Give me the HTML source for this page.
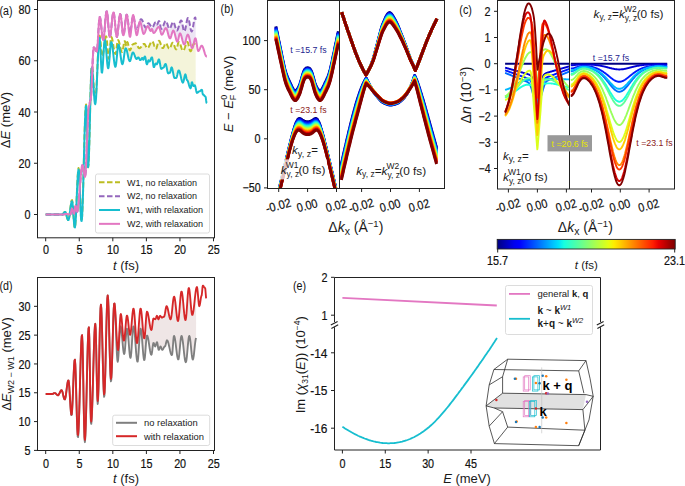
<!DOCTYPE html>
<html><head><meta charset="utf-8"><style>
html,body{margin:0;padding:0;background:#fff;}
svg{display:block;font-family:"Liberation Sans", sans-serif;}
</style></head><body>
<svg width="685" height="486" viewBox="0 0 685 486">
<defs><clipPath id="clipa"><rect x="37.5" y="0.5" width="177" height="237"/></clipPath></defs>
<rect x="0" y="0" width="685" height="486" fill="#fff"/>
<g id="pa">
<path d="M124.1,42.5 L124.5,41.3 L124.9,41.2 L125.3,42.3 L125.7,44.0 L126.1,45.4 L126.5,46.0 L126.9,44.1 L127.3,42.1 L127.7,42.6 L128.1,44.0 L128.5,45.9 L128.9,47.9 L129.3,49.5 L129.7,50.3 L130.1,50.2 L130.5,49.6 L130.9,48.7 L131.3,47.5 L131.7,46.4 L132.1,45.3 L132.5,44.6 L132.9,44.2 L133.3,44.2 L133.7,44.0 L134.1,43.9 L134.5,43.6 L134.9,43.5 L135.3,43.3 L135.7,43.3 L136.1,43.5 L136.5,44.0 L136.9,44.6 L137.3,45.4 L137.7,46.3 L138.1,47.0 L138.5,47.7 L138.9,48.1 L139.3,48.2 L139.7,48.1 L140.1,47.9 L140.5,47.6 L140.9,47.2 L141.3,46.7 L141.7,46.1 L142.1,45.6 L142.5,45.1 L142.9,44.6 L143.3,44.2 L143.7,44.0 L144.1,43.9 L144.5,44.0 L144.9,44.4 L145.3,45.1 L145.7,45.9 L146.1,46.8 L146.5,47.5 L146.9,48.0 L147.3,48.2 L147.7,48.1 L148.1,47.8 L148.5,47.2 L148.9,46.6 L149.3,45.8 L149.7,44.9 L150.1,44.0 L150.5,43.2 L150.9,42.5 L151.3,42.0 L151.7,41.6 L152.1,41.4 L152.5,41.5 L152.9,42.0 L153.3,42.9 L153.7,44.0 L154.1,45.3 L154.5,46.5 L154.9,47.5 L155.3,48.3 L155.7,48.7 L156.1,48.7 L156.5,48.1 L156.9,46.9 L157.3,45.4 L157.7,43.8 L158.1,42.4 L158.5,41.3 L158.9,40.8 L159.3,40.9 L159.7,41.4 L160.1,42.3 L160.5,43.4 L160.9,44.7 L161.3,45.9 L161.7,46.9 L162.1,47.7 L162.5,48.1 L162.9,48.1 L163.3,47.8 L163.7,47.0 L164.1,46.1 L164.5,45.1 L164.9,44.3 L165.3,43.6 L165.7,43.3 L166.1,43.4 L166.5,43.8 L166.9,44.4 L167.3,45.2 L167.7,46.2 L168.1,47.1 L168.5,47.9 L168.9,48.5 L169.3,48.8 L169.7,48.7 L170.1,48.3 L170.5,47.4 L170.9,46.2 L171.3,45.0 L171.7,43.9 L172.1,43.1 L172.5,42.7 L172.9,42.8 L173.3,43.3 L173.7,44.1 L174.1,45.1 L174.5,46.2 L174.9,47.3 L175.3,48.3 L175.7,49.0 L176.1,49.4 L176.5,49.3 L176.9,48.4 L177.3,46.8 L177.7,45.0 L178.1,43.3 L178.5,42.3 L178.9,42.0 L179.3,42.3 L179.7,42.9 L180.1,43.8 L180.5,44.9 L180.9,46.2 L181.3,47.5 L181.7,48.6 L182.1,49.6 L182.5,50.3 L182.9,50.7 L183.3,50.7 L183.7,50.3 L184.1,49.6 L184.5,48.6 L184.9,47.5 L185.3,46.2 L185.7,44.9 L186.1,43.8 L186.5,42.9 L186.9,42.3 L187.3,42.0 L187.7,42.2 L188.1,43.1 L188.5,44.6 L188.9,46.4 L189.3,48.3 L189.7,49.9 L190.1,50.9 L190.5,51.3 L190.9,51.1 L191.3,50.4 L191.7,49.4 L192.1,48.1 L192.5,46.8 L192.9,45.5 L193.3,44.4 L193.7,43.7 L194.1,43.3 L194.5,43.5 L194.9,44.4 L195.3,45.4 L195.7,46.0 L195.7,88.3 L195.3,86.4 L194.9,85.3 L194.5,85.3 L194.1,85.7 L193.7,86.1 L193.3,86.0 L192.9,84.9 L192.5,83.4 L192.1,82.3 L191.7,82.5 L191.3,84.8 L190.9,87.5 L190.5,88.3 L190.1,87.9 L189.7,87.1 L189.3,85.9 L188.9,84.6 L188.5,83.1 L188.1,81.8 L187.7,80.8 L187.3,80.2 L186.9,80.0 L186.5,78.8 L186.1,76.7 L185.7,74.9 L185.3,74.4 L184.9,75.2 L184.5,76.8 L184.1,78.8 L183.7,80.7 L183.3,82.1 L182.9,82.6 L182.5,82.3 L182.1,81.5 L181.7,80.3 L181.3,78.7 L180.9,76.9 L180.5,75.1 L180.1,73.4 L179.7,71.9 L179.3,70.9 L178.9,70.4 L178.5,70.4 L178.1,71.3 L177.7,73.0 L177.3,74.9 L176.9,76.6 L176.5,77.7 L176.1,78.0 L175.7,78.0 L175.3,78.0 L174.9,78.0 L174.5,78.0 L174.1,77.3 L173.7,75.8 L173.3,73.8 L172.9,71.6 L172.5,69.6 L172.1,68.1 L171.7,67.4 L171.3,67.8 L170.9,69.5 L170.5,71.4 L170.1,72.6 L169.7,72.7 L169.3,72.9 L168.9,73.2 L168.5,73.4 L168.1,73.3 L167.7,72.4 L167.3,70.7 L166.9,68.6 L166.5,66.6 L166.1,64.9 L165.7,64.0 L165.3,64.0 L164.9,64.6 L164.5,65.6 L164.1,66.7 L163.7,67.4 L163.3,67.6 L162.9,67.8 L162.5,68.1 L162.1,68.5 L161.7,68.8 L161.3,68.9 L160.9,68.3 L160.5,66.5 L160.1,64.1 L159.7,61.8 L159.3,60.0 L158.9,59.4 L158.5,59.8 L158.1,61.0 L157.7,62.4 L157.3,63.6 L156.9,64.3 L156.5,64.2 L156.1,63.8 L155.7,63.5 L155.3,63.8 L154.9,64.8 L154.5,66.2 L154.1,67.1 L153.7,67.0 L153.3,65.2 L152.9,62.2 L152.5,59.3 L152.1,57.5 L151.7,57.4 L151.3,57.9 L150.9,58.8 L150.5,59.8 L150.1,60.7 L149.7,61.4 L149.3,61.5 L148.9,60.6 L148.5,60.2 L148.1,61.0 L147.7,62.4 L147.3,63.8 L146.9,64.3 L146.5,63.6 L146.1,61.6 L145.7,59.2 L145.3,57.2 L144.9,56.5 L144.5,56.9 L144.1,58.0 L143.7,59.1 L143.3,59.8 L142.9,59.2 L142.5,57.9 L142.1,57.9 L141.7,58.4 L141.3,59.1 L140.9,59.7 L140.5,60.1 L140.1,60.1 L139.7,59.6 L139.3,58.7 L138.9,57.9 L138.5,57.4 L138.1,57.4 L137.7,57.8 L137.3,58.4 L136.9,58.9 L136.5,59.0 L136.1,58.7 L135.7,58.1 L135.3,57.2 L134.9,56.1 L134.5,55.0 L134.1,54.0 L133.7,53.1 L133.3,52.6 L132.9,52.4 L132.5,52.8 L132.1,53.8 L131.7,55.3 L131.3,57.0 L130.9,58.7 L130.5,60.1 L130.1,61.0 L129.7,61.2 L129.3,60.7 L128.9,59.7 L128.5,58.3 L128.1,56.5 L127.7,54.5 L127.3,52.6 L126.9,50.8 L126.5,49.5 L126.1,48.6 L125.7,48.3 L125.3,48.9 L124.9,50.5 L124.5,52.9 L124.1,55.9 Z" fill="#bcbd22" fill-opacity="0.170" stroke="none"/>
<path d="M124.1,33.2 L124.5,30.2 L124.9,26.4 L125.3,22.5 L125.7,18.9 L126.1,16.2 L126.5,14.7 L126.9,14.7 L127.3,16.0 L127.7,18.4 L128.1,21.6 L128.5,25.1 L128.9,28.4 L129.3,31.0 L129.7,32.6 L130.1,33.0 L130.5,31.9 L130.9,29.7 L131.3,26.6 L131.7,23.2 L132.1,20.0 L132.5,17.5 L132.9,16.2 L133.3,16.1 L133.7,17.0 L134.1,18.8 L134.5,21.1 L134.9,23.6 L135.3,26.1 L135.7,28.2 L136.1,29.5 L136.5,30.0 L136.9,29.8 L137.3,29.2 L137.7,28.3 L138.1,27.1 L138.5,25.7 L138.9,24.2 L139.3,22.8 L139.7,21.5 L140.1,20.4 L140.5,19.6 L140.9,19.3 L141.3,19.2 L141.7,19.5 L142.1,20.1 L142.5,20.8 L142.9,21.8 L143.3,22.8 L143.7,23.9 L144.1,25.0 L144.5,26.0 L144.9,26.8 L145.3,27.4 L145.7,27.7 L146.1,27.8 L146.5,27.2 L146.9,26.1 L147.3,24.9 L147.7,23.8 L148.1,23.2 L148.5,23.3 L148.9,23.5 L149.3,23.9 L149.7,24.4 L150.1,25.0 L150.5,25.6 L150.9,26.2 L151.3,26.7 L151.7,27.1 L152.1,27.3 L152.5,27.3 L152.9,26.9 L153.3,26.3 L153.7,25.4 L154.1,24.4 L154.5,23.6 L154.9,22.8 L155.3,22.4 L155.7,22.3 L156.1,22.9 L156.5,23.9 L156.9,24.5 L157.3,24.3 L157.7,23.5 L158.1,22.5 L158.5,21.5 L158.9,21.0 L159.3,21.3 L159.7,22.5 L160.1,24.4 L160.5,26.5 L160.9,28.1 L161.3,28.9 L161.7,28.8 L162.1,28.4 L162.5,27.7 L162.9,26.8 L163.3,25.8 L163.7,24.7 L164.1,23.6 L164.5,22.6 L164.9,21.8 L165.3,21.2 L165.7,21.0 L166.1,21.1 L166.5,21.7 L166.9,22.6 L167.3,23.7 L167.7,25.0 L168.1,26.3 L168.5,27.4 L168.9,28.2 L169.3,28.6 L169.7,28.7 L170.1,28.3 L170.5,27.6 L170.9,26.6 L171.3,25.5 L171.7,24.4 L172.1,23.4 L172.5,22.6 L172.9,22.1 L173.3,22.0 L173.7,22.4 L174.1,23.2 L174.5,24.3 L174.9,25.7 L175.3,27.1 L175.7,28.5 L176.1,29.6 L176.5,30.3 L176.9,30.5 L177.3,30.3 L177.7,29.7 L178.1,28.7 L178.5,27.4 L178.9,26.0 L179.3,24.5 L179.7,23.1 L180.1,21.9 L180.5,21.0 L180.9,20.5 L181.3,20.4 L181.7,21.1 L182.1,22.6 L182.5,24.6 L182.9,26.8 L183.3,28.9 L183.7,30.5 L184.1,31.4 L184.5,31.4 L184.9,30.6 L185.3,29.2 L185.7,27.3 L186.1,25.0 L186.5,22.8 L186.9,20.7 L187.3,19.2 L187.7,18.2 L188.1,18.0 L188.5,18.6 L188.9,19.9 L189.3,21.7 L189.7,23.9 L190.1,26.2 L190.5,28.3 L190.9,30.0 L191.3,31.1 L191.7,31.5 L192.1,31.0 L192.5,29.7 L192.9,27.8 L193.3,25.4 L193.7,22.8 L194.1,20.5 L194.5,18.7 L194.9,17.6 L195.3,17.5 L195.7,19.8 L195.7,38.6 L195.3,38.3 L194.9,38.9 L194.5,40.2 L194.1,42.0 L193.7,44.0 L193.3,45.9 L192.9,47.3 L192.5,48.1 L192.1,48.1 L191.7,47.6 L191.3,46.6 L190.9,45.2 L190.5,43.5 L190.1,41.6 L189.7,39.8 L189.3,38.0 L188.9,36.5 L188.5,35.4 L188.1,34.7 L187.7,34.6 L187.3,35.1 L186.9,36.1 L186.5,37.6 L186.1,39.3 L185.7,41.1 L185.3,42.6 L184.9,43.8 L184.5,44.4 L184.1,44.4 L183.7,44.0 L183.3,43.1 L182.9,41.8 L182.5,40.4 L182.1,38.7 L181.7,37.2 L181.3,35.7 L180.9,34.6 L180.5,33.8 L180.1,33.4 L179.7,33.7 L179.3,34.8 L178.9,36.6 L178.5,38.5 L178.1,40.3 L177.7,41.4 L177.3,41.7 L176.9,41.3 L176.5,40.4 L176.1,39.2 L175.7,37.6 L175.3,35.9 L174.9,34.3 L174.5,32.8 L174.1,31.6 L173.7,30.9 L173.3,30.6 L172.9,30.9 L172.5,31.7 L172.1,32.9 L171.7,34.3 L171.3,35.8 L170.9,37.1 L170.5,38.0 L170.1,38.4 L169.7,38.3 L169.3,37.7 L168.9,36.7 L168.5,35.4 L168.1,33.8 L167.7,32.3 L167.3,30.8 L166.9,29.5 L166.5,28.6 L166.1,28.2 L165.7,28.1 L165.3,28.4 L164.9,29.0 L164.5,29.8 L164.1,30.8 L163.7,31.8 L163.3,32.7 L162.9,33.6 L162.5,34.2 L162.1,34.6 L161.7,34.7 L161.3,34.1 L160.9,33.0 L160.5,31.4 L160.1,29.8 L159.7,28.3 L159.3,27.3 L158.9,26.9 L158.5,27.0 L158.1,27.2 L157.7,27.6 L157.3,28.2 L156.9,28.8 L156.5,29.5 L156.1,30.2 L155.7,30.9 L155.3,31.6 L154.9,32.1 L154.5,32.6 L154.1,32.9 L153.7,33.0 L153.3,32.7 L152.9,31.5 L152.5,30.0 L152.1,29.0 L151.7,29.0 L151.3,30.0 L150.9,30.9 L150.5,30.9 L150.1,30.5 L149.7,29.7 L149.3,28.6 L148.9,27.6 L148.5,26.7 L148.1,26.1 L147.7,26.0 L147.3,26.3 L146.9,26.9 L146.5,27.8 L146.1,28.9 L145.7,30.1 L145.3,31.3 L144.9,32.3 L144.5,33.2 L144.1,33.7 L143.7,33.9 L143.3,33.6 L142.9,32.6 L142.5,31.1 L142.1,29.2 L141.7,27.2 L141.3,25.2 L140.9,23.5 L140.5,22.2 L140.1,21.6 L139.7,21.6 L139.3,22.7 L138.9,24.7 L138.5,27.3 L138.1,30.1 L137.7,32.5 L137.3,34.3 L136.9,35.2 L136.5,34.9 L136.1,33.5 L135.7,31.1 L135.3,28.0 L134.9,24.6 L134.5,21.3 L134.1,18.3 L133.7,16.2 L133.3,15.0 L132.9,15.1 L132.5,16.9 L132.1,20.1 L131.7,24.3 L131.3,28.7 L130.9,32.7 L130.5,35.6 L130.1,36.9 L129.7,36.5 L129.3,34.6 L128.9,31.4 L128.5,27.4 L128.1,23.1 L127.7,19.2 L127.3,16.3 L126.9,14.7 L126.5,14.7 L126.1,16.2 L125.7,18.9 L125.3,22.5 L124.9,26.4 L124.5,30.2 L124.1,33.2 Z" fill="#9467bd" fill-opacity="0.170" stroke="none"/>
<g clip-path="url(#clipa)">
<path d="M45.7,214.5 L46.1,214.5 L46.5,214.5 L46.9,214.5 L47.3,214.5 L47.7,214.5 L48.1,214.5 L48.5,214.5 L48.9,214.5 L49.3,214.5 L49.7,214.5 L50.1,214.5 L50.5,214.5 L50.9,214.5 L51.3,214.5 L51.7,214.5 L52.1,214.5 L52.5,214.5 L52.9,214.5 L53.3,214.5 L53.7,214.5 L54.1,214.5 L54.5,214.5 L54.9,214.5 L55.3,214.5 L55.7,214.5 L56.1,214.5 L56.5,214.5 L56.9,214.5 L57.3,214.5 L57.7,214.5 L58.1,214.5 L58.5,214.5 L58.9,214.5 L59.3,214.5 L59.7,214.5 L60.1,214.5 L60.5,214.5 L60.9,214.5 L61.3,214.5 L61.7,214.5 L62.1,214.5 L62.5,214.3 L62.9,214.0 L63.3,213.5 L63.7,213.0 L64.1,212.5 L64.5,212.1 L64.9,211.9 L65.3,212.0 L65.7,212.6 L66.1,213.7 L66.5,215.2 L66.9,216.9 L67.3,218.4 L67.7,219.5 L68.1,220.1 L68.5,220.1 L68.9,218.9 L69.3,216.8 L69.7,213.9 L70.1,210.5 L70.5,207.1 L70.9,204.1 L71.3,201.7 L71.7,200.3 L72.1,200.1 L72.5,202.1 L72.9,206.5 L73.3,212.3 L73.7,218.4 L74.1,223.6 L74.5,226.8 L74.9,227.5 L75.3,225.1 L75.7,219.7 L76.1,212.0 L76.5,202.7 L76.9,192.9 L77.3,183.6 L77.7,175.9 L78.1,170.5 L78.5,168.1 L78.9,169.4 L79.3,175.3 L79.7,184.8 L80.1,196.2 L80.5,207.3 L80.9,216.0 L81.3,220.9 L81.7,221.0 L82.1,216.7 L82.5,208.4 L82.9,196.7 L83.3,182.6 L83.7,167.0 L84.1,151.1 L84.5,136.1 L84.9,123.1 L85.3,113.0 L85.7,106.7 L86.1,104.5 L86.5,110.5 L86.9,126.2 L87.3,145.6 L87.7,161.3 L88.1,167.3 L88.5,164.4 L88.9,156.1 L89.3,143.2 L89.7,127.3 L90.1,110.2 L90.5,93.8 L90.9,80.1 L91.3,70.5 L91.7,66.2 L92.1,66.6 L92.5,69.4 L92.9,74.1 L93.3,79.9 L93.7,86.1 L94.1,91.9 L94.5,96.6 L94.9,99.4 L95.3,99.9 L95.7,98.0 L96.1,93.6 L96.5,87.1 L96.9,79.0 L97.3,70.1 L97.7,60.9 L98.1,52.3 L98.5,44.9 L98.9,39.4 L99.3,36.2 L99.7,35.6 L100.1,37.4 L100.5,41.1 L100.9,46.0 L101.3,50.9 L101.7,54.6 L102.1,56.4 L102.5,56.2 L102.9,55.0 L103.3,53.0 L103.7,50.3 L104.1,47.2 L104.5,44.0 L104.9,41.1 L105.3,38.7 L105.7,37.1 L106.1,36.3 L106.5,37.1 L106.9,40.4 L107.3,45.5 L107.7,51.2 L108.1,55.9 L108.5,58.6 L108.9,58.7 L109.3,56.2 L109.7,51.9 L110.1,46.7 L110.5,41.8 L110.9,38.3 L111.3,37.0 L111.7,37.4 L112.1,38.5 L112.5,40.3 L112.9,42.6 L113.3,45.2 L113.7,47.8 L114.1,50.1 L114.5,52.1 L114.9,53.4 L115.3,54.0 L115.7,53.5 L116.1,51.7 L116.5,48.7 L116.9,45.4 L117.3,42.4 L117.7,40.6 L118.1,40.1 L118.5,40.5 L118.9,41.4 L119.3,42.8 L119.7,44.4 L120.1,46.2 L120.5,48.0 L120.9,49.6 L121.3,50.8 L121.7,51.6 L122.1,51.9 L122.5,51.3 L122.9,49.6 L123.3,47.2 L123.7,44.6 L124.1,42.5 L124.5,41.3 L124.9,41.2 L125.3,42.3 L125.7,44.0 L126.1,45.4 L126.5,46.0 L126.9,44.1 L127.3,42.1 L127.7,42.6 L128.1,44.0 L128.5,45.9 L128.9,47.9 L129.3,49.5 L129.7,50.3 L130.1,50.2 L130.5,49.6 L130.9,48.7 L131.3,47.5 L131.7,46.4 L132.1,45.3 L132.5,44.6 L132.9,44.2 L133.3,44.2 L133.7,44.0 L134.1,43.9 L134.5,43.6 L134.9,43.5 L135.3,43.3 L135.7,43.3 L136.1,43.5 L136.5,44.0 L136.9,44.6 L137.3,45.4 L137.7,46.3 L138.1,47.0 L138.5,47.7 L138.9,48.1 L139.3,48.2 L139.7,48.1 L140.1,47.9 L140.5,47.6 L140.9,47.2 L141.3,46.7 L141.7,46.1 L142.1,45.6 L142.5,45.1 L142.9,44.6 L143.3,44.2 L143.7,44.0 L144.1,43.9 L144.5,44.0 L144.9,44.4 L145.3,45.1 L145.7,45.9 L146.1,46.8 L146.5,47.5 L146.9,48.0 L147.3,48.2 L147.7,48.1 L148.1,47.8 L148.5,47.2 L148.9,46.6 L149.3,45.8 L149.7,44.9 L150.1,44.0 L150.5,43.2 L150.9,42.5 L151.3,42.0 L151.7,41.6 L152.1,41.4 L152.5,41.5 L152.9,42.0 L153.3,42.9 L153.7,44.0 L154.1,45.3 L154.5,46.5 L154.9,47.5 L155.3,48.3 L155.7,48.7 L156.1,48.7 L156.5,48.1 L156.9,46.9 L157.3,45.4 L157.7,43.8 L158.1,42.4 L158.5,41.3 L158.9,40.8 L159.3,40.9 L159.7,41.4 L160.1,42.3 L160.5,43.4 L160.9,44.7 L161.3,45.9 L161.7,46.9 L162.1,47.7 L162.5,48.1 L162.9,48.1 L163.3,47.8 L163.7,47.0 L164.1,46.1 L164.5,45.1 L164.9,44.3 L165.3,43.6 L165.7,43.3 L166.1,43.4 L166.5,43.8 L166.9,44.4 L167.3,45.2 L167.7,46.2 L168.1,47.1 L168.5,47.9 L168.9,48.5 L169.3,48.8 L169.7,48.7 L170.1,48.3 L170.5,47.4 L170.9,46.2 L171.3,45.0 L171.7,43.9 L172.1,43.1 L172.5,42.7 L172.9,42.8 L173.3,43.3 L173.7,44.1 L174.1,45.1 L174.5,46.2 L174.9,47.3 L175.3,48.3 L175.7,49.0 L176.1,49.4 L176.5,49.3 L176.9,48.4 L177.3,46.8 L177.7,45.0 L178.1,43.3 L178.5,42.3 L178.9,42.0 L179.3,42.3 L179.7,42.9 L180.1,43.8 L180.5,44.9 L180.9,46.2 L181.3,47.5 L181.7,48.6 L182.1,49.6 L182.5,50.3 L182.9,50.7 L183.3,50.7 L183.7,50.3 L184.1,49.6 L184.5,48.6 L184.9,47.5 L185.3,46.2 L185.7,44.9 L186.1,43.8 L186.5,42.9 L186.9,42.3 L187.3,42.0 L187.7,42.2 L188.1,43.1 L188.5,44.6 L188.9,46.4 L189.3,48.3 L189.7,49.9 L190.1,50.9 L190.5,51.3 L190.9,51.1 L191.3,50.4 L191.7,49.4 L192.1,48.1 L192.5,46.8 L192.9,45.5 L193.3,44.4 L193.7,43.7 L194.1,43.3 L194.5,43.5 L194.9,44.4 L195.3,45.4 L195.7,46.0" fill="none" stroke="#bcbd22" stroke-width="2.00" stroke-linejoin="round" stroke-linecap="butt" stroke-dasharray="5.5,2.5" />
<path d="M45.7,214.5 L46.1,214.5 L46.5,214.5 L46.9,214.5 L47.3,214.5 L47.7,214.5 L48.1,214.5 L48.5,214.5 L48.9,214.5 L49.3,214.5 L49.7,214.5 L50.1,214.5 L50.5,214.5 L50.9,214.5 L51.3,214.5 L51.7,214.5 L52.1,214.5 L52.5,214.5 L52.9,214.5 L53.3,214.5 L53.7,214.5 L54.1,214.5 L54.5,214.5 L54.9,214.5 L55.3,214.5 L55.7,214.5 L56.1,214.5 L56.5,214.5 L56.9,214.5 L57.3,214.5 L57.7,214.5 L58.1,214.5 L58.5,214.5 L58.9,214.5 L59.3,214.5 L59.7,214.5 L60.1,214.5 L60.5,214.5 L60.9,214.5 L61.3,214.5 L61.7,214.5 L62.1,214.5 L62.5,214.5 L62.9,214.5 L63.3,214.4 L63.7,214.4 L64.1,214.3 L64.5,214.2 L64.9,214.2 L65.3,214.1 L65.7,214.1 L66.1,214.0 L66.5,214.0 L66.9,214.0 L67.3,214.0 L67.7,214.1 L68.1,214.2 L68.5,214.3 L68.9,214.4 L69.3,214.5 L69.7,214.6 L70.1,214.6 L70.5,214.2 L70.9,212.6 L71.3,210.6 L71.7,209.0 L72.1,208.6 L72.5,209.4 L72.9,210.9 L73.3,212.5 L73.7,213.6 L74.1,213.5 L74.5,211.7 L74.9,209.1 L75.3,206.7 L75.7,205.8 L76.1,206.9 L76.5,209.5 L76.9,211.6 L77.3,211.7 L77.7,210.5 L78.1,208.0 L78.5,204.5 L78.9,200.2 L79.3,195.2 L79.7,189.8 L80.1,184.4 L80.5,179.2 L80.9,174.4 L81.3,170.5 L81.7,167.5 L82.1,165.6 L82.5,165.0 L82.9,165.7 L83.3,167.8 L83.7,170.6 L84.1,173.6 L84.5,175.9 L84.9,177.0 L85.3,176.0 L85.7,171.8 L86.1,164.6 L86.5,155.1 L86.9,144.3 L87.3,133.2 L87.7,123.0 L88.1,114.5 L88.5,108.7 L88.9,106.1 L89.3,105.4 L89.7,103.3 L90.1,101.0 L90.5,100.0 L90.9,98.1 L91.3,92.7 L91.7,84.6 L92.1,75.0 L92.5,65.1 L92.9,56.5 L93.3,50.3 L93.7,47.5 L94.1,47.5 L94.5,47.9 L94.9,48.6 L95.3,49.4 L95.7,50.3 L96.1,51.0 L96.5,51.4 L96.9,51.4 L97.3,49.0 L97.7,43.9 L98.1,37.0 L98.5,29.6 L98.9,23.0 L99.3,18.5 L99.7,16.9 L100.1,17.6 L100.5,19.8 L100.9,23.0 L101.3,26.9 L101.7,31.0 L102.1,34.8 L102.5,37.8 L102.9,39.6 L103.3,39.9 L103.7,38.6 L104.1,35.6 L104.5,31.3 L104.9,26.2 L105.3,21.2 L105.7,16.6 L106.1,13.2 L106.5,11.4 L106.9,11.5 L107.3,13.5 L107.7,17.3 L108.1,22.1 L108.5,27.3 L108.9,32.0 L109.3,35.4 L109.7,36.9 L110.1,36.6 L110.5,34.9 L110.9,32.0 L111.3,28.3 L111.7,24.1 L112.1,20.0 L112.5,16.5 L112.9,13.9 L113.3,12.5 L113.7,12.5 L114.1,14.3 L114.5,17.5 L114.9,21.7 L115.3,26.4 L115.7,30.8 L116.1,34.4 L116.5,36.5 L116.9,37.0 L117.3,35.8 L117.7,33.2 L118.1,29.7 L118.5,25.5 L118.9,21.3 L119.3,17.8 L119.7,15.2 L120.1,14.0 L120.5,14.5 L120.9,16.4 L121.3,19.7 L121.7,23.7 L122.1,27.8 L122.5,31.5 L122.9,34.1 L123.3,35.3 L123.7,35.0 L124.1,33.2 L124.5,30.2 L124.9,26.4 L125.3,22.5 L125.7,18.9 L126.1,16.2 L126.5,14.7 L126.9,14.7 L127.3,16.0 L127.7,18.4 L128.1,21.6 L128.5,25.1 L128.9,28.4 L129.3,31.0 L129.7,32.6 L130.1,33.0 L130.5,31.9 L130.9,29.7 L131.3,26.6 L131.7,23.2 L132.1,20.0 L132.5,17.5 L132.9,16.2 L133.3,16.1 L133.7,17.0 L134.1,18.8 L134.5,21.1 L134.9,23.6 L135.3,26.1 L135.7,28.2 L136.1,29.5 L136.5,30.0 L136.9,29.8 L137.3,29.2 L137.7,28.3 L138.1,27.1 L138.5,25.7 L138.9,24.2 L139.3,22.8 L139.7,21.5 L140.1,20.4 L140.5,19.6 L140.9,19.3 L141.3,19.2 L141.7,19.5 L142.1,20.1 L142.5,20.8 L142.9,21.8 L143.3,22.8 L143.7,23.9 L144.1,25.0 L144.5,26.0 L144.9,26.8 L145.3,27.4 L145.7,27.7 L146.1,27.8 L146.5,27.2 L146.9,26.1 L147.3,24.9 L147.7,23.8 L148.1,23.2 L148.5,23.3 L148.9,23.5 L149.3,23.9 L149.7,24.4 L150.1,25.0 L150.5,25.6 L150.9,26.2 L151.3,26.7 L151.7,27.1 L152.1,27.3 L152.5,27.3 L152.9,26.9 L153.3,26.3 L153.7,25.4 L154.1,24.4 L154.5,23.6 L154.9,22.8 L155.3,22.4 L155.7,22.3 L156.1,22.9 L156.5,23.9 L156.9,24.5 L157.3,24.3 L157.7,23.5 L158.1,22.5 L158.5,21.5 L158.9,21.0 L159.3,21.3 L159.7,22.5 L160.1,24.4 L160.5,26.5 L160.9,28.1 L161.3,28.9 L161.7,28.8 L162.1,28.4 L162.5,27.7 L162.9,26.8 L163.3,25.8 L163.7,24.7 L164.1,23.6 L164.5,22.6 L164.9,21.8 L165.3,21.2 L165.7,21.0 L166.1,21.1 L166.5,21.7 L166.9,22.6 L167.3,23.7 L167.7,25.0 L168.1,26.3 L168.5,27.4 L168.9,28.2 L169.3,28.6 L169.7,28.7 L170.1,28.3 L170.5,27.6 L170.9,26.6 L171.3,25.5 L171.7,24.4 L172.1,23.4 L172.5,22.6 L172.9,22.1 L173.3,22.0 L173.7,22.4 L174.1,23.2 L174.5,24.3 L174.9,25.7 L175.3,27.1 L175.7,28.5 L176.1,29.6 L176.5,30.3 L176.9,30.5 L177.3,30.3 L177.7,29.7 L178.1,28.7 L178.5,27.4 L178.9,26.0 L179.3,24.5 L179.7,23.1 L180.1,21.9 L180.5,21.0 L180.9,20.5 L181.3,20.4 L181.7,21.1 L182.1,22.6 L182.5,24.6 L182.9,26.8 L183.3,28.9 L183.7,30.5 L184.1,31.4 L184.5,31.4 L184.9,30.6 L185.3,29.2 L185.7,27.3 L186.1,25.0 L186.5,22.8 L186.9,20.7 L187.3,19.2 L187.7,18.2 L188.1,18.0 L188.5,18.6 L188.9,19.9 L189.3,21.7 L189.7,23.9 L190.1,26.2 L190.5,28.3 L190.9,30.0 L191.3,31.1 L191.7,31.5 L192.1,31.0 L192.5,29.7 L192.9,27.8 L193.3,25.4 L193.7,22.8 L194.1,20.5 L194.5,18.7 L194.9,17.6 L195.3,17.5 L195.7,19.8" fill="none" stroke="#9467bd" stroke-width="2.00" stroke-linejoin="round" stroke-linecap="butt" stroke-dasharray="5.5,2.5" />
<path d="M45.7,214.5 L46.1,214.5 L46.5,214.5 L46.9,214.5 L47.3,214.5 L47.7,214.5 L48.1,214.5 L48.5,214.5 L48.9,214.5 L49.3,214.5 L49.7,214.5 L50.1,214.5 L50.5,214.5 L50.9,214.5 L51.3,214.5 L51.7,214.5 L52.1,214.5 L52.5,214.5 L52.9,214.5 L53.3,214.5 L53.7,214.5 L54.1,214.5 L54.5,214.5 L54.9,214.5 L55.3,214.5 L55.7,214.5 L56.1,214.5 L56.5,214.5 L56.9,214.5 L57.3,214.5 L57.7,214.5 L58.1,214.5 L58.5,214.5 L58.9,214.5 L59.3,214.5 L59.7,214.5 L60.1,214.5 L60.5,214.5 L60.9,214.5 L61.3,214.5 L61.7,214.5 L62.1,214.5 L62.5,214.3 L62.9,214.0 L63.3,213.5 L63.7,213.0 L64.1,212.5 L64.5,212.1 L64.9,211.9 L65.3,212.0 L65.7,212.6 L66.1,213.7 L66.5,215.2 L66.9,216.9 L67.3,218.4 L67.7,219.5 L68.1,220.1 L68.5,220.1 L68.9,219.0 L69.3,217.0 L69.7,214.2 L70.1,211.1 L70.5,207.9 L70.9,205.1 L71.3,202.8 L71.7,201.5 L72.1,201.3 L72.5,203.2 L72.9,207.4 L73.3,212.9 L73.7,218.8 L74.1,223.7 L74.5,226.9 L74.9,227.5 L75.3,225.2 L75.7,219.9 L76.1,212.4 L76.5,203.3 L76.9,193.8 L77.3,184.7 L77.7,177.2 L78.1,171.9 L78.5,169.6 L78.9,170.9 L79.3,176.6 L79.7,185.9 L80.1,196.9 L80.5,207.7 L80.9,216.2 L81.3,220.9 L81.7,221.0 L82.1,216.7 L82.5,208.5 L82.9,197.0 L83.3,183.0 L83.7,167.6 L84.1,151.9 L84.5,137.0 L84.9,124.2 L85.3,114.2 L85.7,107.9 L86.1,105.8 L86.5,111.7 L86.9,127.0 L87.3,146.1 L87.7,161.4 L88.1,167.3 L88.5,164.5 L88.9,156.3 L89.3,143.7 L89.7,128.1 L90.1,111.3 L90.5,95.3 L90.9,81.8 L91.3,72.4 L91.7,68.2 L92.1,68.7 L92.5,71.7 L92.9,76.6 L93.3,82.8 L93.7,89.4 L94.1,95.6 L94.5,100.5 L94.9,103.5 L95.3,104.1 L95.7,102.0 L96.1,97.2 L96.5,90.3 L96.9,81.6 L97.3,72.1 L97.7,62.4 L98.1,53.5 L98.5,46.0 L98.9,40.7 L99.3,37.9 L99.7,38.1 L100.1,42.7 L100.5,50.7 L100.9,59.8 L101.3,67.8 L101.7,72.4 L102.1,72.6 L102.5,69.6 L102.9,64.3 L103.3,57.4 L103.7,50.5 L104.1,44.6 L104.5,41.0 L104.9,40.2 L105.3,41.6 L105.7,44.7 L106.1,49.1 L106.5,54.2 L106.9,59.4 L107.3,63.8 L107.7,66.9 L108.1,68.3 L108.5,67.8 L108.9,65.2 L109.3,61.0 L109.7,55.9 L110.1,50.7 L110.5,46.2 L110.9,43.2 L111.3,42.1 L111.7,42.7 L112.1,44.3 L112.5,47.0 L112.9,50.3 L113.3,54.0 L113.7,57.7 L114.1,61.2 L114.5,64.0 L114.9,65.9 L115.3,66.8 L115.7,66.3 L116.1,64.1 L116.5,60.6 L116.9,56.3 L117.3,51.9 L117.7,48.1 L118.1,45.6 L118.5,44.7 L118.9,45.2 L119.3,46.7 L119.7,48.9 L120.1,51.7 L120.5,54.8 L120.9,57.9 L121.3,60.6 L121.7,62.7 L122.1,63.9 L122.5,64.2 L122.9,63.3 L123.3,61.5 L123.7,58.9 L124.1,55.9 L124.5,52.9 L124.9,50.5 L125.3,48.9 L125.7,48.3 L126.1,48.6 L126.5,49.5 L126.9,50.8 L127.3,52.6 L127.7,54.5 L128.1,56.5 L128.5,58.3 L128.9,59.7 L129.3,60.7 L129.7,61.2 L130.1,61.0 L130.5,60.1 L130.9,58.7 L131.3,57.0 L131.7,55.3 L132.1,53.8 L132.5,52.8 L132.9,52.4 L133.3,52.6 L133.7,53.1 L134.1,54.0 L134.5,55.0 L134.9,56.1 L135.3,57.2 L135.7,58.1 L136.1,58.7 L136.5,59.0 L136.9,58.9 L137.3,58.4 L137.7,57.8 L138.1,57.4 L138.5,57.4 L138.9,57.9 L139.3,58.7 L139.7,59.6 L140.1,60.1 L140.5,60.1 L140.9,59.7 L141.3,59.1 L141.7,58.4 L142.1,57.9 L142.5,57.9 L142.9,59.2 L143.3,59.8 L143.7,59.1 L144.1,58.0 L144.5,56.9 L144.9,56.5 L145.3,57.2 L145.7,59.2 L146.1,61.6 L146.5,63.6 L146.9,64.3 L147.3,63.8 L147.7,62.4 L148.1,61.0 L148.5,60.2 L148.9,60.6 L149.3,61.5 L149.7,61.4 L150.1,60.7 L150.5,59.8 L150.9,58.8 L151.3,57.9 L151.7,57.4 L152.1,57.5 L152.5,59.3 L152.9,62.2 L153.3,65.2 L153.7,67.0 L154.1,67.1 L154.5,66.2 L154.9,64.8 L155.3,63.8 L155.7,63.5 L156.1,63.8 L156.5,64.2 L156.9,64.3 L157.3,63.6 L157.7,62.4 L158.1,61.0 L158.5,59.8 L158.9,59.4 L159.3,60.0 L159.7,61.8 L160.1,64.1 L160.5,66.5 L160.9,68.3 L161.3,68.9 L161.7,68.8 L162.1,68.5 L162.5,68.1 L162.9,67.8 L163.3,67.6 L163.7,67.4 L164.1,66.7 L164.5,65.6 L164.9,64.6 L165.3,64.0 L165.7,64.0 L166.1,64.9 L166.5,66.6 L166.9,68.6 L167.3,70.7 L167.7,72.4 L168.1,73.3 L168.5,73.4 L168.9,73.2 L169.3,72.9 L169.7,72.7 L170.1,72.6 L170.5,71.4 L170.9,69.5 L171.3,67.8 L171.7,67.4 L172.1,68.1 L172.5,69.6 L172.9,71.6 L173.3,73.8 L173.7,75.8 L174.1,77.3 L174.5,78.0 L174.9,78.0 L175.3,78.0 L175.7,78.0 L176.1,78.0 L176.5,77.7 L176.9,76.6 L177.3,74.9 L177.7,73.0 L178.1,71.3 L178.5,70.4 L178.9,70.4 L179.3,70.9 L179.7,71.9 L180.1,73.4 L180.5,75.1 L180.9,76.9 L181.3,78.7 L181.7,80.3 L182.1,81.5 L182.5,82.3 L182.9,82.6 L183.3,82.1 L183.7,80.7 L184.1,78.8 L184.5,76.8 L184.9,75.2 L185.3,74.4 L185.7,74.9 L186.1,76.7 L186.5,78.8 L186.9,80.0 L187.3,80.2 L187.7,80.8 L188.1,81.8 L188.5,83.1 L188.9,84.6 L189.3,85.9 L189.7,87.1 L190.1,87.9 L190.5,88.3 L190.9,87.5 L191.3,84.8 L191.7,82.5 L192.1,82.3 L192.5,83.4 L192.9,84.9 L193.3,86.0 L193.7,86.1 L194.1,85.7 L194.5,85.3 L194.9,85.3 L195.3,86.4 L195.7,88.3 L196.1,90.3 L196.5,92.0 L196.9,92.9 L197.3,92.8 L197.7,92.6 L198.1,92.2 L198.5,91.8 L198.9,91.5 L199.3,91.4 L199.7,91.3 L200.1,91.1 L200.5,90.7 L200.9,90.3 L201.3,90.0 L201.7,89.8 L202.1,90.2 L202.5,92.9 L202.9,94.5 L203.3,94.6 L203.7,94.9 L204.1,95.4 L204.5,95.9 L204.9,96.2 L205.3,96.5 L205.7,97.0 L206.1,100.2 L206.5,102.9 L206.9,103.0" fill="none" stroke="#17becf" stroke-width="2.00" stroke-linejoin="round" stroke-linecap="butt" />
<path d="M45.7,214.5 L46.1,214.5 L46.5,214.5 L46.9,214.5 L47.3,214.5 L47.7,214.5 L48.1,214.5 L48.5,214.5 L48.9,214.5 L49.3,214.5 L49.7,214.5 L50.1,214.5 L50.5,214.5 L50.9,214.5 L51.3,214.5 L51.7,214.5 L52.1,214.5 L52.5,214.5 L52.9,214.5 L53.3,214.5 L53.7,214.5 L54.1,214.5 L54.5,214.5 L54.9,214.5 L55.3,214.5 L55.7,214.5 L56.1,214.5 L56.5,214.5 L56.9,214.5 L57.3,214.5 L57.7,214.5 L58.1,214.5 L58.5,214.5 L58.9,214.5 L59.3,214.5 L59.7,214.5 L60.1,214.5 L60.5,214.5 L60.9,214.5 L61.3,214.5 L61.7,214.5 L62.1,214.5 L62.5,214.5 L62.9,214.5 L63.3,214.4 L63.7,214.4 L64.1,214.3 L64.5,214.2 L64.9,214.2 L65.3,214.1 L65.7,214.1 L66.1,214.0 L66.5,214.0 L66.9,214.0 L67.3,214.0 L67.7,214.1 L68.1,214.2 L68.5,214.3 L68.9,214.4 L69.3,214.5 L69.7,214.6 L70.1,214.6 L70.5,214.2 L70.9,212.6 L71.3,210.6 L71.7,209.0 L72.1,208.6 L72.5,209.4 L72.9,210.9 L73.3,212.5 L73.7,213.6 L74.1,213.5 L74.5,211.7 L74.9,209.1 L75.3,206.7 L75.7,205.8 L76.1,206.9 L76.5,209.5 L76.9,211.6 L77.3,211.7 L77.7,210.5 L78.1,208.0 L78.5,204.5 L78.9,200.2 L79.3,195.2 L79.7,189.8 L80.1,184.4 L80.5,179.2 L80.9,174.4 L81.3,170.5 L81.7,167.5 L82.1,165.6 L82.5,165.0 L82.9,165.7 L83.3,167.8 L83.7,170.6 L84.1,173.6 L84.5,175.9 L84.9,177.0 L85.3,176.0 L85.7,171.8 L86.1,164.6 L86.5,155.1 L86.9,144.3 L87.3,133.2 L87.7,123.0 L88.1,114.5 L88.5,108.7 L88.9,106.1 L89.3,105.4 L89.7,103.3 L90.1,101.0 L90.5,100.0 L90.9,98.1 L91.3,92.7 L91.7,84.6 L92.1,75.0 L92.5,65.1 L92.9,56.5 L93.3,50.3 L93.7,47.5 L94.1,47.5 L94.5,47.9 L94.9,48.6 L95.3,49.4 L95.7,50.3 L96.1,51.0 L96.5,51.4 L96.9,51.4 L97.3,49.0 L97.7,43.9 L98.1,37.0 L98.5,29.6 L98.9,23.0 L99.3,18.5 L99.7,16.9 L100.1,17.6 L100.5,19.8 L100.9,23.0 L101.3,26.9 L101.7,31.0 L102.1,34.8 L102.5,37.8 L102.9,39.6 L103.3,39.9 L103.7,38.6 L104.1,35.6 L104.5,31.3 L104.9,26.2 L105.3,21.2 L105.7,16.6 L106.1,13.2 L106.5,11.4 L106.9,11.5 L107.3,13.5 L107.7,17.3 L108.1,22.1 L108.5,27.3 L108.9,32.0 L109.3,35.4 L109.7,36.9 L110.1,36.6 L110.5,34.9 L110.9,32.0 L111.3,28.3 L111.7,24.1 L112.1,20.0 L112.5,16.5 L112.9,13.9 L113.3,12.5 L113.7,12.5 L114.1,14.3 L114.5,17.5 L114.9,21.7 L115.3,26.4 L115.7,30.8 L116.1,34.4 L116.5,36.5 L116.9,37.0 L117.3,35.8 L117.7,33.2 L118.1,29.7 L118.5,25.5 L118.9,21.3 L119.3,17.8 L119.7,15.2 L120.1,14.0 L120.5,14.5 L120.9,16.4 L121.3,19.7 L121.7,23.7 L122.1,27.8 L122.5,31.5 L122.9,34.1 L123.3,35.3 L123.7,35.0 L124.1,33.2 L124.5,30.2 L124.9,26.4 L125.3,22.5 L125.7,18.9 L126.1,16.2 L126.5,14.7 L126.9,14.7 L127.3,16.3 L127.7,19.2 L128.1,23.1 L128.5,27.4 L128.9,31.4 L129.3,34.6 L129.7,36.5 L130.1,36.9 L130.5,35.6 L130.9,32.7 L131.3,28.7 L131.7,24.3 L132.1,20.1 L132.5,16.9 L132.9,15.1 L133.3,15.0 L133.7,16.2 L134.1,18.3 L134.5,21.3 L134.9,24.6 L135.3,28.0 L135.7,31.1 L136.1,33.5 L136.5,34.9 L136.9,35.2 L137.3,34.3 L137.7,32.5 L138.1,30.1 L138.5,27.3 L138.9,24.7 L139.3,22.7 L139.7,21.6 L140.1,21.6 L140.5,22.2 L140.9,23.5 L141.3,25.2 L141.7,27.2 L142.1,29.2 L142.5,31.1 L142.9,32.6 L143.3,33.6 L143.7,33.9 L144.1,33.7 L144.5,33.2 L144.9,32.3 L145.3,31.3 L145.7,30.1 L146.1,28.9 L146.5,27.8 L146.9,26.9 L147.3,26.3 L147.7,26.0 L148.1,26.1 L148.5,26.7 L148.9,27.6 L149.3,28.6 L149.7,29.7 L150.1,30.5 L150.5,30.9 L150.9,30.9 L151.3,30.0 L151.7,29.0 L152.1,29.0 L152.5,30.0 L152.9,31.5 L153.3,32.7 L153.7,33.0 L154.1,32.9 L154.5,32.6 L154.9,32.1 L155.3,31.6 L155.7,30.9 L156.1,30.2 L156.5,29.5 L156.9,28.8 L157.3,28.2 L157.7,27.6 L158.1,27.2 L158.5,27.0 L158.9,26.9 L159.3,27.3 L159.7,28.3 L160.1,29.8 L160.5,31.4 L160.9,33.0 L161.3,34.1 L161.7,34.7 L162.1,34.6 L162.5,34.2 L162.9,33.6 L163.3,32.7 L163.7,31.8 L164.1,30.8 L164.5,29.8 L164.9,29.0 L165.3,28.4 L165.7,28.1 L166.1,28.2 L166.5,28.6 L166.9,29.5 L167.3,30.8 L167.7,32.3 L168.1,33.8 L168.5,35.4 L168.9,36.7 L169.3,37.7 L169.7,38.3 L170.1,38.4 L170.5,38.0 L170.9,37.1 L171.3,35.8 L171.7,34.3 L172.1,32.9 L172.5,31.7 L172.9,30.9 L173.3,30.6 L173.7,30.9 L174.1,31.6 L174.5,32.8 L174.9,34.3 L175.3,35.9 L175.7,37.6 L176.1,39.2 L176.5,40.4 L176.9,41.3 L177.3,41.7 L177.7,41.4 L178.1,40.3 L178.5,38.5 L178.9,36.6 L179.3,34.8 L179.7,33.7 L180.1,33.4 L180.5,33.8 L180.9,34.6 L181.3,35.7 L181.7,37.2 L182.1,38.7 L182.5,40.4 L182.9,41.8 L183.3,43.1 L183.7,44.0 L184.1,44.4 L184.5,44.4 L184.9,43.8 L185.3,42.6 L185.7,41.1 L186.1,39.3 L186.5,37.6 L186.9,36.1 L187.3,35.1 L187.7,34.6 L188.1,34.7 L188.5,35.4 L188.9,36.5 L189.3,38.0 L189.7,39.8 L190.1,41.6 L190.5,43.5 L190.9,45.2 L191.3,46.6 L191.7,47.6 L192.1,48.1 L192.5,48.1 L192.9,47.3 L193.3,45.9 L193.7,44.0 L194.1,42.0 L194.5,40.2 L194.9,38.9 L195.3,38.3 L195.7,38.6 L196.1,40.0 L196.5,42.3 L196.9,45.0 L197.3,47.6 L197.7,49.7 L198.1,50.9 L198.5,51.0 L198.9,50.6 L199.3,49.9 L199.7,49.1 L200.1,48.1 L200.5,47.2 L200.9,46.4 L201.3,45.9 L201.7,45.7 L202.1,45.9 L202.5,46.4 L202.9,47.2 L203.3,48.3 L203.7,49.6 L204.1,50.9 L204.5,52.3 L204.9,53.6 L205.3,54.7 L205.7,55.6 L206.1,56.2 L206.5,56.5 L206.9,56.5" fill="none" stroke="#e377c2" stroke-width="2.00" stroke-linejoin="round" stroke-linecap="butt" />
</g>
<rect x="37.50" y="0.50" width="177.00" height="237.30" fill="none" stroke="#222" stroke-width="1.00"/>
<line x1="45.70" y1="237.80" x2="45.70" y2="241.30" stroke="#222" stroke-width="1.00"/>
<text x="45.90" y="254.35" font-size="12.30" text-anchor="middle" fill="#111" stroke="#111" stroke-width="0.2" textLength="6.00" lengthAdjust="spacingAndGlyphs">0</text>
<line x1="79.26" y1="237.80" x2="79.26" y2="241.30" stroke="#222" stroke-width="1.00"/>
<text x="79.46" y="254.35" font-size="12.30" text-anchor="middle" fill="#111" stroke="#111" stroke-width="0.2" textLength="6.00" lengthAdjust="spacingAndGlyphs">5</text>
<line x1="112.82" y1="237.80" x2="112.82" y2="241.30" stroke="#222" stroke-width="1.00"/>
<text x="113.02" y="254.35" font-size="12.30" text-anchor="middle" fill="#111" stroke="#111" stroke-width="0.2" textLength="12.00" lengthAdjust="spacingAndGlyphs">10</text>
<line x1="146.38" y1="237.80" x2="146.38" y2="241.30" stroke="#222" stroke-width="1.00"/>
<text x="146.58" y="254.35" font-size="12.30" text-anchor="middle" fill="#111" stroke="#111" stroke-width="0.2" textLength="12.00" lengthAdjust="spacingAndGlyphs">15</text>
<line x1="179.94" y1="237.80" x2="179.94" y2="241.30" stroke="#222" stroke-width="1.00"/>
<text x="180.14" y="254.35" font-size="12.30" text-anchor="middle" fill="#111" stroke="#111" stroke-width="0.2" textLength="12.00" lengthAdjust="spacingAndGlyphs">20</text>
<line x1="213.50" y1="237.80" x2="213.50" y2="241.30" stroke="#222" stroke-width="1.00"/>
<text x="213.70" y="254.35" font-size="12.30" text-anchor="middle" fill="#111" stroke="#111" stroke-width="0.2" textLength="12.00" lengthAdjust="spacingAndGlyphs">25</text>
<line x1="34.00" y1="214.50" x2="37.50" y2="214.50" stroke="#222" stroke-width="1.00"/>
<text x="30.60" y="219.05" font-size="12.30" text-anchor="end" fill="#111" stroke="#111" stroke-width="0.2" textLength="6.00" lengthAdjust="spacingAndGlyphs">0</text>
<line x1="34.00" y1="163.25" x2="37.50" y2="163.25" stroke="#222" stroke-width="1.00"/>
<text x="30.60" y="167.80" font-size="12.30" text-anchor="end" fill="#111" stroke="#111" stroke-width="0.2" textLength="12.00" lengthAdjust="spacingAndGlyphs">20</text>
<line x1="34.00" y1="112.00" x2="37.50" y2="112.00" stroke="#222" stroke-width="1.00"/>
<text x="30.60" y="116.55" font-size="12.30" text-anchor="end" fill="#111" stroke="#111" stroke-width="0.2" textLength="12.00" lengthAdjust="spacingAndGlyphs">40</text>
<line x1="34.00" y1="60.75" x2="37.50" y2="60.75" stroke="#222" stroke-width="1.00"/>
<text x="30.60" y="65.30" font-size="12.30" text-anchor="end" fill="#111" stroke="#111" stroke-width="0.2" textLength="12.00" lengthAdjust="spacingAndGlyphs">60</text>
<line x1="34.00" y1="9.50" x2="37.50" y2="9.50" stroke="#222" stroke-width="1.00"/>
<text x="30.60" y="14.05" font-size="12.30" text-anchor="end" fill="#111" stroke="#111" stroke-width="0.2" textLength="12.00" lengthAdjust="spacingAndGlyphs">80</text>
<text x="126.00" y="270.00" font-size="13.00" text-anchor="middle" fill="#1a1a1a"  style=""><tspan font-style="italic">t</tspan> (fs)</text>
<text transform="translate(9.8,120) rotate(-90)" font-size="13.0" text-anchor="middle" fill="#1a1a1a">&#916;<tspan font-style="italic">E</tspan> (meV)</text>
<text x="-0.50" y="14.60" font-size="12.5" text-anchor="start" fill="#111" textLength="13.00" lengthAdjust="spacingAndGlyphs">(a)</text>
<rect x="95.5" y="174.0" width="114" height="59" rx="2" fill="#fff" fill-opacity="0.8" stroke="#d8d8d8" stroke-width="0.9"/>
<line x1="99" y1="182.30" x2="120" y2="182.30" stroke="#bcbd22" stroke-width="2" stroke-dasharray="5.5,2.5"/>
<text x="127.00" y="185.50" font-size="9.00" text-anchor="start" fill="#1a1a1a"  style="">W1, no relaxation</text>
<line x1="99" y1="196.15" x2="120" y2="196.15" stroke="#9467bd" stroke-width="2" stroke-dasharray="5.5,2.5"/>
<text x="127.00" y="199.35" font-size="9.00" text-anchor="start" fill="#1a1a1a"  style="">W2, no relaxation</text>
<line x1="99" y1="210.00" x2="120" y2="210.00" stroke="#17becf" stroke-width="2"/>
<text x="127.00" y="213.20" font-size="9.00" text-anchor="start" fill="#1a1a1a"  style="">W1, with relaxation</text>
<line x1="99" y1="223.85" x2="120" y2="223.85" stroke="#e377c2" stroke-width="2"/>
<text x="127.00" y="227.05" font-size="9.00" text-anchor="start" fill="#1a1a1a"  style="">W2, with relaxation</text>
</g>
<path d="M112.1,360.0 L112.5,346.5 L112.9,332.1 L113.3,319.0 L113.7,309.1 L114.1,303.8 L114.5,303.4 L114.9,306.1 L115.3,311.1 L115.7,317.9 L116.1,325.7 L116.5,333.5 L116.9,340.7 L117.3,346.2 L117.7,349.4 L118.1,350.1 L118.5,347.4 L118.9,341.7 L119.3,334.1 L119.7,326.1 L120.1,319.2 L120.5,314.9 L120.9,314.0 L121.3,315.6 L121.7,319.1 L122.1,324.0 L122.5,329.4 L122.9,334.5 L123.3,338.5 L123.7,340.6 L124.1,340.6 L124.5,338.6 L124.9,334.9 L125.3,330.1 L125.7,325.0 L126.1,320.4 L126.5,317.1 L126.9,315.6 L127.3,315.9 L127.7,317.8 L128.1,320.9 L128.5,324.7 L128.9,328.5 L129.3,331.8 L129.7,334.0 L130.1,334.8 L130.5,333.9 L130.9,331.4 L131.3,327.5 L131.7,322.9 L132.1,318.1 L132.5,313.7 L132.9,310.5 L133.3,308.7 L133.7,308.8 L134.1,311.0 L134.5,315.0 L134.9,320.5 L135.3,326.6 L135.7,332.7 L136.1,337.8 L136.5,341.5 L136.9,343.1 L137.3,342.6 L137.7,340.1 L138.1,335.8 L138.5,330.3 L138.9,324.3 L139.3,318.5 L139.7,313.6 L140.1,310.1 L140.5,308.6 L140.9,309.0 L141.3,311.1 L141.7,314.6 L142.1,319.1 L142.5,324.2 L142.9,329.2 L143.3,333.5 L143.7,336.7 L144.1,338.4 L144.5,338.2 L144.9,335.4 L145.3,330.4 L145.7,324.3 L146.1,318.4 L146.5,313.8 L146.9,311.7 L147.3,311.8 L147.7,312.7 L148.1,314.3 L148.5,316.4 L148.9,318.9 L149.3,321.5 L149.7,324.1 L150.1,326.4 L150.5,328.3 L150.9,329.5 L151.3,330.1 L151.7,329.5 L152.1,327.2 L152.5,323.9 L152.9,320.7 L153.3,318.8 L153.7,318.5 L154.1,318.7 L154.5,319.0 L154.9,319.2 L155.3,319.3 L155.7,318.7 L156.1,317.6 L156.5,316.4 L156.9,315.8 L157.3,316.2 L157.7,317.5 L158.1,318.9 L158.5,319.3 L158.9,318.6 L159.3,317.4 L159.7,316.3 L160.1,315.8 L160.5,316.0 L160.9,316.5 L161.3,317.1 L161.7,317.5 L162.1,317.6 L162.5,317.4 L162.9,317.2 L163.3,316.9 L163.7,316.7 L164.1,316.7 L164.5,315.8 L164.9,313.9 L165.3,311.5 L165.7,309.0 L166.1,307.1 L166.5,306.2 L166.9,306.4 L167.3,307.2 L167.7,308.5 L168.1,310.2 L168.5,312.2 L168.9,314.3 L169.3,316.2 L169.7,317.7 L170.1,318.8 L170.5,319.3 L170.9,318.9 L171.3,317.1 L171.7,314.2 L172.1,310.5 L172.5,306.4 L172.9,302.6 L173.3,299.4 L173.7,297.3 L174.1,296.6 L174.5,297.2 L174.9,299.1 L175.3,301.9 L175.7,305.4 L176.1,309.3 L176.5,313.2 L176.9,316.6 L177.3,319.2 L177.7,320.7 L178.1,321.0 L178.5,319.6 L178.9,316.5 L179.3,312.1 L179.7,306.9 L180.1,301.7 L180.5,297.0 L180.9,293.5 L181.3,291.6 L181.7,291.6 L182.1,293.0 L182.5,295.6 L182.9,299.3 L183.3,303.5 L183.7,308.1 L184.1,312.3 L184.5,316.0 L184.9,318.6 L185.3,320.0 L185.7,319.9 L186.1,317.6 L186.5,313.4 L186.9,307.9 L187.3,301.8 L187.7,296.0 L188.1,291.4 L188.5,288.6 L188.9,288.0 L189.3,289.2 L189.7,292.1 L190.1,296.1 L190.5,300.8 L190.9,305.6 L191.3,309.9 L191.7,313.1 L192.1,314.8 L192.5,314.9 L192.9,313.8 L193.3,311.9 L193.7,309.1 L194.1,305.7 L194.5,302.0 L194.9,298.2 L195.3,294.6 L195.7,291.4 L196.1,289.0 L196.1,337.9 L195.7,339.2 L195.3,341.8 L194.9,345.2 L194.5,349.1 L194.1,352.9 L193.7,356.1 L193.3,358.4 L192.9,359.5 L192.5,359.1 L192.1,357.2 L191.7,354.2 L191.3,350.3 L190.9,346.1 L190.5,342.1 L190.1,338.8 L189.7,336.7 L189.3,335.9 L188.9,336.7 L188.5,339.1 L188.1,342.8 L187.7,347.3 L187.3,352.0 L186.9,356.3 L186.5,359.7 L186.1,361.7 L185.7,362.2 L185.3,361.3 L184.9,359.5 L184.5,356.7 L184.1,353.3 L183.7,349.5 L183.3,345.7 L182.9,342.2 L182.5,339.3 L182.1,337.1 L181.7,336.0 L181.3,336.1 L180.9,337.9 L180.5,341.1 L180.1,345.4 L179.7,350.0 L179.3,354.3 L178.9,357.5 L178.5,359.3 L178.1,359.4 L177.7,358.4 L177.3,356.5 L176.9,353.8 L176.5,350.7 L176.1,347.3 L175.7,343.9 L175.3,340.8 L174.9,338.4 L174.5,336.7 L174.1,335.9 L173.7,336.9 L173.3,340.7 L172.9,346.3 L172.5,351.6 L172.1,354.8 L171.7,355.1 L171.3,354.7 L170.9,353.7 L170.5,352.4 L170.1,350.8 L169.7,348.9 L169.3,347.0 L168.9,345.2 L168.5,343.5 L168.1,342.1 L167.7,341.0 L167.3,340.4 L166.9,340.3 L166.5,341.1 L166.1,342.7 L165.7,344.5 L165.3,345.9 L164.9,346.4 L164.5,346.6 L164.1,347.1 L163.7,347.8 L163.3,348.7 L162.9,349.4 L162.5,349.8 L162.1,349.9 L161.7,349.2 L161.3,348.0 L160.9,346.9 L160.5,346.4 L160.1,346.8 L159.7,347.8 L159.3,349.0 L158.9,349.8 L158.5,349.6 L158.1,347.7 L157.7,344.9 L157.3,342.7 L156.9,342.1 L156.5,342.9 L156.1,344.3 L155.7,345.6 L155.3,346.4 L154.9,346.1 L154.5,345.1 L154.1,343.9 L153.7,343.0 L153.3,343.2 L152.9,345.1 L152.5,348.4 L152.1,351.8 L151.7,354.2 L151.3,354.8 L150.9,354.2 L150.5,352.9 L150.1,350.9 L149.7,348.5 L149.3,345.8 L148.9,343.1 L148.5,340.5 L148.1,338.3 L147.7,336.7 L147.3,335.7 L146.9,335.6 L146.5,337.5 L146.1,341.7 L145.7,347.1 L145.3,352.7 L144.9,357.3 L144.5,359.9 L144.1,360.0 L143.7,358.2 L143.3,354.8 L142.9,350.3 L142.5,345.1 L142.1,339.8 L141.7,335.0 L141.3,331.3 L140.9,329.1 L140.5,328.7 L140.1,330.7 L139.7,335.0 L139.3,341.0 L138.9,347.7 L138.5,354.0 L138.1,358.8 L137.7,361.5 L137.3,361.6 L136.9,359.9 L136.5,356.6 L136.1,352.1 L135.7,346.8 L135.3,341.3 L134.9,336.0 L134.5,331.5 L134.1,328.2 L133.7,326.5 L133.3,326.6 L132.9,329.3 L132.5,334.2 L132.1,340.4 L131.7,347.0 L131.3,352.7 L130.9,356.5 L130.5,357.9 L130.1,357.0 L129.7,354.3 L129.3,350.2 L128.9,345.2 L128.5,340.0 L128.1,335.2 L127.7,331.4 L127.3,329.1 L126.9,328.7 L126.5,330.5 L126.1,334.5 L125.7,339.9 L125.3,345.5 L124.9,350.3 L124.5,353.3 L124.1,354.0 L123.7,352.8 L123.3,350.1 L122.9,346.4 L122.5,341.9 L122.1,337.2 L121.7,332.9 L121.3,329.4 L120.9,327.1 L120.5,326.3 L120.1,328.1 L119.7,333.0 L119.3,340.1 L118.9,348.0 L118.5,355.1 L118.1,360.0 L117.7,361.8 L117.3,359.8 L116.9,354.1 L116.5,345.5 L116.1,335.2 L115.7,324.4 L115.3,314.8 L114.9,307.5 L114.5,303.6 L114.1,303.8 L113.7,309.3 L113.3,319.6 L112.9,333.1 L112.5,347.9 L112.1,361.9 Z" fill="#b08080" fill-opacity="0.200" stroke="none"/>
<path d="M45.7,394.0 L46.1,394.0 L46.5,394.0 L46.9,394.0 L47.3,394.0 L47.7,394.0 L48.1,394.0 L48.5,394.0 L48.9,394.0 L49.3,394.0 L49.7,394.0 L50.1,394.0 L50.5,394.0 L50.9,394.0 L51.3,394.0 L51.7,394.0 L52.1,394.0 L52.5,393.9 L52.9,393.8 L53.3,393.6 L53.7,393.4 L54.1,393.2 L54.5,393.1 L54.9,393.1 L55.3,393.2 L55.7,393.5 L56.1,393.9 L56.5,394.3 L56.9,394.7 L57.3,395.0 L57.7,395.2 L58.1,395.2 L58.5,394.9 L58.9,394.4 L59.3,393.6 L59.7,392.8 L60.1,392.0 L60.5,391.2 L60.9,390.6 L61.3,390.3 L61.7,390.2 L62.1,390.8 L62.5,392.0 L62.9,393.7 L63.3,395.6 L63.7,397.3 L64.1,398.7 L64.5,399.4 L64.9,399.4 L65.3,398.3 L65.7,396.3 L66.1,393.5 L66.5,390.4 L66.9,387.2 L67.3,384.3 L67.7,382.0 L68.1,380.7 L68.5,380.5 L68.9,382.6 L69.3,387.2 L69.7,393.6 L70.1,400.6 L70.5,407.2 L70.9,412.4 L71.3,415.1 L71.7,415.0 L72.1,411.1 L72.5,403.7 L72.9,394.1 L73.3,383.5 L73.7,373.5 L74.1,365.5 L74.5,360.6 L74.9,359.7 L75.3,364.4 L75.7,374.6 L76.1,388.8 L76.5,404.5 L76.9,419.2 L77.3,430.6 L77.7,436.8 L78.1,437.0 L78.5,432.3 L78.9,423.2 L79.3,410.8 L79.7,396.0 L80.1,380.4 L80.5,365.2 L80.9,352.1 L81.3,342.1 L81.7,336.3 L82.1,335.2 L82.5,343.1 L82.9,360.1 L83.3,382.6 L83.7,406.4 L84.1,426.7 L84.5,439.4 L84.9,442.2 L85.3,438.0 L85.7,428.6 L86.1,414.8 L86.5,398.1 L86.9,380.1 L87.3,362.6 L87.7,347.1 L88.1,335.4 L88.5,328.5 L88.9,327.4 L89.3,337.8 L89.7,359.4 L90.1,385.6 L90.5,409.0 L90.9,422.7 L91.3,423.9 L91.7,419.5 L92.1,411.1 L92.5,399.3 L92.9,385.4 L93.3,370.4 L93.7,355.8 L94.1,342.8 L94.5,332.5 L94.9,326.0 L95.3,323.8 L95.7,329.2 L96.1,343.8 L96.5,363.9 L96.9,383.9 L97.3,398.6 L97.7,404.0 L98.1,400.2 L98.5,389.5 L98.9,373.4 L99.3,354.4 L99.7,335.3 L100.1,319.2 L100.5,308.5 L100.9,304.7 L101.3,308.0 L101.7,317.4 L102.1,331.7 L102.5,348.7 L102.9,365.9 L103.3,381.1 L103.7,391.9 L104.1,396.8 L104.5,395.2 L104.9,387.3 L105.3,374.2 L105.7,357.5 L106.1,339.4 L106.5,322.1 L106.9,307.9 L107.3,298.6 L107.7,295.4 L108.1,298.5 L108.5,307.3 L108.9,320.6 L109.3,336.4 L109.7,352.5 L110.1,366.6 L110.5,376.7 L110.9,381.3 L111.3,379.9 L111.7,373.1 L112.1,361.9 L112.5,347.9 L112.9,333.1 L113.3,319.6 L113.7,309.3 L114.1,303.8 L114.5,303.6 L114.9,307.5 L115.3,314.8 L115.7,324.4 L116.1,335.2 L116.5,345.5 L116.9,354.1 L117.3,359.8 L117.7,361.8 L118.1,360.0 L118.5,355.1 L118.9,348.0 L119.3,340.1 L119.7,333.0 L120.1,328.1 L120.5,326.3 L120.9,327.1 L121.3,329.4 L121.7,332.9 L122.1,337.2 L122.5,341.9 L122.9,346.4 L123.3,350.1 L123.7,352.8 L124.1,354.0 L124.5,353.3 L124.9,350.3 L125.3,345.5 L125.7,339.9 L126.1,334.5 L126.5,330.5 L126.9,328.7 L127.3,329.1 L127.7,331.4 L128.1,335.2 L128.5,340.0 L128.9,345.2 L129.3,350.2 L129.7,354.3 L130.1,357.0 L130.5,357.9 L130.9,356.5 L131.3,352.7 L131.7,347.0 L132.1,340.4 L132.5,334.2 L132.9,329.3 L133.3,326.6 L133.7,326.5 L134.1,328.2 L134.5,331.5 L134.9,336.0 L135.3,341.3 L135.7,346.8 L136.1,352.1 L136.5,356.6 L136.9,359.9 L137.3,361.6 L137.7,361.5 L138.1,358.8 L138.5,354.0 L138.9,347.7 L139.3,341.0 L139.7,335.0 L140.1,330.7 L140.5,328.7 L140.9,329.1 L141.3,331.3 L141.7,335.0 L142.1,339.8 L142.5,345.1 L142.9,350.3 L143.3,354.8 L143.7,358.2 L144.1,360.0 L144.5,359.9 L144.9,357.3 L145.3,352.7 L145.7,347.1 L146.1,341.7 L146.5,337.5 L146.9,335.6 L147.3,335.7 L147.7,336.7 L148.1,338.3 L148.5,340.5 L148.9,343.1 L149.3,345.8 L149.7,348.5 L150.1,350.9 L150.5,352.9 L150.9,354.2 L151.3,354.8 L151.7,354.2 L152.1,351.8 L152.5,348.4 L152.9,345.1 L153.3,343.2 L153.7,343.0 L154.1,343.9 L154.5,345.1 L154.9,346.1 L155.3,346.4 L155.7,345.6 L156.1,344.3 L156.5,342.9 L156.9,342.1 L157.3,342.7 L157.7,344.9 L158.1,347.7 L158.5,349.6 L158.9,349.8 L159.3,349.0 L159.7,347.8 L160.1,346.8 L160.5,346.4 L160.9,346.9 L161.3,348.0 L161.7,349.2 L162.1,349.9 L162.5,349.8 L162.9,349.4 L163.3,348.7 L163.7,347.8 L164.1,347.1 L164.5,346.6 L164.9,346.4 L165.3,345.9 L165.7,344.5 L166.1,342.7 L166.5,341.1 L166.9,340.3 L167.3,340.4 L167.7,341.0 L168.1,342.1 L168.5,343.5 L168.9,345.2 L169.3,347.0 L169.7,348.9 L170.1,350.8 L170.5,352.4 L170.9,353.7 L171.3,354.7 L171.7,355.1 L172.1,354.8 L172.5,351.6 L172.9,346.3 L173.3,340.7 L173.7,336.9 L174.1,335.9 L174.5,336.7 L174.9,338.4 L175.3,340.8 L175.7,343.9 L176.1,347.3 L176.5,350.7 L176.9,353.8 L177.3,356.5 L177.7,358.4 L178.1,359.4 L178.5,359.3 L178.9,357.5 L179.3,354.3 L179.7,350.0 L180.1,345.4 L180.5,341.1 L180.9,337.9 L181.3,336.1 L181.7,336.0 L182.1,337.1 L182.5,339.3 L182.9,342.2 L183.3,345.7 L183.7,349.5 L184.1,353.3 L184.5,356.7 L184.9,359.5 L185.3,361.3 L185.7,362.2 L186.1,361.7 L186.5,359.7 L186.9,356.3 L187.3,352.0 L187.7,347.3 L188.1,342.8 L188.5,339.1 L188.9,336.7 L189.3,335.9 L189.7,336.7 L190.1,338.8 L190.5,342.1 L190.9,346.1 L191.3,350.3 L191.7,354.2 L192.1,357.2 L192.5,359.1 L192.9,359.5 L193.3,358.4 L193.7,356.1 L194.1,352.9 L194.5,349.1 L194.9,345.2 L195.3,341.8 L195.7,339.2 L196.1,337.9" fill="none" stroke="#7f7f7f" stroke-width="1.85" stroke-linejoin="round" stroke-linecap="butt" />
<path d="M45.7,394.0 L46.1,394.0 L46.5,394.0 L46.9,394.0 L47.3,394.0 L47.7,394.0 L48.1,394.0 L48.5,394.0 L48.9,394.0 L49.3,394.0 L49.7,394.0 L50.1,394.0 L50.5,394.0 L50.9,394.0 L51.3,394.0 L51.7,394.0 L52.1,394.0 L52.5,393.9 L52.9,393.8 L53.3,393.6 L53.7,393.4 L54.1,393.2 L54.5,393.1 L54.9,393.1 L55.3,393.2 L55.7,393.5 L56.1,393.9 L56.5,394.3 L56.9,394.7 L57.3,395.0 L57.7,395.2 L58.1,395.2 L58.5,394.9 L58.9,394.4 L59.3,393.6 L59.7,392.8 L60.1,392.0 L60.5,391.2 L60.9,390.6 L61.3,390.3 L61.7,390.2 L62.1,390.8 L62.5,392.0 L62.9,393.7 L63.3,395.6 L63.7,397.3 L64.1,398.7 L64.5,399.4 L64.9,399.4 L65.3,398.3 L65.7,396.3 L66.1,393.5 L66.5,390.4 L66.9,387.2 L67.3,384.3 L67.7,382.0 L68.1,380.7 L68.5,380.5 L68.9,382.6 L69.3,387.1 L69.7,393.3 L70.1,400.3 L70.5,406.8 L70.9,411.8 L71.3,414.5 L71.7,414.4 L72.1,410.5 L72.5,403.3 L72.9,393.7 L73.3,383.3 L73.7,373.4 L74.1,365.4 L74.5,360.6 L74.9,359.7 L75.3,364.3 L75.7,374.2 L76.1,387.9 L76.5,403.2 L76.9,417.5 L77.3,428.6 L77.7,434.6 L78.1,434.8 L78.5,430.2 L78.9,421.4 L79.3,409.2 L79.7,394.7 L80.1,379.4 L80.5,364.6 L80.9,351.7 L81.3,342.0 L81.7,336.2 L82.1,335.2 L82.5,343.0 L82.9,359.5 L83.3,381.6 L83.7,404.8 L84.1,424.6 L84.5,437.1 L84.9,439.8 L85.3,435.7 L85.7,426.5 L86.1,413.0 L86.5,396.7 L86.9,379.0 L87.3,361.8 L87.7,346.7 L88.1,335.2 L88.5,328.5 L88.9,327.3 L89.3,337.6 L89.7,358.5 L90.1,384.1 L90.5,406.9 L90.9,420.2 L91.3,421.5 L91.7,417.1 L92.1,408.9 L92.5,397.5 L92.9,383.8 L93.3,369.2 L93.7,355.0 L94.1,342.3 L94.5,332.3 L94.9,326.0 L95.3,323.8 L95.7,329.0 L96.1,343.1 L96.5,362.4 L96.9,381.7 L97.3,395.8 L97.7,401.0 L98.1,397.3 L98.5,386.9 L98.9,371.3 L99.3,352.9 L99.7,334.4 L100.1,318.8 L100.5,308.4 L100.9,304.7 L101.3,307.9 L101.7,317.1 L102.1,330.9 L102.5,347.5 L102.9,364.3 L103.3,379.0 L103.7,389.5 L104.1,394.3 L104.5,392.7 L104.9,385.0 L105.3,372.2 L105.7,356.0 L106.1,338.3 L106.5,321.5 L106.9,307.6 L107.3,298.6 L107.7,295.4 L108.1,298.4 L108.5,306.9 L108.9,319.8 L109.3,335.2 L109.7,350.9 L110.1,364.6 L110.5,374.4 L110.9,378.8 L111.3,377.5 L111.7,370.9 L112.1,360.0 L112.5,346.5 L112.9,332.1 L113.3,319.0 L113.7,309.1 L114.1,303.8 L114.5,303.4 L114.9,306.1 L115.3,311.1 L115.7,317.9 L116.1,325.7 L116.5,333.5 L116.9,340.7 L117.3,346.2 L117.7,349.4 L118.1,350.1 L118.5,347.4 L118.9,341.7 L119.3,334.1 L119.7,326.1 L120.1,319.2 L120.5,314.9 L120.9,314.0 L121.3,315.6 L121.7,319.1 L122.1,324.0 L122.5,329.4 L122.9,334.5 L123.3,338.5 L123.7,340.6 L124.1,340.6 L124.5,338.6 L124.9,334.9 L125.3,330.1 L125.7,325.0 L126.1,320.4 L126.5,317.1 L126.9,315.6 L127.3,315.9 L127.7,317.8 L128.1,320.9 L128.5,324.7 L128.9,328.5 L129.3,331.8 L129.7,334.0 L130.1,334.8 L130.5,333.9 L130.9,331.4 L131.3,327.5 L131.7,322.9 L132.1,318.1 L132.5,313.7 L132.9,310.5 L133.3,308.7 L133.7,308.8 L134.1,311.0 L134.5,315.0 L134.9,320.5 L135.3,326.6 L135.7,332.7 L136.1,337.8 L136.5,341.5 L136.9,343.1 L137.3,342.6 L137.7,340.1 L138.1,335.8 L138.5,330.3 L138.9,324.3 L139.3,318.5 L139.7,313.6 L140.1,310.1 L140.5,308.6 L140.9,309.0 L141.3,311.1 L141.7,314.6 L142.1,319.1 L142.5,324.2 L142.9,329.2 L143.3,333.5 L143.7,336.7 L144.1,338.4 L144.5,338.2 L144.9,335.4 L145.3,330.4 L145.7,324.3 L146.1,318.4 L146.5,313.8 L146.9,311.7 L147.3,311.8 L147.7,312.7 L148.1,314.3 L148.5,316.4 L148.9,318.9 L149.3,321.5 L149.7,324.1 L150.1,326.4 L150.5,328.3 L150.9,329.5 L151.3,330.1 L151.7,329.5 L152.1,327.2 L152.5,323.9 L152.9,320.7 L153.3,318.8 L153.7,318.5 L154.1,318.7 L154.5,319.0 L154.9,319.2 L155.3,319.3 L155.7,318.7 L156.1,317.6 L156.5,316.4 L156.9,315.8 L157.3,316.2 L157.7,317.5 L158.1,318.9 L158.5,319.3 L158.9,318.6 L159.3,317.4 L159.7,316.3 L160.1,315.8 L160.5,316.0 L160.9,316.5 L161.3,317.1 L161.7,317.5 L162.1,317.6 L162.5,317.4 L162.9,317.2 L163.3,316.9 L163.7,316.7 L164.1,316.7 L164.5,315.8 L164.9,313.9 L165.3,311.5 L165.7,309.0 L166.1,307.1 L166.5,306.2 L166.9,306.4 L167.3,307.2 L167.7,308.5 L168.1,310.2 L168.5,312.2 L168.9,314.3 L169.3,316.2 L169.7,317.7 L170.1,318.8 L170.5,319.3 L170.9,318.9 L171.3,317.1 L171.7,314.2 L172.1,310.5 L172.5,306.4 L172.9,302.6 L173.3,299.4 L173.7,297.3 L174.1,296.6 L174.5,297.2 L174.9,299.1 L175.3,301.9 L175.7,305.4 L176.1,309.3 L176.5,313.2 L176.9,316.6 L177.3,319.2 L177.7,320.7 L178.1,321.0 L178.5,319.6 L178.9,316.5 L179.3,312.1 L179.7,306.9 L180.1,301.7 L180.5,297.0 L180.9,293.5 L181.3,291.6 L181.7,291.6 L182.1,293.0 L182.5,295.6 L182.9,299.3 L183.3,303.5 L183.7,308.1 L184.1,312.3 L184.5,316.0 L184.9,318.6 L185.3,320.0 L185.7,319.9 L186.1,317.6 L186.5,313.4 L186.9,307.9 L187.3,301.8 L187.7,296.0 L188.1,291.4 L188.5,288.6 L188.9,288.0 L189.3,289.2 L189.7,292.1 L190.1,296.1 L190.5,300.8 L190.9,305.6 L191.3,309.9 L191.7,313.1 L192.1,314.8 L192.5,314.9 L192.9,313.8 L193.3,311.9 L193.7,309.1 L194.1,305.7 L194.5,302.0 L194.9,298.2 L195.3,294.6 L195.7,291.4 L196.1,289.0 L196.5,287.5 L196.9,287.0 L197.3,288.3 L197.7,291.8 L198.1,296.6 L198.5,301.4 L198.9,304.9 L199.3,306.2 L199.7,305.4 L200.1,303.4 L200.5,300.6 L200.9,297.9 L201.3,296.1 L201.7,295.5 L202.1,292.0 L202.5,287.1 L202.9,285.6 L203.3,285.9 L203.7,286.4 L204.1,287.0 L204.5,287.5 L204.9,287.9 L205.3,288.7 L205.7,293.5 L206.1,298.4" fill="none" stroke="#d62728" stroke-width="1.85" stroke-linejoin="round" stroke-linecap="butt" />
<rect x="37.50" y="277.50" width="177.00" height="173.00" fill="none" stroke="#222" stroke-width="1.00"/>
<line x1="45.70" y1="450.50" x2="45.70" y2="454.00" stroke="#222" stroke-width="1.00"/>
<text x="45.90" y="467.65" font-size="12.30" text-anchor="middle" fill="#111" stroke="#111" stroke-width="0.2" textLength="6.00" lengthAdjust="spacingAndGlyphs">0</text>
<line x1="79.26" y1="450.50" x2="79.26" y2="454.00" stroke="#222" stroke-width="1.00"/>
<text x="79.46" y="467.65" font-size="12.30" text-anchor="middle" fill="#111" stroke="#111" stroke-width="0.2" textLength="6.00" lengthAdjust="spacingAndGlyphs">5</text>
<line x1="112.82" y1="450.50" x2="112.82" y2="454.00" stroke="#222" stroke-width="1.00"/>
<text x="113.02" y="467.65" font-size="12.30" text-anchor="middle" fill="#111" stroke="#111" stroke-width="0.2" textLength="12.00" lengthAdjust="spacingAndGlyphs">10</text>
<line x1="146.38" y1="450.50" x2="146.38" y2="454.00" stroke="#222" stroke-width="1.00"/>
<text x="146.58" y="467.65" font-size="12.30" text-anchor="middle" fill="#111" stroke="#111" stroke-width="0.2" textLength="12.00" lengthAdjust="spacingAndGlyphs">15</text>
<line x1="179.94" y1="450.50" x2="179.94" y2="454.00" stroke="#222" stroke-width="1.00"/>
<text x="180.14" y="467.65" font-size="12.30" text-anchor="middle" fill="#111" stroke="#111" stroke-width="0.2" textLength="12.00" lengthAdjust="spacingAndGlyphs">20</text>
<line x1="213.50" y1="450.50" x2="213.50" y2="454.00" stroke="#222" stroke-width="1.00"/>
<text x="213.70" y="467.65" font-size="12.30" text-anchor="middle" fill="#111" stroke="#111" stroke-width="0.2" textLength="12.00" lengthAdjust="spacingAndGlyphs">25</text>
<line x1="34.00" y1="450.40" x2="37.50" y2="450.40" stroke="#222" stroke-width="1.00"/>
<text x="30.60" y="454.95" font-size="12.30" text-anchor="end" fill="#111" stroke="#111" stroke-width="0.2" textLength="6.00" lengthAdjust="spacingAndGlyphs">5</text>
<line x1="34.00" y1="421.58" x2="37.50" y2="421.58" stroke="#222" stroke-width="1.00"/>
<text x="30.60" y="426.13" font-size="12.30" text-anchor="end" fill="#111" stroke="#111" stroke-width="0.2" textLength="12.00" lengthAdjust="spacingAndGlyphs">10</text>
<line x1="34.00" y1="392.77" x2="37.50" y2="392.77" stroke="#222" stroke-width="1.00"/>
<text x="30.60" y="397.32" font-size="12.30" text-anchor="end" fill="#111" stroke="#111" stroke-width="0.2" textLength="12.00" lengthAdjust="spacingAndGlyphs">15</text>
<line x1="34.00" y1="363.95" x2="37.50" y2="363.95" stroke="#222" stroke-width="1.00"/>
<text x="30.60" y="368.50" font-size="12.30" text-anchor="end" fill="#111" stroke="#111" stroke-width="0.2" textLength="12.00" lengthAdjust="spacingAndGlyphs">20</text>
<line x1="34.00" y1="335.14" x2="37.50" y2="335.14" stroke="#222" stroke-width="1.00"/>
<text x="30.60" y="339.69" font-size="12.30" text-anchor="end" fill="#111" stroke="#111" stroke-width="0.2" textLength="12.00" lengthAdjust="spacingAndGlyphs">25</text>
<line x1="34.00" y1="306.32" x2="37.50" y2="306.32" stroke="#222" stroke-width="1.00"/>
<text x="30.60" y="310.88" font-size="12.30" text-anchor="end" fill="#111" stroke="#111" stroke-width="0.2" textLength="12.00" lengthAdjust="spacingAndGlyphs">30</text>
<text x="126.00" y="483.00" font-size="13.00" text-anchor="middle" fill="#1a1a1a"  style=""><tspan font-style="italic">t</tspan> (fs)</text>
<text transform="translate(11.2,364) rotate(-90)" font-size="13.0" text-anchor="middle" fill="#1a1a1a">&#916;<tspan font-style="italic">E</tspan><tspan font-size="9" dy="3">W2 &#8722; W1</tspan><tspan dy="-3"> (meV)</tspan></text>
<text x="-0.50" y="289.60" font-size="12.5" text-anchor="start" fill="#111" textLength="13.00" lengthAdjust="spacingAndGlyphs">(d)</text>
<rect x="112.7" y="415.2" width="97" height="30.3" rx="2" fill="#fff" fill-opacity="0.8" stroke="#d8d8d8" stroke-width="0.9"/>
<line x1="116" y1="422.8" x2="137" y2="422.8" stroke="#7f7f7f" stroke-width="2"/>
<line x1="116" y1="436.2" x2="137" y2="436.2" stroke="#d62728" stroke-width="2"/>
<text x="144.00" y="426.20" font-size="9.40" text-anchor="start" fill="#1a1a1a"  style="">no relaxation</text>
<text x="144.00" y="439.60" font-size="9.40" text-anchor="start" fill="#1a1a1a"  style="">with relaxation</text>
<clipPath id="clipbl"><rect x="267.50" y="0.50" width="72.00" height="188.00"/></clipPath>
<clipPath id="clipbr"><rect x="339.50" y="0.50" width="105.00" height="188.00"/></clipPath>
<g clip-path="url(#clipbl)">
<path d="M275.8,26.4 L276.3,28.9 L276.9,31.4 L277.4,33.9 L277.9,36.5 L278.4,39.0 L279.0,41.5 L279.5,44.1 L280.0,46.6 L280.5,49.2 L281.1,51.7 L281.6,54.2 L282.1,56.8 L282.6,59.3 L283.2,61.8 L283.7,64.2 L284.2,66.5 L284.7,68.6 L285.3,70.6 L285.8,72.5 L286.3,74.1 L286.9,75.6 L287.4,76.9 L287.9,78.1 L288.4,79.3 L289.0,80.4 L289.5,81.5 L290.0,82.6 L290.5,83.8 L291.1,84.9 L291.6,86.1 L292.1,87.1 L292.6,88.1 L293.2,89.0 L293.7,89.7 L294.2,90.3 L294.7,90.7 L295.3,90.8 L295.8,90.7 L296.3,90.3 L296.8,89.8 L297.4,89.1 L297.9,88.3 L298.4,87.4 L298.9,86.4 L299.5,85.2 L300.0,83.8 L300.5,82.2 L301.0,80.5 L301.6,78.6 L302.1,76.7 L302.6,74.8 L303.2,73.1 L303.7,71.6 L304.2,70.4 L304.7,69.5 L305.3,68.8 L305.8,68.4 L306.3,68.0 L306.8,67.9 L307.4,67.8 L307.9,67.8 L308.4,67.9 L308.9,68.1 L309.5,68.4 L310.0,68.9 L310.5,69.6 L311.0,70.5 L311.6,71.7 L312.1,73.2 L312.6,74.9 L313.1,76.8 L313.7,78.7 L314.2,80.6 L314.7,82.4 L315.2,83.9 L315.8,85.3 L316.3,86.4 L316.8,87.5 L317.3,88.4 L317.9,89.1 L318.4,89.8 L318.9,90.3 L319.5,90.7 L320.0,90.8 L320.5,90.6 L321.0,90.3 L321.6,89.7 L322.1,88.9 L322.6,88.0 L323.1,87.1 L323.7,86.0 L324.2,84.8 L324.7,83.7 L325.2,82.5 L325.8,81.4 L326.3,80.3 L326.8,79.2 L327.3,78.0 L327.9,76.8 L328.4,75.5 L328.9,74.0 L329.4,72.3 L330.0,70.5 L330.5,68.5 L331.0,66.3 L331.5,64.0 L332.1,61.6 L332.6,59.1 L333.1,56.6 L333.6,54.1 L334.2,51.5 L334.7,49.0 L335.2,46.4 L335.7,43.9 L336.3,41.3 L336.8,38.8 L337.3,36.3 L337.9,33.7 L338.4,31.2" fill="none" stroke="#000080" stroke-width="3.00" stroke-linejoin="round" stroke-linecap="butt" />
<path d="M274.4,209.5 L274.9,207.1 L275.5,204.7 L276.0,202.3 L276.6,199.9 L277.2,197.6 L277.7,195.2 L278.3,192.8 L278.8,190.5 L279.4,188.1 L280.0,185.8 L280.5,183.4 L281.1,181.1 L281.6,178.8 L282.2,176.4 L282.7,174.1 L283.3,171.8 L283.9,169.4 L284.4,167.1 L285.0,164.8 L285.5,162.5 L286.1,160.2 L286.7,157.9 L287.2,155.6 L287.8,153.3 L288.3,151.0 L288.9,148.7 L289.4,146.4 L290.0,144.2 L290.6,141.9 L291.1,139.7 L291.7,137.5 L292.2,135.4 L292.8,133.2 L293.4,131.2 L293.9,129.2 L294.5,127.4 L295.0,125.7 L295.6,124.1 L296.1,122.7 L296.7,121.4 L297.3,120.4 L297.8,119.5 L298.4,119.0 L298.9,118.6 L299.5,118.5 L300.1,118.6 L300.6,118.8 L301.2,119.2 L301.7,119.6 L302.3,120.0 L302.9,120.3 L303.4,120.7 L304.0,121.0 L304.5,121.2 L305.1,121.4 L305.6,121.6 L306.2,121.7 L306.8,121.8 L307.3,121.8 L307.9,121.8 L308.4,121.8 L309.0,121.7 L309.6,121.6 L310.1,121.4 L310.7,121.2 L311.2,121.0 L311.8,120.7 L312.3,120.3 L312.9,120.0 L313.5,119.6 L314.0,119.2 L314.6,118.8 L315.1,118.6 L315.7,118.5 L316.3,118.6 L316.8,119.0 L317.4,119.5 L317.9,120.4 L318.5,121.4 L319.1,122.7 L319.6,124.1 L320.2,125.7 L320.7,127.4 L321.3,129.2 L321.8,131.2 L322.4,133.2 L323.0,135.4 L323.5,137.5 L324.1,139.7 L324.6,141.9 L325.2,144.2 L325.8,146.4 L326.3,148.7 L326.9,151.0 L327.4,153.3 L328.0,155.6 L328.5,157.9 L329.1,160.2 L329.7,162.5 L330.2,164.8 L330.8,167.1 L331.3,169.4 L331.9,171.8 L332.5,174.1 L333.0,176.4 L333.6,178.8 L334.1,181.1 L334.7,183.4 L335.2,185.8 L335.8,188.1 L336.4,190.5 L336.9,192.8 L337.5,195.2 L338.0,197.6 L338.6,199.9 L339.2,202.3 L339.7,204.7 L340.3,207.1 L340.8,209.5" fill="none" stroke="#000080" stroke-width="3.00" stroke-linejoin="round" stroke-linecap="butt" />
<path d="M275.8,27.4 L276.3,29.9 L276.9,32.4 L277.4,35.0 L277.9,37.5 L278.4,40.0 L279.0,42.6 L279.5,45.1 L280.0,47.6 L280.5,50.2 L281.1,52.7 L281.6,55.2 L282.1,57.7 L282.6,60.2 L283.2,62.7 L283.7,65.1 L284.2,67.4 L284.7,69.6 L285.3,71.6 L285.8,73.4 L286.3,75.0 L286.9,76.5 L287.4,77.8 L287.9,79.0 L288.4,80.2 L289.0,81.3 L289.5,82.4 L290.0,83.5 L290.5,84.6 L291.1,85.8 L291.6,86.9 L292.1,88.0 L292.6,89.0 L293.2,89.8 L293.7,90.6 L294.2,91.1 L294.7,91.5 L295.3,91.6 L295.8,91.5 L296.3,91.1 L296.8,90.6 L297.4,89.9 L297.9,89.1 L298.4,88.2 L298.9,87.2 L299.5,86.0 L300.0,84.6 L300.5,83.0 L301.0,81.3 L301.6,79.4 L302.1,77.4 L302.6,75.6 L303.2,73.9 L303.7,72.4 L304.2,71.2 L304.7,70.3 L305.3,69.6 L305.8,69.1 L306.3,68.8 L306.8,68.7 L307.4,68.6 L307.9,68.6 L308.4,68.7 L308.9,68.8 L309.5,69.2 L310.0,69.7 L310.5,70.4 L311.0,71.3 L311.6,72.5 L312.1,74.0 L312.6,75.7 L313.1,77.6 L313.7,79.5 L314.2,81.4 L314.7,83.1 L315.2,84.7 L315.8,86.1 L316.3,87.2 L316.8,88.3 L317.3,89.2 L317.9,89.9 L318.4,90.6 L318.9,91.1 L319.5,91.5 L320.0,91.6 L320.5,91.5 L321.0,91.1 L321.6,90.5 L322.1,89.8 L322.6,88.9 L323.1,87.9 L323.7,86.8 L324.2,85.7 L324.7,84.5 L325.2,83.4 L325.8,82.3 L326.3,81.2 L326.8,80.1 L327.3,78.9 L327.9,77.7 L328.4,76.4 L328.9,74.9 L329.4,73.3 L330.0,71.4 L330.5,69.4 L331.0,67.2 L331.5,64.9 L332.1,62.5 L332.6,60.1 L333.1,57.5 L333.6,55.0 L334.2,52.5 L334.7,50.0 L335.2,47.4 L335.7,44.9 L336.3,42.4 L336.8,39.8 L337.3,37.3 L337.9,34.8 L338.4,32.2" fill="none" stroke="#0000df" stroke-width="3.00" stroke-linejoin="round" stroke-linecap="butt" />
<path d="M274.4,209.9 L274.9,207.5 L275.5,205.1 L276.0,202.7 L276.6,200.3 L277.2,197.9 L277.7,195.6 L278.3,193.2 L278.8,190.8 L279.4,188.5 L280.0,186.1 L280.5,183.8 L281.1,181.5 L281.6,179.1 L282.2,176.8 L282.7,174.5 L283.3,172.1 L283.9,169.8 L284.4,167.5 L285.0,165.2 L285.5,162.9 L286.1,160.6 L286.7,158.3 L287.2,156.0 L287.8,153.7 L288.3,151.4 L288.9,149.1 L289.4,146.8 L290.0,144.6 L290.6,142.4 L291.1,140.2 L291.7,138.0 L292.2,135.9 L292.8,133.8 L293.4,131.8 L293.9,129.9 L294.5,128.1 L295.0,126.4 L295.6,124.8 L296.1,123.5 L296.7,122.2 L297.3,121.2 L297.8,120.4 L298.4,119.9 L298.9,119.6 L299.5,119.5 L300.1,119.6 L300.6,119.9 L301.2,120.2 L301.7,120.6 L302.3,121.0 L302.9,121.4 L303.4,121.7 L304.0,122.0 L304.5,122.3 L305.1,122.5 L305.6,122.6 L306.2,122.8 L306.8,122.8 L307.3,122.9 L307.9,122.9 L308.4,122.8 L309.0,122.8 L309.6,122.6 L310.1,122.5 L310.7,122.3 L311.2,122.0 L311.8,121.7 L312.3,121.4 L312.9,121.0 L313.5,120.6 L314.0,120.2 L314.6,119.9 L315.1,119.6 L315.7,119.5 L316.3,119.6 L316.8,119.9 L317.4,120.4 L317.9,121.2 L318.5,122.2 L319.1,123.5 L319.6,124.8 L320.2,126.4 L320.7,128.1 L321.3,129.9 L321.8,131.8 L322.4,133.8 L323.0,135.9 L323.5,138.0 L324.1,140.2 L324.6,142.4 L325.2,144.6 L325.8,146.8 L326.3,149.1 L326.9,151.4 L327.4,153.7 L328.0,156.0 L328.5,158.3 L329.1,160.6 L329.7,162.9 L330.2,165.2 L330.8,167.5 L331.3,169.8 L331.9,172.1 L332.5,174.5 L333.0,176.8 L333.6,179.1 L334.1,181.5 L334.7,183.8 L335.2,186.1 L335.8,188.5 L336.4,190.8 L336.9,193.2 L337.5,195.6 L338.0,197.9 L338.6,200.3 L339.2,202.7 L339.7,205.1 L340.3,207.5 L340.8,209.9" fill="none" stroke="#0000df" stroke-width="3.00" stroke-linejoin="round" stroke-linecap="butt" />
<path d="M275.8,28.5 L276.3,31.0 L276.9,33.5 L277.4,36.0 L277.9,38.5 L278.4,41.0 L279.0,43.6 L279.5,46.1 L280.0,48.6 L280.5,51.1 L281.1,53.7 L281.6,56.2 L282.1,58.7 L282.6,61.2 L283.2,63.7 L283.7,66.0 L284.2,68.3 L284.7,70.5 L285.3,72.5 L285.8,74.3 L286.3,75.9 L286.9,77.4 L287.4,78.7 L287.9,79.9 L288.4,81.0 L289.0,82.2 L289.5,83.2 L290.0,84.4 L290.5,85.5 L291.1,86.6 L291.6,87.8 L292.1,88.8 L292.6,89.8 L293.2,90.7 L293.7,91.4 L294.2,92.0 L294.7,92.3 L295.3,92.4 L295.8,92.3 L296.3,91.9 L296.8,91.4 L297.4,90.7 L297.9,89.9 L298.4,89.0 L298.9,88.0 L299.5,86.8 L300.0,85.4 L300.5,83.8 L301.0,82.0 L301.6,80.2 L302.1,78.2 L302.6,76.4 L303.2,74.6 L303.7,73.2 L304.2,72.0 L304.7,71.1 L305.3,70.4 L305.8,69.9 L306.3,69.6 L306.8,69.4 L307.4,69.4 L307.9,69.4 L308.4,69.4 L308.9,69.6 L309.5,69.9 L310.0,70.4 L310.5,71.1 L311.0,72.1 L311.6,73.3 L312.1,74.8 L312.6,76.5 L313.1,78.4 L313.7,80.3 L314.2,82.2 L314.7,83.9 L315.2,85.5 L315.8,86.9 L316.3,88.0 L316.8,89.1 L317.3,90.0 L317.9,90.7 L318.4,91.4 L318.9,92.0 L319.5,92.3 L320.0,92.4 L320.5,92.3 L321.0,91.9 L321.6,91.3 L322.1,90.6 L322.6,89.7 L323.1,88.7 L323.7,87.7 L324.2,86.6 L324.7,85.4 L325.2,84.3 L325.8,83.2 L326.3,82.1 L326.8,81.0 L327.3,79.8 L327.9,78.6 L328.4,77.3 L328.9,75.8 L329.4,74.2 L330.0,72.3 L330.5,70.3 L331.0,68.2 L331.5,65.9 L332.1,63.5 L332.6,61.0 L333.1,58.5 L333.6,56.0 L334.2,53.5 L334.7,50.9 L335.2,48.4 L335.7,45.9 L336.3,43.4 L336.8,40.8 L337.3,38.3 L337.9,35.8 L338.4,33.3" fill="none" stroke="#0028ff" stroke-width="3.00" stroke-linejoin="round" stroke-linecap="butt" />
<path d="M274.4,210.2 L274.9,207.8 L275.5,205.4 L276.0,203.1 L276.6,200.7 L277.2,198.3 L277.7,195.9 L278.3,193.6 L278.8,191.2 L279.4,188.9 L280.0,186.5 L280.5,184.2 L281.1,181.8 L281.6,179.5 L282.2,177.2 L282.7,174.8 L283.3,172.5 L283.9,170.2 L284.4,167.9 L285.0,165.6 L285.5,163.2 L286.1,160.9 L286.7,158.6 L287.2,156.3 L287.8,154.0 L288.3,151.8 L288.9,149.5 L289.4,147.2 L290.0,145.0 L290.6,142.8 L291.1,140.6 L291.7,138.5 L292.2,136.4 L292.8,134.3 L293.4,132.4 L293.9,130.5 L294.5,128.7 L295.0,127.1 L295.6,125.6 L296.1,124.3 L296.7,123.1 L297.3,122.1 L297.8,121.4 L298.4,120.8 L298.9,120.5 L299.5,120.5 L300.1,120.6 L300.6,120.9 L301.2,121.2 L301.7,121.6 L302.3,122.1 L302.9,122.5 L303.4,122.8 L304.0,123.1 L304.5,123.3 L305.1,123.5 L305.6,123.7 L306.2,123.8 L306.8,123.9 L307.3,123.9 L307.9,123.9 L308.4,123.9 L309.0,123.8 L309.6,123.7 L310.1,123.5 L310.7,123.3 L311.2,123.1 L311.8,122.8 L312.3,122.5 L312.9,122.1 L313.5,121.6 L314.0,121.2 L314.6,120.9 L315.1,120.6 L315.7,120.5 L316.3,120.5 L316.8,120.8 L317.4,121.4 L317.9,122.1 L318.5,123.1 L319.1,124.3 L319.6,125.6 L320.2,127.1 L320.7,128.7 L321.3,130.5 L321.8,132.4 L322.4,134.3 L323.0,136.4 L323.5,138.5 L324.1,140.6 L324.6,142.8 L325.2,145.0 L325.8,147.2 L326.3,149.5 L326.9,151.8 L327.4,154.0 L328.0,156.3 L328.5,158.6 L329.1,160.9 L329.7,163.2 L330.2,165.6 L330.8,167.9 L331.3,170.2 L331.9,172.5 L332.5,174.8 L333.0,177.2 L333.6,179.5 L334.1,181.8 L334.7,184.2 L335.2,186.5 L335.8,188.9 L336.4,191.2 L336.9,193.6 L337.5,195.9 L338.0,198.3 L338.6,200.7 L339.2,203.1 L339.7,205.4 L340.3,207.8 L340.8,210.2" fill="none" stroke="#0028ff" stroke-width="3.00" stroke-linejoin="round" stroke-linecap="butt" />
<path d="M275.8,29.6 L276.3,32.0 L276.9,34.5 L277.4,37.0 L277.9,39.5 L278.4,42.1 L279.0,44.6 L279.5,47.1 L280.0,49.6 L280.5,52.1 L281.1,54.6 L281.6,57.2 L282.1,59.7 L282.6,62.1 L283.2,64.6 L283.7,67.0 L284.2,69.3 L284.7,71.4 L285.3,73.4 L285.8,75.2 L286.3,76.8 L286.9,78.3 L287.4,79.6 L287.9,80.8 L288.4,81.9 L289.0,83.0 L289.5,84.1 L290.0,85.2 L290.5,86.4 L291.1,87.5 L291.6,88.6 L292.1,89.7 L292.6,90.6 L293.2,91.5 L293.7,92.2 L294.2,92.8 L294.7,93.1 L295.3,93.2 L295.8,93.1 L296.3,92.7 L296.8,92.2 L297.4,91.5 L297.9,90.7 L298.4,89.8 L298.9,88.7 L299.5,87.6 L300.0,86.2 L300.5,84.6 L301.0,82.8 L301.6,80.9 L302.1,79.0 L302.6,77.2 L303.2,75.4 L303.7,74.0 L304.2,72.8 L304.7,71.9 L305.3,71.2 L305.8,70.7 L306.3,70.4 L306.8,70.2 L307.4,70.1 L307.9,70.1 L308.4,70.2 L308.9,70.4 L309.5,70.7 L310.0,71.2 L310.5,71.9 L311.0,72.8 L311.6,74.1 L312.1,75.6 L312.6,77.3 L313.1,79.2 L313.7,81.1 L314.2,83.0 L314.7,84.7 L315.2,86.3 L315.8,87.6 L316.3,88.8 L316.8,89.9 L317.3,90.8 L317.9,91.6 L318.4,92.2 L318.9,92.8 L319.5,93.1 L320.0,93.2 L320.5,93.1 L321.0,92.7 L321.6,92.2 L322.1,91.4 L322.6,90.6 L323.1,89.6 L323.7,88.5 L324.2,87.4 L324.7,86.3 L325.2,85.1 L325.8,84.0 L326.3,82.9 L326.8,81.8 L327.3,80.7 L327.9,79.5 L328.4,78.2 L328.9,76.7 L329.4,75.1 L330.0,73.3 L330.5,71.3 L331.0,69.1 L331.5,66.8 L332.1,64.4 L332.6,62.0 L333.1,59.5 L333.6,57.0 L334.2,54.4 L334.7,51.9 L335.2,49.4 L335.7,46.9 L336.3,44.4 L336.8,41.9 L337.3,39.4 L337.9,36.8 L338.4,34.3" fill="none" stroke="#0080ff" stroke-width="3.00" stroke-linejoin="round" stroke-linecap="butt" />
<path d="M274.4,210.6 L274.9,208.2 L275.5,205.8 L276.0,203.4 L276.6,201.0 L277.2,198.7 L277.7,196.3 L278.3,193.9 L278.8,191.6 L279.4,189.2 L280.0,186.9 L280.5,184.5 L281.1,182.2 L281.6,179.9 L282.2,177.5 L282.7,175.2 L283.3,172.9 L283.9,170.6 L284.4,168.2 L285.0,165.9 L285.5,163.6 L286.1,161.3 L286.7,159.0 L287.2,156.7 L287.8,154.4 L288.3,152.1 L288.9,149.9 L289.4,147.6 L290.0,145.4 L290.6,143.2 L291.1,141.1 L291.7,139.0 L292.2,136.9 L292.8,134.9 L293.4,133.0 L293.9,131.1 L294.5,129.4 L295.0,127.8 L295.6,126.4 L296.1,125.1 L296.7,123.9 L297.3,123.0 L297.8,122.3 L298.4,121.8 L298.9,121.5 L299.5,121.5 L300.1,121.6 L300.6,121.9 L301.2,122.3 L301.7,122.7 L302.3,123.1 L302.9,123.5 L303.4,123.9 L304.0,124.2 L304.5,124.4 L305.1,124.6 L305.6,124.8 L306.2,124.9 L306.8,125.0 L307.3,125.0 L307.9,125.0 L308.4,125.0 L309.0,124.9 L309.6,124.8 L310.1,124.6 L310.7,124.4 L311.2,124.2 L311.8,123.9 L312.3,123.5 L312.9,123.1 L313.5,122.7 L314.0,122.3 L314.6,121.9 L315.1,121.6 L315.7,121.5 L316.3,121.5 L316.8,121.8 L317.4,122.3 L317.9,123.0 L318.5,123.9 L319.1,125.1 L319.6,126.4 L320.2,127.8 L320.7,129.4 L321.3,131.1 L321.8,133.0 L322.4,134.9 L323.0,136.9 L323.5,139.0 L324.1,141.1 L324.6,143.2 L325.2,145.4 L325.8,147.6 L326.3,149.9 L326.9,152.1 L327.4,154.4 L328.0,156.7 L328.5,159.0 L329.1,161.3 L329.7,163.6 L330.2,165.9 L330.8,168.2 L331.3,170.6 L331.9,172.9 L332.5,175.2 L333.0,177.5 L333.6,179.9 L334.1,182.2 L334.7,184.5 L335.2,186.9 L335.8,189.2 L336.4,191.6 L336.9,193.9 L337.5,196.3 L338.0,198.7 L338.6,201.0 L339.2,203.4 L339.7,205.8 L340.3,208.2 L340.8,210.6" fill="none" stroke="#0080ff" stroke-width="3.00" stroke-linejoin="round" stroke-linecap="butt" />
<path d="M275.8,30.6 L276.3,33.1 L276.9,35.6 L277.4,38.1 L277.9,40.6 L278.4,43.1 L279.0,45.6 L279.5,48.1 L280.0,50.6 L280.5,53.1 L281.1,55.6 L281.6,58.1 L282.1,60.6 L282.6,63.1 L283.2,65.5 L283.7,67.9 L284.2,70.2 L284.7,72.3 L285.3,74.3 L285.8,76.1 L286.3,77.7 L286.9,79.2 L287.4,80.5 L287.9,81.7 L288.4,82.8 L289.0,83.9 L289.5,85.0 L290.0,86.1 L290.5,87.2 L291.1,88.4 L291.6,89.5 L292.1,90.5 L292.6,91.5 L293.2,92.3 L293.7,93.1 L294.2,93.6 L294.7,94.0 L295.3,94.1 L295.8,93.9 L296.3,93.5 L296.8,93.0 L297.4,92.3 L297.9,91.5 L298.4,90.6 L298.9,89.5 L299.5,88.3 L300.0,87.0 L300.5,85.4 L301.0,83.6 L301.6,81.7 L302.1,79.8 L302.6,77.9 L303.2,76.2 L303.7,74.7 L304.2,73.5 L304.7,72.6 L305.3,71.9 L305.8,71.5 L306.3,71.2 L306.8,71.0 L307.4,70.9 L307.9,70.9 L308.4,71.0 L308.9,71.2 L309.5,71.5 L310.0,72.0 L310.5,72.7 L311.0,73.6 L311.6,74.8 L312.1,76.3 L312.6,78.1 L313.1,80.0 L313.7,81.9 L314.2,83.8 L314.7,85.5 L315.2,87.1 L315.8,88.4 L316.3,89.6 L316.8,90.7 L317.3,91.6 L317.9,92.4 L318.4,93.0 L318.9,93.6 L319.5,93.9 L320.0,94.1 L320.5,93.9 L321.0,93.6 L321.6,93.0 L322.1,92.3 L322.6,91.4 L323.1,90.4 L323.7,89.4 L324.2,88.3 L324.7,87.1 L325.2,86.0 L325.8,84.9 L326.3,83.8 L326.8,82.7 L327.3,81.6 L327.9,80.4 L328.4,79.1 L328.9,77.6 L329.4,76.0 L330.0,74.2 L330.5,72.2 L331.0,70.0 L331.5,67.7 L332.1,65.4 L332.6,62.9 L333.1,60.4 L333.6,57.9 L334.2,55.4 L334.7,52.9 L335.2,50.4 L335.7,47.9 L336.3,45.4 L336.8,42.9 L337.3,40.4 L337.9,37.9 L338.4,35.4" fill="none" stroke="#00d4ff" stroke-width="3.00" stroke-linejoin="round" stroke-linecap="butt" />
<path d="M274.4,211.0 L274.9,208.6 L275.5,206.2 L276.0,203.8 L276.6,201.4 L277.2,199.0 L277.7,196.7 L278.3,194.3 L278.8,191.9 L279.4,189.6 L280.0,187.2 L280.5,184.9 L281.1,182.6 L281.6,180.2 L282.2,177.9 L282.7,175.6 L283.3,173.2 L283.9,170.9 L284.4,168.6 L285.0,166.3 L285.5,164.0 L286.1,161.7 L286.7,159.4 L287.2,157.1 L287.8,154.8 L288.3,152.5 L288.9,150.3 L289.4,148.0 L290.0,145.8 L290.6,143.7 L291.1,141.5 L291.7,139.4 L292.2,137.4 L292.8,135.4 L293.4,133.5 L293.9,131.8 L294.5,130.1 L295.0,128.5 L295.6,127.1 L296.1,125.8 L296.7,124.8 L297.3,123.9 L297.8,123.2 L298.4,122.7 L298.9,122.5 L299.5,122.5 L300.1,122.6 L300.6,122.9 L301.2,123.3 L301.7,123.7 L302.3,124.2 L302.9,124.6 L303.4,124.9 L304.0,125.2 L304.5,125.5 L305.1,125.7 L305.6,125.8 L306.2,125.9 L306.8,126.0 L307.3,126.1 L307.9,126.1 L308.4,126.0 L309.0,125.9 L309.6,125.8 L310.1,125.7 L310.7,125.5 L311.2,125.2 L311.8,124.9 L312.3,124.6 L312.9,124.2 L313.5,123.7 L314.0,123.3 L314.6,122.9 L315.1,122.6 L315.7,122.5 L316.3,122.5 L316.8,122.7 L317.4,123.2 L317.9,123.9 L318.5,124.8 L319.1,125.8 L319.6,127.1 L320.2,128.5 L320.7,130.1 L321.3,131.8 L321.8,133.5 L322.4,135.4 L323.0,137.4 L323.5,139.4 L324.1,141.5 L324.6,143.7 L325.2,145.8 L325.8,148.0 L326.3,150.3 L326.9,152.5 L327.4,154.8 L328.0,157.1 L328.5,159.4 L329.1,161.7 L329.7,164.0 L330.2,166.3 L330.8,168.6 L331.3,170.9 L331.9,173.2 L332.5,175.6 L333.0,177.9 L333.6,180.2 L334.1,182.6 L334.7,184.9 L335.2,187.2 L335.8,189.6 L336.4,191.9 L336.9,194.3 L337.5,196.7 L338.0,199.0 L338.6,201.4 L339.2,203.8 L339.7,206.2 L340.3,208.6 L340.8,211.0" fill="none" stroke="#00d4ff" stroke-width="3.00" stroke-linejoin="round" stroke-linecap="butt" />
<path d="M275.8,31.7 L276.3,34.1 L276.9,36.6 L277.4,39.1 L277.9,41.6 L278.4,44.1 L279.0,46.6 L279.5,49.1 L280.0,51.6 L280.5,54.1 L281.1,56.6 L281.6,59.1 L282.1,61.6 L282.6,64.1 L283.2,66.5 L283.7,68.9 L284.2,71.1 L284.7,73.3 L285.3,75.2 L285.8,77.0 L286.3,78.6 L286.9,80.1 L287.4,81.4 L287.9,82.6 L288.4,83.7 L289.0,84.8 L289.5,85.9 L290.0,87.0 L290.5,88.1 L291.1,89.2 L291.6,90.3 L292.1,91.4 L292.6,92.3 L293.2,93.2 L293.7,93.9 L294.2,94.4 L294.7,94.8 L295.3,94.9 L295.8,94.7 L296.3,94.4 L296.8,93.8 L297.4,93.1 L297.9,92.3 L298.4,91.4 L298.9,90.3 L299.5,89.1 L300.0,87.8 L300.5,86.2 L301.0,84.4 L301.6,82.5 L302.1,80.6 L302.6,78.7 L303.2,77.0 L303.7,75.5 L304.2,74.3 L304.7,73.4 L305.3,72.7 L305.8,72.2 L306.3,71.9 L306.8,71.8 L307.4,71.7 L307.9,71.7 L308.4,71.8 L308.9,72.0 L309.5,72.3 L310.0,72.8 L310.5,73.5 L311.0,74.4 L311.6,75.6 L312.1,77.1 L312.6,78.9 L313.1,80.7 L313.7,82.7 L314.2,84.6 L314.7,86.3 L315.2,87.9 L315.8,89.2 L316.3,90.4 L316.8,91.5 L317.3,92.4 L317.9,93.2 L318.4,93.9 L318.9,94.4 L319.5,94.8 L320.0,94.9 L320.5,94.8 L321.0,94.4 L321.6,93.8 L322.1,93.1 L322.6,92.3 L323.1,91.3 L323.7,90.2 L324.2,89.1 L324.7,88.0 L325.2,86.9 L325.8,85.8 L326.3,84.7 L326.8,83.6 L327.3,82.5 L327.9,81.3 L328.4,80.0 L328.9,78.5 L329.4,76.9 L330.0,75.1 L330.5,73.1 L331.0,71.0 L331.5,68.7 L332.1,66.3 L332.6,63.9 L333.1,61.4 L333.6,58.9 L334.2,56.4 L334.7,53.9 L335.2,51.4 L335.7,48.9 L336.3,46.4 L336.8,43.9 L337.3,41.4 L337.9,38.9 L338.4,36.4" fill="none" stroke="#36ffc1" stroke-width="3.00" stroke-linejoin="round" stroke-linecap="butt" />
<path d="M274.4,211.3 L274.9,208.9 L275.5,206.5 L276.0,204.2 L276.6,201.8 L277.2,199.4 L277.7,197.0 L278.3,194.7 L278.8,192.3 L279.4,190.0 L280.0,187.6 L280.5,185.3 L281.1,182.9 L281.6,180.6 L282.2,178.3 L282.7,175.9 L283.3,173.6 L283.9,171.3 L284.4,169.0 L285.0,166.7 L285.5,164.3 L286.1,162.0 L286.7,159.7 L287.2,157.4 L287.8,155.2 L288.3,152.9 L288.9,150.7 L289.4,148.4 L290.0,146.3 L290.6,144.1 L291.1,142.0 L291.7,139.9 L292.2,137.9 L292.8,136.0 L293.4,134.1 L293.9,132.4 L294.5,130.8 L295.0,129.2 L295.6,127.9 L296.1,126.6 L296.7,125.6 L297.3,124.7 L297.8,124.1 L298.4,123.6 L298.9,123.4 L299.5,123.4 L300.1,123.6 L300.6,123.9 L301.2,124.3 L301.7,124.8 L302.3,125.2 L302.9,125.6 L303.4,126.0 L304.0,126.3 L304.5,126.5 L305.1,126.7 L305.6,126.9 L306.2,127.0 L306.8,127.1 L307.3,127.1 L307.9,127.1 L308.4,127.1 L309.0,127.0 L309.6,126.9 L310.1,126.7 L310.7,126.5 L311.2,126.3 L311.8,126.0 L312.3,125.6 L312.9,125.2 L313.5,124.8 L314.0,124.3 L314.6,123.9 L315.1,123.6 L315.7,123.4 L316.3,123.4 L316.8,123.6 L317.4,124.1 L317.9,124.7 L318.5,125.6 L319.1,126.6 L319.6,127.9 L320.2,129.2 L320.7,130.8 L321.3,132.4 L321.8,134.1 L322.4,136.0 L323.0,137.9 L323.5,139.9 L324.1,142.0 L324.6,144.1 L325.2,146.3 L325.8,148.4 L326.3,150.7 L326.9,152.9 L327.4,155.2 L328.0,157.4 L328.5,159.7 L329.1,162.0 L329.7,164.3 L330.2,166.7 L330.8,169.0 L331.3,171.3 L331.9,173.6 L332.5,175.9 L333.0,178.3 L333.6,180.6 L334.1,182.9 L334.7,185.3 L335.2,187.6 L335.8,190.0 L336.4,192.3 L336.9,194.7 L337.5,197.0 L338.0,199.4 L338.6,201.8 L339.2,204.2 L339.7,206.5 L340.3,208.9 L340.8,211.3" fill="none" stroke="#36ffc1" stroke-width="3.00" stroke-linejoin="round" stroke-linecap="butt" />
<path d="M275.8,32.7 L276.3,35.2 L276.9,37.7 L277.4,40.1 L277.9,42.6 L278.4,45.1 L279.0,47.6 L279.5,50.1 L280.0,52.6 L280.5,55.1 L281.1,57.6 L281.6,60.1 L282.1,62.5 L282.6,65.0 L283.2,67.4 L283.7,69.8 L284.2,72.1 L284.7,74.2 L285.3,76.2 L285.8,77.9 L286.3,79.5 L286.9,81.0 L287.4,82.3 L287.9,83.5 L288.4,84.6 L289.0,85.7 L289.5,86.7 L290.0,87.8 L290.5,88.9 L291.1,90.1 L291.6,91.2 L292.1,92.2 L292.6,93.2 L293.2,94.0 L293.7,94.7 L294.2,95.3 L294.7,95.6 L295.3,95.7 L295.8,95.6 L296.3,95.2 L296.8,94.6 L297.4,93.9 L297.9,93.1 L298.4,92.2 L298.9,91.1 L299.5,89.9 L300.0,88.6 L300.5,87.0 L301.0,85.2 L301.6,83.3 L302.1,81.4 L302.6,79.5 L303.2,77.8 L303.7,76.3 L304.2,75.1 L304.7,74.2 L305.3,73.5 L305.8,73.0 L306.3,72.7 L306.8,72.5 L307.4,72.5 L307.9,72.5 L308.4,72.6 L308.9,72.7 L309.5,73.1 L310.0,73.6 L310.5,74.3 L311.0,75.2 L311.6,76.4 L312.1,77.9 L312.6,79.6 L313.1,81.5 L313.7,83.5 L314.2,85.3 L314.7,87.1 L315.2,88.7 L315.8,90.0 L316.3,91.2 L316.8,92.3 L317.3,93.2 L317.9,94.0 L318.4,94.7 L318.9,95.2 L319.5,95.6 L320.0,95.7 L320.5,95.6 L321.0,95.2 L321.6,94.7 L322.1,94.0 L322.6,93.1 L323.1,92.1 L323.7,91.1 L324.2,90.0 L324.7,88.9 L325.2,87.7 L325.8,86.6 L326.3,85.6 L326.8,84.5 L327.3,83.4 L327.9,82.2 L328.4,80.9 L328.9,79.4 L329.4,77.8 L330.0,76.0 L330.5,74.0 L331.0,71.9 L331.5,69.6 L332.1,67.3 L332.6,64.8 L333.1,62.4 L333.6,59.9 L334.2,57.4 L334.7,54.9 L335.2,52.4 L335.7,49.9 L336.3,47.4 L336.8,44.9 L337.3,42.4 L337.9,40.0 L338.4,37.5" fill="none" stroke="#7dff7a" stroke-width="3.00" stroke-linejoin="round" stroke-linecap="butt" />
<path d="M274.4,211.7 L274.9,209.3 L275.5,206.9 L276.0,204.5 L276.6,202.1 L277.2,199.8 L277.7,197.4 L278.3,195.0 L278.8,192.7 L279.4,190.3 L280.0,188.0 L280.5,185.6 L281.1,183.3 L281.6,181.0 L282.2,178.6 L282.7,176.3 L283.3,174.0 L283.9,171.7 L284.4,169.3 L285.0,167.0 L285.5,164.7 L286.1,162.4 L286.7,160.1 L287.2,157.8 L287.8,155.5 L288.3,153.3 L288.9,151.1 L289.4,148.8 L290.0,146.7 L290.6,144.5 L291.1,142.5 L291.7,140.4 L292.2,138.4 L292.8,136.5 L293.4,134.7 L293.9,133.0 L294.5,131.4 L295.0,130.0 L295.6,128.6 L296.1,127.4 L296.7,126.4 L297.3,125.6 L297.8,125.0 L298.4,124.6 L298.9,124.4 L299.5,124.4 L300.1,124.6 L300.6,125.0 L301.2,125.4 L301.7,125.8 L302.3,126.3 L302.9,126.7 L303.4,127.0 L304.0,127.3 L304.5,127.6 L305.1,127.8 L305.6,128.0 L306.2,128.1 L306.8,128.2 L307.3,128.2 L307.9,128.2 L308.4,128.2 L309.0,128.1 L309.6,128.0 L310.1,127.8 L310.7,127.6 L311.2,127.3 L311.8,127.0 L312.3,126.7 L312.9,126.3 L313.5,125.8 L314.0,125.4 L314.6,125.0 L315.1,124.6 L315.7,124.4 L316.3,124.4 L316.8,124.6 L317.4,125.0 L317.9,125.6 L318.5,126.4 L319.1,127.4 L319.6,128.6 L320.2,130.0 L320.7,131.4 L321.3,133.0 L321.8,134.7 L322.4,136.5 L323.0,138.4 L323.5,140.4 L324.1,142.5 L324.6,144.5 L325.2,146.7 L325.8,148.8 L326.3,151.1 L326.9,153.3 L327.4,155.5 L328.0,157.8 L328.5,160.1 L329.1,162.4 L329.7,164.7 L330.2,167.0 L330.8,169.3 L331.3,171.7 L331.9,174.0 L332.5,176.3 L333.0,178.6 L333.6,181.0 L334.1,183.3 L334.7,185.6 L335.2,188.0 L335.8,190.3 L336.4,192.7 L336.9,195.0 L337.5,197.4 L338.0,199.8 L338.6,202.1 L339.2,204.5 L339.7,206.9 L340.3,209.3 L340.8,211.7" fill="none" stroke="#7dff7a" stroke-width="3.00" stroke-linejoin="round" stroke-linecap="butt" />
<path d="M275.8,33.8 L276.3,36.3 L276.9,38.7 L277.4,41.2 L277.9,43.7 L278.4,46.1 L279.0,48.6 L279.5,51.1 L280.0,53.6 L280.5,56.1 L281.1,58.5 L281.6,61.0 L282.1,63.5 L282.6,66.0 L283.2,68.4 L283.7,70.7 L284.2,73.0 L284.7,75.1 L285.3,77.1 L285.8,78.9 L286.3,80.4 L286.9,81.9 L287.4,83.2 L287.9,84.3 L288.4,85.5 L289.0,86.5 L289.5,87.6 L290.0,88.7 L290.5,89.8 L291.1,90.9 L291.6,92.0 L292.1,93.0 L292.6,94.0 L293.2,94.9 L293.7,95.6 L294.2,96.1 L294.7,96.4 L295.3,96.5 L295.8,96.4 L296.3,96.0 L296.8,95.4 L297.4,94.7 L297.9,93.9 L298.4,93.0 L298.9,91.9 L299.5,90.7 L300.0,89.4 L300.5,87.8 L301.0,86.0 L301.6,84.1 L302.1,82.2 L302.6,80.3 L303.2,78.6 L303.7,77.1 L304.2,75.9 L304.7,75.0 L305.3,74.3 L305.8,73.8 L306.3,73.5 L306.8,73.3 L307.4,73.2 L307.9,73.3 L308.4,73.3 L308.9,73.5 L309.5,73.8 L310.0,74.3 L310.5,75.0 L311.0,76.0 L311.6,77.2 L312.1,78.7 L312.6,80.4 L313.1,82.3 L313.7,84.2 L314.2,86.1 L314.7,87.9 L315.2,89.5 L315.8,90.8 L316.3,92.0 L316.8,93.1 L317.3,94.0 L317.9,94.8 L318.4,95.5 L318.9,96.0 L319.5,96.4 L320.0,96.5 L320.5,96.4 L321.0,96.1 L321.6,95.5 L322.1,94.8 L322.6,93.9 L323.1,93.0 L323.7,91.9 L324.2,90.8 L324.7,89.7 L325.2,88.6 L325.8,87.5 L326.3,86.4 L326.8,85.4 L327.3,84.3 L327.9,83.1 L328.4,81.8 L328.9,80.3 L329.4,78.7 L330.0,76.9 L330.5,75.0 L331.0,72.8 L331.5,70.6 L332.1,68.2 L332.6,65.8 L333.1,63.3 L333.6,60.8 L334.2,58.4 L334.7,55.9 L335.2,53.4 L335.7,50.9 L336.3,48.4 L336.8,45.9 L337.3,43.5 L337.9,41.0 L338.4,38.5" fill="none" stroke="#c1ff36" stroke-width="3.00" stroke-linejoin="round" stroke-linecap="butt" />
<path d="M274.4,212.1 L274.9,209.7 L275.5,207.3 L276.0,204.9 L276.6,202.5 L277.2,200.1 L277.7,197.8 L278.3,195.4 L278.8,193.0 L279.4,190.7 L280.0,188.3 L280.5,186.0 L281.1,183.7 L281.6,181.3 L282.2,179.0 L282.7,176.7 L283.3,174.3 L283.9,172.0 L284.4,169.7 L285.0,167.4 L285.5,165.1 L286.1,162.8 L286.7,160.5 L287.2,158.2 L287.8,155.9 L288.3,153.7 L288.9,151.4 L289.4,149.2 L290.0,147.1 L290.6,145.0 L291.1,142.9 L291.7,140.9 L292.2,138.9 L292.8,137.1 L293.4,135.3 L293.9,133.6 L294.5,132.1 L295.0,130.7 L295.6,129.4 L296.1,128.2 L296.7,127.3 L297.3,126.5 L297.8,125.9 L298.4,125.5 L298.9,125.4 L299.5,125.4 L300.1,125.6 L300.6,126.0 L301.2,126.4 L301.7,126.8 L302.3,127.3 L302.9,127.7 L303.4,128.1 L304.0,128.4 L304.5,128.6 L305.1,128.9 L305.6,129.0 L306.2,129.1 L306.8,129.2 L307.3,129.3 L307.9,129.3 L308.4,129.2 L309.0,129.1 L309.6,129.0 L310.1,128.9 L310.7,128.6 L311.2,128.4 L311.8,128.1 L312.3,127.7 L312.9,127.3 L313.5,126.8 L314.0,126.4 L314.6,126.0 L315.1,125.6 L315.7,125.4 L316.3,125.4 L316.8,125.5 L317.4,125.9 L317.9,126.5 L318.5,127.3 L319.1,128.2 L319.6,129.4 L320.2,130.7 L320.7,132.1 L321.3,133.6 L321.8,135.3 L322.4,137.1 L323.0,138.9 L323.5,140.9 L324.1,142.9 L324.6,145.0 L325.2,147.1 L325.8,149.2 L326.3,151.4 L326.9,153.7 L327.4,155.9 L328.0,158.2 L328.5,160.5 L329.1,162.8 L329.7,165.1 L330.2,167.4 L330.8,169.7 L331.3,172.0 L331.9,174.3 L332.5,176.7 L333.0,179.0 L333.6,181.3 L334.1,183.7 L334.7,186.0 L335.2,188.3 L335.8,190.7 L336.4,193.0 L336.9,195.4 L337.5,197.8 L338.0,200.1 L338.6,202.5 L339.2,204.9 L339.7,207.3 L340.3,209.7 L340.8,212.1" fill="none" stroke="#c1ff36" stroke-width="3.00" stroke-linejoin="round" stroke-linecap="butt" />
<path d="M275.8,34.9 L276.3,37.3 L276.9,39.8 L277.4,42.2 L277.9,44.7 L278.4,47.1 L279.0,49.6 L279.5,52.1 L280.0,54.6 L280.5,57.1 L281.1,59.5 L281.6,62.0 L282.1,64.5 L282.6,66.9 L283.2,69.3 L283.7,71.7 L284.2,73.9 L284.7,76.0 L285.3,78.0 L285.8,79.8 L286.3,81.4 L286.9,82.8 L287.4,84.1 L287.9,85.2 L288.4,86.3 L289.0,87.4 L289.5,88.5 L290.0,89.5 L290.5,90.7 L291.1,91.8 L291.6,92.9 L292.1,93.9 L292.6,94.8 L293.2,95.7 L293.7,96.4 L294.2,96.9 L294.7,97.2 L295.3,97.3 L295.8,97.2 L296.3,96.8 L296.8,96.2 L297.4,95.5 L297.9,94.7 L298.4,93.8 L298.9,92.7 L299.5,91.5 L300.0,90.1 L300.5,88.6 L301.0,86.8 L301.6,84.9 L302.1,82.9 L302.6,81.1 L303.2,79.3 L303.7,77.9 L304.2,76.7 L304.7,75.7 L305.3,75.1 L305.8,74.6 L306.3,74.3 L306.8,74.1 L307.4,74.0 L307.9,74.0 L308.4,74.1 L308.9,74.3 L309.5,74.6 L310.0,75.1 L310.5,75.8 L311.0,76.8 L311.6,78.0 L312.1,79.5 L312.6,81.2 L313.1,83.1 L313.7,85.0 L314.2,86.9 L314.7,88.7 L315.2,90.3 L315.8,91.6 L316.3,92.8 L316.8,93.9 L317.3,94.8 L317.9,95.6 L318.4,96.3 L318.9,96.8 L319.5,97.2 L320.0,97.3 L320.5,97.2 L321.0,96.9 L321.6,96.3 L322.1,95.6 L322.6,94.8 L323.1,93.8 L323.7,92.8 L324.2,91.7 L324.7,90.6 L325.2,89.5 L325.8,88.4 L326.3,87.3 L326.8,86.3 L327.3,85.1 L327.9,84.0 L328.4,82.7 L328.9,81.2 L329.4,79.6 L330.0,77.9 L330.5,75.9 L331.0,73.8 L331.5,71.5 L332.1,69.1 L332.6,66.7 L333.1,64.3 L333.6,61.8 L334.2,59.3 L334.7,56.9 L335.2,54.4 L335.7,51.9 L336.3,49.4 L336.8,47.0 L337.3,44.5 L337.9,42.0 L338.4,39.6" fill="none" stroke="#ffe600" stroke-width="3.00" stroke-linejoin="round" stroke-linecap="butt" />
<path d="M274.4,212.5 L274.9,210.0 L275.5,207.7 L276.0,205.3 L276.6,202.9 L277.2,200.5 L277.7,198.1 L278.3,195.8 L278.8,193.4 L279.4,191.1 L280.0,188.7 L280.5,186.4 L281.1,184.0 L281.6,181.7 L282.2,179.4 L282.7,177.0 L283.3,174.7 L283.9,172.4 L284.4,170.1 L285.0,167.8 L285.5,165.5 L286.1,163.2 L286.7,160.9 L287.2,158.6 L287.8,156.3 L288.3,154.1 L288.9,151.8 L289.4,149.6 L290.0,147.5 L290.6,145.4 L291.1,143.4 L291.7,141.4 L292.2,139.5 L292.8,137.6 L293.4,135.9 L293.9,134.3 L294.5,132.8 L295.0,131.4 L295.6,130.1 L296.1,129.0 L296.7,128.1 L297.3,127.3 L297.8,126.8 L298.4,126.4 L298.9,126.3 L299.5,126.4 L300.1,126.6 L300.6,127.0 L301.2,127.4 L301.7,127.9 L302.3,128.4 L302.9,128.8 L303.4,129.1 L304.0,129.5 L304.5,129.7 L305.1,129.9 L305.6,130.1 L306.2,130.2 L306.8,130.3 L307.3,130.3 L307.9,130.3 L308.4,130.3 L309.0,130.2 L309.6,130.1 L310.1,129.9 L310.7,129.7 L311.2,129.5 L311.8,129.1 L312.3,128.8 L312.9,128.4 L313.5,127.9 L314.0,127.4 L314.6,127.0 L315.1,126.6 L315.7,126.4 L316.3,126.3 L316.8,126.4 L317.4,126.8 L317.9,127.3 L318.5,128.1 L319.1,129.0 L319.6,130.1 L320.2,131.4 L320.7,132.8 L321.3,134.3 L321.8,135.9 L322.4,137.6 L323.0,139.5 L323.5,141.4 L324.1,143.4 L324.6,145.4 L325.2,147.5 L325.8,149.6 L326.3,151.8 L326.9,154.1 L327.4,156.3 L328.0,158.6 L328.5,160.9 L329.1,163.2 L329.7,165.5 L330.2,167.8 L330.8,170.1 L331.3,172.4 L331.9,174.7 L332.5,177.0 L333.0,179.4 L333.6,181.7 L334.1,184.0 L334.7,186.4 L335.2,188.7 L335.8,191.1 L336.4,193.4 L336.9,195.8 L337.5,198.1 L338.0,200.5 L338.6,202.9 L339.2,205.3 L339.7,207.7 L340.3,210.0 L340.8,212.5" fill="none" stroke="#ffe600" stroke-width="3.00" stroke-linejoin="round" stroke-linecap="butt" />
<path d="M275.8,35.9 L276.3,38.4 L276.9,40.8 L277.4,43.3 L277.9,45.7 L278.4,48.2 L279.0,50.6 L279.5,53.1 L280.0,55.6 L280.5,58.0 L281.1,60.5 L281.6,63.0 L282.1,65.4 L282.6,67.9 L283.2,70.3 L283.7,72.6 L284.2,74.9 L284.7,77.0 L285.3,78.9 L285.8,80.7 L286.3,82.3 L286.9,83.7 L287.4,84.9 L287.9,86.1 L288.4,87.2 L289.0,88.3 L289.5,89.3 L290.0,90.4 L290.5,91.5 L291.1,92.6 L291.6,93.7 L292.1,94.7 L292.6,95.7 L293.2,96.5 L293.7,97.2 L294.2,97.7 L294.7,98.1 L295.3,98.2 L295.8,98.0 L296.3,97.6 L296.8,97.0 L297.4,96.3 L297.9,95.5 L298.4,94.6 L298.9,93.5 L299.5,92.3 L300.0,90.9 L300.5,89.4 L301.0,87.6 L301.6,85.7 L302.1,83.7 L302.6,81.9 L303.2,80.1 L303.7,78.6 L304.2,77.5 L304.7,76.5 L305.3,75.8 L305.8,75.4 L306.3,75.0 L306.8,74.9 L307.4,74.8 L307.9,74.8 L308.4,74.9 L308.9,75.1 L309.5,75.4 L310.0,75.9 L310.5,76.6 L311.0,77.5 L311.6,78.7 L312.1,80.3 L312.6,82.0 L313.1,83.9 L313.7,85.8 L314.2,87.7 L314.7,89.5 L315.2,91.1 L315.8,92.4 L316.3,93.6 L316.8,94.7 L317.3,95.6 L317.9,96.4 L318.4,97.1 L318.9,97.7 L319.5,98.0 L320.0,98.2 L320.5,98.1 L321.0,97.7 L321.6,97.2 L322.1,96.5 L322.6,95.6 L323.1,94.7 L323.7,93.6 L324.2,92.5 L324.7,91.4 L325.2,90.3 L325.8,89.3 L326.3,88.2 L326.8,87.1 L327.3,86.0 L327.9,84.9 L328.4,83.6 L328.9,82.1 L329.4,80.6 L330.0,78.8 L330.5,76.8 L331.0,74.7 L331.5,72.4 L332.1,70.1 L332.6,67.7 L333.1,65.2 L333.6,62.8 L334.2,60.3 L334.7,57.8 L335.2,55.4 L335.7,52.9 L336.3,50.4 L336.8,48.0 L337.3,45.5 L337.9,43.1 L338.4,40.6" fill="none" stroke="#ff9400" stroke-width="3.00" stroke-linejoin="round" stroke-linecap="butt" />
<path d="M274.4,212.8 L274.9,210.4 L275.5,208.0 L276.0,205.6 L276.6,203.3 L277.2,200.9 L277.7,198.5 L278.3,196.1 L278.8,193.8 L279.4,191.4 L280.0,189.1 L280.5,186.7 L281.1,184.4 L281.6,182.1 L282.2,179.7 L282.7,177.4 L283.3,175.1 L283.9,172.8 L284.4,170.4 L285.0,168.1 L285.5,165.8 L286.1,163.5 L286.7,161.2 L287.2,158.9 L287.8,156.7 L288.3,154.4 L288.9,152.2 L289.4,150.1 L290.0,147.9 L290.6,145.8 L291.1,143.8 L291.7,141.9 L292.2,140.0 L292.8,138.2 L293.4,136.5 L293.9,134.9 L294.5,133.4 L295.0,132.1 L295.6,130.9 L296.1,129.8 L296.7,128.9 L297.3,128.2 L297.8,127.7 L298.4,127.4 L298.9,127.3 L299.5,127.4 L300.1,127.6 L300.6,128.0 L301.2,128.5 L301.7,128.9 L302.3,129.4 L302.9,129.8 L303.4,130.2 L304.0,130.5 L304.5,130.8 L305.1,131.0 L305.6,131.1 L306.2,131.3 L306.8,131.3 L307.3,131.4 L307.9,131.4 L308.4,131.3 L309.0,131.3 L309.6,131.1 L310.1,131.0 L310.7,130.8 L311.2,130.5 L311.8,130.2 L312.3,129.8 L312.9,129.4 L313.5,128.9 L314.0,128.5 L314.6,128.0 L315.1,127.6 L315.7,127.4 L316.3,127.3 L316.8,127.4 L317.4,127.7 L317.9,128.2 L318.5,128.9 L319.1,129.8 L319.6,130.9 L320.2,132.1 L320.7,133.4 L321.3,134.9 L321.8,136.5 L322.4,138.2 L323.0,140.0 L323.5,141.9 L324.1,143.8 L324.6,145.8 L325.2,147.9 L325.8,150.1 L326.3,152.2 L326.9,154.4 L327.4,156.7 L328.0,158.9 L328.5,161.2 L329.1,163.5 L329.7,165.8 L330.2,168.1 L330.8,170.4 L331.3,172.8 L331.9,175.1 L332.5,177.4 L333.0,179.7 L333.6,182.1 L334.1,184.4 L334.7,186.7 L335.2,189.1 L335.8,191.4 L336.4,193.8 L336.9,196.1 L337.5,198.5 L338.0,200.9 L338.6,203.3 L339.2,205.6 L339.7,208.0 L340.3,210.4 L340.8,212.8" fill="none" stroke="#ff9400" stroke-width="3.00" stroke-linejoin="round" stroke-linecap="butt" />
<path d="M275.8,37.0 L276.3,39.4 L276.9,41.8 L277.4,44.3 L277.9,46.7 L278.4,49.2 L279.0,51.6 L279.5,54.1 L280.0,56.6 L280.5,59.0 L281.1,61.5 L281.6,63.9 L282.1,66.4 L282.6,68.8 L283.2,71.2 L283.7,73.6 L284.2,75.8 L284.7,77.9 L285.3,79.8 L285.8,81.6 L286.3,83.2 L286.9,84.6 L287.4,85.8 L287.9,87.0 L288.4,88.1 L289.0,89.2 L289.5,90.2 L290.0,91.3 L290.5,92.4 L291.1,93.5 L291.6,94.6 L292.1,95.6 L292.6,96.5 L293.2,97.4 L293.7,98.1 L294.2,98.6 L294.7,98.9 L295.3,99.0 L295.8,98.8 L296.3,98.4 L296.8,97.9 L297.4,97.1 L297.9,96.3 L298.4,95.4 L298.9,94.3 L299.5,93.1 L300.0,91.7 L300.5,90.1 L301.0,88.4 L301.6,86.5 L302.1,84.5 L302.6,82.6 L303.2,80.9 L303.7,79.4 L304.2,78.2 L304.7,77.3 L305.3,76.6 L305.8,76.1 L306.3,75.8 L306.8,75.7 L307.4,75.6 L307.9,75.6 L308.4,75.7 L308.9,75.8 L309.5,76.2 L310.0,76.7 L310.5,77.4 L311.0,78.3 L311.6,79.5 L312.1,81.0 L312.6,82.8 L313.1,84.7 L313.7,86.6 L314.2,88.5 L314.7,90.3 L315.2,91.8 L315.8,93.2 L316.3,94.4 L316.8,95.5 L317.3,96.4 L317.9,97.2 L318.4,97.9 L318.9,98.5 L319.5,98.8 L320.0,99.0 L320.5,98.9 L321.0,98.5 L321.6,98.0 L322.1,97.3 L322.6,96.5 L323.1,95.5 L323.7,94.5 L324.2,93.4 L324.7,92.3 L325.2,91.2 L325.8,90.1 L326.3,89.1 L326.8,88.0 L327.3,86.9 L327.9,85.7 L328.4,84.5 L328.9,83.1 L329.4,81.5 L330.0,79.7 L330.5,77.7 L331.0,75.6 L331.5,73.4 L332.1,71.0 L332.6,68.6 L333.1,66.2 L333.6,63.7 L334.2,61.3 L334.7,58.8 L335.2,56.4 L335.7,53.9 L336.3,51.5 L336.8,49.0 L337.3,46.5 L337.9,44.1 L338.4,41.7" fill="none" stroke="#ff4700" stroke-width="3.00" stroke-linejoin="round" stroke-linecap="butt" />
<path d="M274.4,213.2 L274.9,210.8 L275.5,208.4 L276.0,206.0 L276.6,203.6 L277.2,201.2 L277.7,198.9 L278.3,196.5 L278.8,194.2 L279.4,191.8 L280.0,189.5 L280.5,187.1 L281.1,184.8 L281.6,182.4 L282.2,180.1 L282.7,177.8 L283.3,175.5 L283.9,173.1 L284.4,170.8 L285.0,168.5 L285.5,166.2 L286.1,163.9 L286.7,161.6 L287.2,159.3 L287.8,157.1 L288.3,154.8 L288.9,152.6 L289.4,150.5 L290.0,148.3 L290.6,146.3 L291.1,144.3 L291.7,142.3 L292.2,140.5 L292.8,138.7 L293.4,137.1 L293.9,135.5 L294.5,134.1 L295.0,132.8 L295.6,131.6 L296.1,130.6 L296.7,129.8 L297.3,129.1 L297.8,128.6 L298.4,128.3 L298.9,128.2 L299.5,128.4 L300.1,128.6 L300.6,129.0 L301.2,129.5 L301.7,130.0 L302.3,130.5 L302.9,130.9 L303.4,131.3 L304.0,131.6 L304.5,131.8 L305.1,132.0 L305.6,132.2 L306.2,132.3 L306.8,132.4 L307.3,132.4 L307.9,132.4 L308.4,132.4 L309.0,132.3 L309.6,132.2 L310.1,132.0 L310.7,131.8 L311.2,131.6 L311.8,131.3 L312.3,130.9 L312.9,130.5 L313.5,130.0 L314.0,129.5 L314.6,129.0 L315.1,128.6 L315.7,128.4 L316.3,128.2 L316.8,128.3 L317.4,128.6 L317.9,129.1 L318.5,129.8 L319.1,130.6 L319.6,131.6 L320.2,132.8 L320.7,134.1 L321.3,135.5 L321.8,137.1 L322.4,138.7 L323.0,140.5 L323.5,142.3 L324.1,144.3 L324.6,146.3 L325.2,148.3 L325.8,150.5 L326.3,152.6 L326.9,154.8 L327.4,157.1 L328.0,159.3 L328.5,161.6 L329.1,163.9 L329.7,166.2 L330.2,168.5 L330.8,170.8 L331.3,173.1 L331.9,175.5 L332.5,177.8 L333.0,180.1 L333.6,182.4 L334.1,184.8 L334.7,187.1 L335.2,189.5 L335.8,191.8 L336.4,194.2 L336.9,196.5 L337.5,198.9 L338.0,201.2 L338.6,203.6 L339.2,206.0 L339.7,208.4 L340.3,210.8 L340.8,213.2" fill="none" stroke="#ff4700" stroke-width="3.00" stroke-linejoin="round" stroke-linecap="butt" />
<path d="M275.8,38.1 L276.3,40.5 L276.9,42.9 L277.4,45.3 L277.9,47.8 L278.4,50.2 L279.0,52.7 L279.5,55.1 L280.0,57.6 L280.5,60.0 L281.1,62.5 L281.6,64.9 L282.1,67.3 L282.6,69.8 L283.2,72.2 L283.7,74.5 L284.2,76.7 L284.7,78.8 L285.3,80.8 L285.8,82.5 L286.3,84.1 L286.9,85.5 L287.4,86.7 L287.9,87.9 L288.4,89.0 L289.0,90.0 L289.5,91.1 L290.0,92.1 L290.5,93.2 L291.1,94.3 L291.6,95.4 L292.1,96.4 L292.6,97.4 L293.2,98.2 L293.7,98.9 L294.2,99.4 L294.7,99.7 L295.3,99.8 L295.8,99.6 L296.3,99.2 L296.8,98.7 L297.4,98.0 L297.9,97.1 L298.4,96.2 L298.9,95.1 L299.5,93.9 L300.0,92.5 L300.5,90.9 L301.0,89.2 L301.6,87.2 L302.1,85.3 L302.6,83.4 L303.2,81.7 L303.7,80.2 L304.2,79.0 L304.7,78.1 L305.3,77.4 L305.8,76.9 L306.3,76.6 L306.8,76.4 L307.4,76.4 L307.9,76.4 L308.4,76.4 L308.9,76.6 L309.5,76.9 L310.0,77.4 L310.5,78.1 L311.0,79.1 L311.6,80.3 L312.1,81.8 L312.6,83.6 L313.1,85.5 L313.7,87.4 L314.2,89.3 L314.7,91.1 L315.2,92.6 L315.8,94.0 L316.3,95.2 L316.8,96.3 L317.3,97.2 L317.9,98.0 L318.4,98.7 L318.9,99.3 L319.5,99.7 L320.0,99.8 L320.5,99.7 L321.0,99.4 L321.6,98.8 L322.1,98.1 L322.6,97.3 L323.1,96.4 L323.7,95.3 L324.2,94.3 L324.7,93.2 L325.2,92.1 L325.8,91.0 L326.3,90.0 L326.8,88.9 L327.3,87.8 L327.9,86.6 L328.4,85.4 L328.9,84.0 L329.4,82.4 L330.0,80.6 L330.5,78.7 L331.0,76.6 L331.5,74.3 L332.1,72.0 L332.6,69.6 L333.1,67.2 L333.6,64.7 L334.2,62.3 L334.7,59.8 L335.2,57.4 L335.7,54.9 L336.3,52.5 L336.8,50.0 L337.3,47.6 L337.9,45.1 L338.4,42.7" fill="none" stroke="#df0000" stroke-width="3.00" stroke-linejoin="round" stroke-linecap="butt" />
<path d="M274.4,213.6 L274.9,211.2 L275.5,208.8 L276.0,206.4 L276.6,204.0 L277.2,201.6 L277.7,199.2 L278.3,196.9 L278.8,194.5 L279.4,192.2 L280.0,189.8 L280.5,187.5 L281.1,185.1 L281.6,182.8 L282.2,180.5 L282.7,178.1 L283.3,175.8 L283.9,173.5 L284.4,171.2 L285.0,168.9 L285.5,166.6 L286.1,164.3 L286.7,162.0 L287.2,159.7 L287.8,157.4 L288.3,155.2 L288.9,153.0 L289.4,150.9 L290.0,148.8 L290.6,146.7 L291.1,144.7 L291.7,142.8 L292.2,141.0 L292.8,139.3 L293.4,137.7 L293.9,136.2 L294.5,134.8 L295.0,133.5 L295.6,132.4 L296.1,131.4 L296.7,130.6 L297.3,130.0 L297.8,129.5 L298.4,129.2 L298.9,129.2 L299.5,129.4 L300.1,129.6 L300.6,130.0 L301.2,130.5 L301.7,131.0 L302.3,131.5 L302.9,131.9 L303.4,132.3 L304.0,132.6 L304.5,132.9 L305.1,133.1 L305.6,133.3 L306.2,133.4 L306.8,133.5 L307.3,133.5 L307.9,133.5 L308.4,133.5 L309.0,133.4 L309.6,133.3 L310.1,133.1 L310.7,132.9 L311.2,132.6 L311.8,132.3 L312.3,131.9 L312.9,131.5 L313.5,131.0 L314.0,130.5 L314.6,130.0 L315.1,129.6 L315.7,129.4 L316.3,129.2 L316.8,129.2 L317.4,129.5 L317.9,130.0 L318.5,130.6 L319.1,131.4 L319.6,132.4 L320.2,133.5 L320.7,134.8 L321.3,136.2 L321.8,137.7 L322.4,139.3 L323.0,141.0 L323.5,142.8 L324.1,144.7 L324.6,146.7 L325.2,148.8 L325.8,150.9 L326.3,153.0 L326.9,155.2 L327.4,157.4 L328.0,159.7 L328.5,162.0 L329.1,164.3 L329.7,166.6 L330.2,168.9 L330.8,171.2 L331.3,173.5 L331.9,175.8 L332.5,178.1 L333.0,180.5 L333.6,182.8 L334.1,185.1 L334.7,187.5 L335.2,189.8 L335.8,192.2 L336.4,194.5 L336.9,196.9 L337.5,199.2 L338.0,201.6 L338.6,204.0 L339.2,206.4 L339.7,208.8 L340.3,211.2 L340.8,213.6" fill="none" stroke="#df0000" stroke-width="3.00" stroke-linejoin="round" stroke-linecap="butt" />
<path d="M275.8,39.1 L276.3,41.5 L276.9,43.9 L277.4,46.4 L277.9,48.8 L278.4,51.2 L279.0,53.7 L279.5,56.1 L280.0,58.5 L280.5,61.0 L281.1,63.4 L281.6,65.9 L282.1,68.3 L282.6,70.7 L283.2,73.1 L283.7,75.4 L284.2,77.6 L284.7,79.7 L285.3,81.7 L285.8,83.4 L286.3,85.0 L286.9,86.4 L287.4,87.6 L287.9,88.8 L288.4,89.9 L289.0,90.9 L289.5,91.9 L290.0,93.0 L290.5,94.1 L291.1,95.2 L291.6,96.3 L292.1,97.3 L292.6,98.2 L293.2,99.0 L293.7,99.7 L294.2,100.2 L294.7,100.5 L295.3,100.6 L295.8,100.5 L296.3,100.1 L296.8,99.5 L297.4,98.8 L297.9,97.9 L298.4,97.0 L298.9,95.9 L299.5,94.7 L300.0,93.3 L300.5,91.7 L301.0,89.9 L301.6,88.0 L302.1,86.1 L302.6,84.2 L303.2,82.5 L303.7,81.0 L304.2,79.8 L304.7,78.9 L305.3,78.2 L305.8,77.7 L306.3,77.4 L306.8,77.2 L307.4,77.1 L307.9,77.1 L308.4,77.2 L308.9,77.4 L309.5,77.7 L310.0,78.2 L310.5,78.9 L311.0,79.9 L311.6,81.1 L312.1,82.6 L312.6,84.3 L313.1,86.2 L313.7,88.2 L314.2,90.1 L314.7,91.9 L315.2,93.4 L315.8,94.8 L316.3,96.0 L316.8,97.1 L317.3,98.0 L317.9,98.8 L318.4,99.5 L318.9,100.1 L319.5,100.5 L320.0,100.6 L320.5,100.5 L321.0,100.2 L321.6,99.7 L322.1,99.0 L322.6,98.1 L323.1,97.2 L323.7,96.2 L324.2,95.1 L324.7,94.0 L325.2,92.9 L325.8,91.9 L326.3,90.8 L326.8,89.8 L327.3,88.7 L327.9,87.5 L328.4,86.3 L328.9,84.9 L329.4,83.3 L330.0,81.5 L330.5,79.6 L331.0,77.5 L331.5,75.3 L332.1,72.9 L332.6,70.5 L333.1,68.1 L333.6,65.7 L334.2,63.2 L334.7,60.8 L335.2,58.4 L335.7,55.9 L336.3,53.5 L336.8,51.0 L337.3,48.6 L337.9,46.2 L338.4,43.8" fill="none" stroke="#800000" stroke-width="3.00" stroke-linejoin="round" stroke-linecap="butt" />
<path d="M274.4,213.9 L274.9,211.5 L275.5,209.1 L276.0,206.7 L276.6,204.4 L277.2,202.0 L277.7,199.6 L278.3,197.2 L278.8,194.9 L279.4,192.5 L280.0,190.2 L280.5,187.8 L281.1,185.5 L281.6,183.2 L282.2,180.8 L282.7,178.5 L283.3,176.2 L283.9,173.9 L284.4,171.6 L285.0,169.2 L285.5,166.9 L286.1,164.6 L286.7,162.3 L287.2,160.1 L287.8,157.8 L288.3,155.6 L288.9,153.4 L289.4,151.3 L290.0,149.2 L290.6,147.1 L291.1,145.2 L291.7,143.3 L292.2,141.5 L292.8,139.8 L293.4,138.2 L293.9,136.8 L294.5,135.4 L295.0,134.2 L295.6,133.2 L296.1,132.2 L296.7,131.4 L297.3,130.8 L297.8,130.4 L298.4,130.2 L298.9,130.2 L299.5,130.3 L300.1,130.6 L300.6,131.1 L301.2,131.5 L301.7,132.1 L302.3,132.5 L302.9,133.0 L303.4,133.4 L304.0,133.7 L304.5,134.0 L305.1,134.2 L305.6,134.3 L306.2,134.5 L306.8,134.5 L307.3,134.6 L307.9,134.6 L308.4,134.5 L309.0,134.5 L309.6,134.3 L310.1,134.2 L310.7,134.0 L311.2,133.7 L311.8,133.4 L312.3,133.0 L312.9,132.5 L313.5,132.1 L314.0,131.5 L314.6,131.1 L315.1,130.6 L315.7,130.3 L316.3,130.2 L316.8,130.2 L317.4,130.4 L317.9,130.8 L318.5,131.4 L319.1,132.2 L319.6,133.2 L320.2,134.2 L320.7,135.4 L321.3,136.8 L321.8,138.2 L322.4,139.8 L323.0,141.5 L323.5,143.3 L324.1,145.2 L324.6,147.1 L325.2,149.2 L325.8,151.3 L326.3,153.4 L326.9,155.6 L327.4,157.8 L328.0,160.1 L328.5,162.3 L329.1,164.6 L329.7,166.9 L330.2,169.2 L330.8,171.6 L331.3,173.9 L331.9,176.2 L332.5,178.5 L333.0,180.8 L333.6,183.2 L334.1,185.5 L334.7,187.8 L335.2,190.2 L335.8,192.5 L336.4,194.9 L336.9,197.2 L337.5,199.6 L338.0,202.0 L338.6,204.4 L339.2,206.7 L339.7,209.1 L340.3,211.5 L340.8,213.9" fill="none" stroke="#800000" stroke-width="3.00" stroke-linejoin="round" stroke-linecap="butt" />
</g>
<g clip-path="url(#clipbr)">
<path d="M341.7,12.3 L342.3,14.2 L342.9,16.1 L343.6,18.0 L344.2,19.9 L344.8,21.8 L345.4,23.6 L346.1,25.5 L346.7,27.3 L347.3,29.2 L347.9,31.0 L348.6,32.8 L349.2,34.6 L349.8,36.4 L350.4,38.1 L351.0,39.9 L351.7,41.7 L352.3,43.5 L352.9,45.3 L353.5,47.0 L354.2,48.8 L354.8,50.5 L355.4,52.2 L356.0,53.8 L356.7,55.4 L357.3,56.9 L357.9,58.5 L358.5,59.9 L359.1,61.4 L359.8,62.8 L360.4,64.1 L361.0,65.5 L361.6,66.8 L362.3,68.0 L362.9,69.3 L363.5,70.5 L364.1,71.7 L364.8,72.8 L365.4,73.9 L366.0,75.0 L366.0,75.0 L367.3,72.7 L368.5,70.3 L369.8,67.6 L371.1,64.8 L372.3,61.6 L373.6,57.9 L374.8,53.4 L376.1,48.5 L377.4,43.7 L378.6,38.9 L379.9,33.8 L381.2,29.0 L382.4,25.0 L383.7,21.9 L385.0,18.9 L386.2,16.2 L387.5,14.0 L388.8,12.7 L390.0,12.6 L391.3,13.6 L392.5,15.3 L393.8,17.5 L395.1,19.8 L396.3,22.1 L397.6,24.9 L398.9,28.1 L400.1,31.3 L401.4,34.5 L402.7,37.7 L403.9,41.0 L405.2,44.4 L406.5,47.8 L407.7,51.3 L409.0,54.9 L410.2,58.3 L411.5,61.5 L412.8,64.3 L414.0,67.3 L415.3,70.5 L415.3,70.5 L415.9,69.2 L416.4,67.9 L417.0,66.5 L417.5,65.2 L418.1,63.8 L418.6,62.4 L419.2,60.9 L419.8,59.5 L420.3,58.0 L420.9,56.5 L421.4,55.0 L422.0,53.6 L422.5,52.1 L423.1,50.6 L423.6,49.2 L424.2,47.7 L424.8,46.2 L425.3,44.8 L425.9,43.3 L426.4,41.9 L427.0,40.5 L427.5,39.2 L428.1,37.9 L428.7,36.5 L429.2,35.2 L429.8,34.0 L430.3,32.7 L430.9,31.5 L431.4,30.2 L432.0,29.0 L432.5,27.8 L433.1,26.6 L433.7,25.5 L434.2,24.3 L434.8,23.2 L435.3,22.1 L435.9,21.0 L436.4,19.9 L437.0,18.8" fill="none" stroke="#000080" stroke-width="3.00" stroke-linejoin="round" stroke-linecap="butt" />
<path d="M341.4,164.0 L342.0,161.1 L342.7,158.3 L343.3,155.4 L343.9,152.6 L344.6,149.8 L345.2,147.1 L345.9,144.3 L346.5,141.6 L347.1,138.9 L347.8,136.2 L348.4,133.5 L349.0,130.9 L349.7,128.3 L350.3,125.7 L350.9,123.1 L351.6,120.5 L352.2,118.0 L352.8,115.6 L353.5,113.2 L354.1,110.8 L354.8,108.5 L355.4,106.2 L356.0,103.9 L356.7,101.8 L357.3,99.7 L357.9,97.7 L358.6,95.8 L359.2,93.9 L359.8,92.1 L360.5,90.4 L361.1,88.7 L361.7,87.1 L362.4,85.6 L363.0,84.1 L363.7,82.7 L364.3,81.4 L364.9,80.2 L365.6,79.1 L366.2,78.0 L366.2,78.0 L367.4,80.7 L368.7,83.2 L369.9,85.6 L371.2,88.0 L372.4,90.1 L373.6,92.0 L374.9,93.7 L376.1,95.3 L377.4,96.8 L378.6,98.3 L379.9,99.7 L381.1,101.1 L382.3,102.1 L383.6,102.8 L384.8,103.4 L386.1,104.0 L387.3,104.4 L388.5,104.8 L389.8,105.0 L391.0,105.0 L392.3,104.9 L393.5,104.6 L394.7,104.3 L396.0,103.9 L397.2,103.4 L398.5,102.8 L399.7,101.9 L400.9,100.8 L402.2,99.6 L403.4,98.4 L404.7,96.9 L405.9,95.2 L407.2,93.3 L408.4,91.2 L409.6,88.9 L410.9,86.1 L412.1,83.1 L413.4,79.5 L414.6,75.5 L414.6,75.5 L415.2,76.7 L415.7,77.9 L416.3,79.2 L416.9,80.6 L417.4,82.1 L418.0,83.7 L418.5,85.3 L419.1,87.0 L419.7,88.8 L420.2,90.6 L420.8,92.4 L421.4,94.2 L421.9,96.0 L422.5,97.9 L423.1,99.8 L423.6,101.7 L424.2,103.7 L424.8,105.6 L425.3,107.6 L425.9,109.6 L426.4,111.6 L427.0,113.6 L427.6,115.6 L428.1,117.6 L428.7,119.7 L429.3,121.7 L429.8,123.8 L430.4,125.8 L431.0,127.9 L431.5,129.9 L432.1,131.9 L432.7,133.9 L433.2,135.9 L433.8,137.9 L434.3,140.0 L434.9,142.0 L435.5,144.0 L436.0,146.0 L436.6,148.0" fill="none" stroke="#000080" stroke-width="3.00" stroke-linejoin="round" stroke-linecap="butt" />
<path d="M341.7,12.3 L342.3,14.2 L342.9,16.1 L343.6,18.0 L344.2,19.9 L344.8,21.8 L345.4,23.6 L346.1,25.5 L346.7,27.3 L347.3,29.2 L347.9,31.0 L348.6,32.8 L349.2,34.6 L349.8,36.4 L350.4,38.1 L351.0,39.9 L351.7,41.7 L352.3,43.5 L352.9,45.3 L353.5,47.0 L354.2,48.8 L354.8,50.5 L355.4,52.2 L356.0,53.8 L356.7,55.4 L357.3,56.9 L357.9,58.5 L358.5,59.9 L359.1,61.4 L359.8,62.8 L360.4,64.1 L361.0,65.5 L361.6,66.8 L362.3,68.0 L362.9,69.3 L363.5,70.5 L364.1,71.7 L364.8,72.8 L365.4,73.9 L366.0,75.0 L366.0,75.0 L367.3,72.7 L368.5,70.3 L369.8,67.6 L371.1,64.8 L372.3,61.7 L373.6,58.0 L374.8,53.6 L376.1,48.7 L377.4,44.0 L378.6,39.2 L379.9,34.3 L381.2,29.5 L382.4,25.6 L383.7,22.5 L385.0,19.6 L386.2,16.9 L387.5,14.8 L388.8,13.5 L390.0,13.4 L391.3,14.3 L392.5,16.0 L393.8,18.2 L395.1,20.4 L396.3,22.7 L397.6,25.5 L398.9,28.6 L400.1,31.8 L401.4,34.9 L402.7,38.1 L403.9,41.3 L405.2,44.6 L406.5,48.0 L407.7,51.5 L409.0,55.0 L410.2,58.4 L411.5,61.5 L412.8,64.3 L414.0,67.3 L415.3,70.5 L415.3,70.5 L415.9,69.2 L416.4,67.9 L417.0,66.5 L417.5,65.2 L418.1,63.8 L418.6,62.4 L419.2,60.9 L419.8,59.5 L420.3,58.0 L420.9,56.5 L421.4,55.0 L422.0,53.6 L422.5,52.1 L423.1,50.6 L423.6,49.2 L424.2,47.7 L424.8,46.2 L425.3,44.8 L425.9,43.3 L426.4,41.9 L427.0,40.5 L427.5,39.2 L428.1,37.9 L428.7,36.5 L429.2,35.2 L429.8,34.0 L430.3,32.7 L430.9,31.5 L431.4,30.2 L432.0,29.0 L432.5,27.8 L433.1,26.6 L433.7,25.5 L434.2,24.3 L434.8,23.2 L435.3,22.1 L435.9,21.0 L436.4,19.9 L437.0,18.8" fill="none" stroke="#0000df" stroke-width="3.00" stroke-linejoin="round" stroke-linecap="butt" />
<path d="M341.4,165.3 L342.0,162.5 L342.7,159.6 L343.3,156.8 L343.9,154.0 L344.6,151.2 L345.2,148.4 L345.9,145.6 L346.5,142.9 L347.1,140.2 L347.8,137.5 L348.4,134.8 L349.0,132.2 L349.7,129.6 L350.3,127.0 L350.9,124.4 L351.6,121.9 L352.2,119.4 L352.8,116.9 L353.5,114.5 L354.1,112.1 L354.8,109.8 L355.4,107.5 L356.0,105.2 L356.7,103.0 L357.3,101.0 L357.9,98.9 L358.6,97.0 L359.2,95.1 L359.8,93.2 L360.5,91.4 L361.1,89.7 L361.7,88.0 L362.4,86.4 L363.0,84.9 L363.7,83.4 L364.3,82.1 L364.9,80.8 L365.6,79.6 L366.2,78.5 L366.2,78.5 L367.4,81.0 L368.7,83.4 L369.9,85.7 L371.2,87.9 L372.4,90.0 L373.6,91.9 L374.9,93.5 L376.1,95.1 L377.4,96.5 L378.6,98.0 L379.9,99.5 L381.1,100.8 L382.3,101.8 L383.6,102.5 L384.8,103.1 L386.1,103.7 L387.3,104.1 L388.5,104.5 L389.8,104.7 L391.0,104.7 L392.3,104.6 L393.5,104.3 L394.7,104.0 L396.0,103.6 L397.2,103.1 L398.5,102.5 L399.7,101.6 L400.9,100.6 L402.2,99.4 L403.4,98.2 L404.7,96.7 L405.9,95.0 L407.2,93.1 L408.4,91.1 L409.6,88.8 L410.9,86.2 L412.1,83.2 L413.4,79.8 L414.6,76.0 L414.6,76.0 L415.2,77.2 L415.7,78.5 L416.3,79.9 L416.9,81.4 L417.4,82.9 L418.0,84.5 L418.5,86.2 L419.1,88.0 L419.7,89.8 L420.2,91.6 L420.8,93.4 L421.4,95.3 L421.9,97.1 L422.5,99.0 L423.1,101.0 L423.6,102.9 L424.2,104.9 L424.8,106.9 L425.3,108.9 L425.9,110.9 L426.4,112.8 L427.0,114.9 L427.6,116.9 L428.1,118.9 L428.7,121.0 L429.3,123.1 L429.8,125.1 L430.4,127.2 L431.0,129.2 L431.5,131.2 L432.1,133.2 L432.7,135.2 L433.2,137.3 L433.8,139.3 L434.3,141.3 L434.9,143.3 L435.5,145.3 L436.0,147.3 L436.6,149.3" fill="none" stroke="#0000df" stroke-width="3.00" stroke-linejoin="round" stroke-linecap="butt" />
<path d="M341.7,12.3 L342.3,14.2 L342.9,16.1 L343.6,18.0 L344.2,19.9 L344.8,21.8 L345.4,23.6 L346.1,25.5 L346.7,27.3 L347.3,29.2 L347.9,31.0 L348.6,32.8 L349.2,34.6 L349.8,36.4 L350.4,38.1 L351.0,39.9 L351.7,41.7 L352.3,43.5 L352.9,45.3 L353.5,47.0 L354.2,48.8 L354.8,50.5 L355.4,52.2 L356.0,53.8 L356.7,55.4 L357.3,56.9 L357.9,58.5 L358.5,59.9 L359.1,61.4 L359.8,62.8 L360.4,64.1 L361.0,65.5 L361.6,66.8 L362.3,68.0 L362.9,69.3 L363.5,70.5 L364.1,71.7 L364.8,72.8 L365.4,73.9 L366.0,75.0 L366.0,75.0 L367.3,72.8 L368.5,70.3 L369.8,67.7 L371.1,64.9 L372.3,61.8 L373.6,58.2 L374.8,53.8 L376.1,49.0 L377.4,44.4 L378.6,39.6 L379.9,34.7 L381.2,30.1 L382.4,26.2 L383.7,23.2 L385.0,20.3 L386.2,17.6 L387.5,15.5 L388.8,14.3 L390.0,14.2 L391.3,15.1 L392.5,16.8 L393.8,18.9 L395.1,21.1 L396.3,23.4 L397.6,26.1 L398.9,29.1 L400.1,32.2 L401.4,35.3 L402.7,38.4 L403.9,41.6 L405.2,44.9 L406.5,48.2 L407.7,51.7 L409.0,55.2 L410.2,58.5 L411.5,61.6 L412.8,64.4 L414.0,67.3 L415.3,70.5 L415.3,70.5 L415.9,69.2 L416.4,67.9 L417.0,66.5 L417.5,65.2 L418.1,63.8 L418.6,62.4 L419.2,60.9 L419.8,59.5 L420.3,58.0 L420.9,56.5 L421.4,55.0 L422.0,53.6 L422.5,52.1 L423.1,50.6 L423.6,49.2 L424.2,47.7 L424.8,46.2 L425.3,44.8 L425.9,43.3 L426.4,41.9 L427.0,40.5 L427.5,39.2 L428.1,37.9 L428.7,36.5 L429.2,35.2 L429.8,34.0 L430.3,32.7 L430.9,31.5 L431.4,30.2 L432.0,29.0 L432.5,27.8 L433.1,26.6 L433.7,25.5 L434.2,24.3 L434.8,23.2 L435.3,22.1 L435.9,21.0 L436.4,19.9 L437.0,18.8" fill="none" stroke="#0028ff" stroke-width="3.00" stroke-linejoin="round" stroke-linecap="butt" />
<path d="M341.4,166.7 L342.0,163.8 L342.7,160.9 L343.3,158.1 L343.9,155.3 L344.6,152.5 L345.2,149.7 L345.9,147.0 L346.5,144.2 L347.1,141.5 L347.8,138.8 L348.4,136.2 L349.0,133.5 L349.7,130.9 L350.3,128.3 L350.9,125.7 L351.6,123.2 L352.2,120.7 L352.8,118.2 L353.5,115.8 L354.1,113.5 L354.8,111.1 L355.4,108.8 L356.0,106.5 L356.7,104.3 L357.3,102.2 L357.9,100.2 L358.6,98.2 L359.2,96.2 L359.8,94.3 L360.5,92.5 L361.1,90.7 L361.7,89.0 L362.4,87.3 L363.0,85.7 L363.7,84.1 L364.3,82.7 L364.9,81.4 L365.6,80.1 L366.2,78.9 L366.2,78.9 L367.4,81.3 L368.7,83.6 L369.9,85.8 L371.2,87.9 L372.4,89.9 L373.6,91.7 L374.9,93.4 L376.1,94.9 L377.4,96.3 L378.6,97.8 L379.9,99.2 L381.1,100.5 L382.3,101.5 L383.6,102.2 L384.8,102.8 L386.1,103.4 L387.3,103.8 L388.5,104.2 L389.8,104.4 L391.0,104.4 L392.3,104.3 L393.5,104.0 L394.7,103.7 L396.0,103.3 L397.2,102.8 L398.5,102.2 L399.7,101.3 L400.9,100.3 L402.2,99.2 L403.4,97.9 L404.7,96.5 L405.9,94.8 L407.2,93.0 L408.4,91.0 L409.6,88.8 L410.9,86.2 L412.1,83.3 L413.4,80.1 L414.6,76.4 L414.6,76.4 L415.2,77.7 L415.7,79.1 L416.3,80.6 L416.9,82.1 L417.4,83.7 L418.0,85.3 L418.5,87.1 L419.1,88.9 L419.7,90.8 L420.2,92.6 L420.8,94.5 L421.4,96.4 L421.9,98.3 L422.5,100.2 L423.1,102.1 L423.6,104.1 L424.2,106.1 L424.8,108.1 L425.3,110.1 L425.9,112.1 L426.4,114.1 L427.0,116.1 L427.6,118.2 L428.1,120.2 L428.7,122.3 L429.3,124.4 L429.8,126.4 L430.4,128.5 L431.0,130.5 L431.5,132.5 L432.1,134.6 L432.7,136.6 L433.2,138.6 L433.8,140.6 L434.3,142.6 L434.9,144.6 L435.5,146.7 L436.0,148.7 L436.6,150.7" fill="none" stroke="#0028ff" stroke-width="3.00" stroke-linejoin="round" stroke-linecap="butt" />
<path d="M341.7,12.3 L342.3,14.2 L342.9,16.1 L343.6,18.0 L344.2,19.9 L344.8,21.8 L345.4,23.6 L346.1,25.5 L346.7,27.3 L347.3,29.2 L347.9,31.0 L348.6,32.8 L349.2,34.6 L349.8,36.4 L350.4,38.1 L351.0,39.9 L351.7,41.7 L352.3,43.5 L352.9,45.3 L353.5,47.0 L354.2,48.8 L354.8,50.5 L355.4,52.2 L356.0,53.8 L356.7,55.4 L357.3,56.9 L357.9,58.5 L358.5,59.9 L359.1,61.4 L359.8,62.8 L360.4,64.1 L361.0,65.5 L361.6,66.8 L362.3,68.0 L362.9,69.3 L363.5,70.5 L364.1,71.7 L364.8,72.8 L365.4,73.9 L366.0,75.0 L366.0,75.0 L367.3,72.8 L368.5,70.3 L369.8,67.7 L371.1,65.0 L372.3,61.9 L373.6,58.3 L374.8,53.9 L376.1,49.3 L377.4,44.7 L378.6,40.0 L379.9,35.2 L381.2,30.6 L382.4,26.8 L383.7,23.8 L385.0,21.0 L386.2,18.4 L387.5,16.3 L388.8,15.1 L390.0,15.0 L391.3,15.9 L392.5,17.5 L393.8,19.6 L395.1,21.8 L396.3,24.0 L397.6,26.7 L398.9,29.6 L400.1,32.7 L401.4,35.7 L402.7,38.8 L403.9,41.9 L405.2,45.1 L406.5,48.4 L407.7,51.8 L409.0,55.3 L410.2,58.6 L411.5,61.6 L412.8,64.4 L414.0,67.4 L415.3,70.5 L415.3,70.5 L415.9,69.2 L416.4,67.9 L417.0,66.5 L417.5,65.2 L418.1,63.8 L418.6,62.4 L419.2,60.9 L419.8,59.5 L420.3,58.0 L420.9,56.5 L421.4,55.0 L422.0,53.6 L422.5,52.1 L423.1,50.6 L423.6,49.2 L424.2,47.7 L424.8,46.2 L425.3,44.8 L425.9,43.3 L426.4,41.9 L427.0,40.5 L427.5,39.2 L428.1,37.9 L428.7,36.5 L429.2,35.2 L429.8,34.0 L430.3,32.7 L430.9,31.5 L431.4,30.2 L432.0,29.0 L432.5,27.8 L433.1,26.6 L433.7,25.5 L434.2,24.3 L434.8,23.2 L435.3,22.1 L435.9,21.0 L436.4,19.9 L437.0,18.8" fill="none" stroke="#0080ff" stroke-width="3.00" stroke-linejoin="round" stroke-linecap="butt" />
<path d="M341.4,168.0 L342.0,165.1 L342.7,162.3 L343.3,159.4 L343.9,156.6 L344.6,153.8 L345.2,151.1 L345.9,148.3 L346.5,145.6 L347.1,142.9 L347.8,140.2 L348.4,137.5 L349.0,134.9 L349.7,132.3 L350.3,129.7 L350.9,127.1 L351.6,124.5 L352.2,122.0 L352.8,119.6 L353.5,117.2 L354.1,114.8 L354.8,112.4 L355.4,110.1 L356.0,107.8 L356.7,105.6 L357.3,103.5 L357.9,101.4 L358.6,99.4 L359.2,97.4 L359.8,95.4 L360.5,93.5 L361.1,91.7 L361.7,89.9 L362.4,88.1 L363.0,86.4 L363.7,84.8 L364.3,83.3 L364.9,81.9 L365.6,80.6 L366.2,79.4 L366.2,79.4 L367.4,81.6 L368.7,83.7 L369.9,85.8 L371.2,87.9 L372.4,89.8 L373.6,91.6 L374.9,93.2 L376.1,94.7 L377.4,96.1 L378.6,97.5 L379.9,98.9 L381.1,100.2 L382.3,101.2 L383.6,101.9 L384.8,102.5 L386.1,103.1 L387.3,103.6 L388.5,103.9 L389.8,104.1 L391.0,104.1 L392.3,104.0 L393.5,103.7 L394.7,103.4 L396.0,103.0 L397.2,102.5 L398.5,101.9 L399.7,101.1 L400.9,100.1 L402.2,98.9 L403.4,97.7 L404.7,96.3 L405.9,94.7 L407.2,92.8 L408.4,90.9 L409.6,88.7 L410.9,86.2 L412.1,83.5 L413.4,80.4 L414.6,76.9 L414.6,76.9 L415.2,78.3 L415.7,79.7 L416.3,81.2 L416.9,82.8 L417.4,84.4 L418.0,86.2 L418.5,88.0 L419.1,89.8 L419.7,91.7 L420.2,93.6 L420.8,95.5 L421.4,97.4 L421.9,99.4 L422.5,101.3 L423.1,103.3 L423.6,105.3 L424.2,107.3 L424.8,109.3 L425.3,111.4 L425.9,113.4 L426.4,115.4 L427.0,117.4 L427.6,119.5 L428.1,121.6 L428.7,123.6 L429.3,125.7 L429.8,127.8 L430.4,129.8 L431.0,131.9 L431.5,133.9 L432.1,135.9 L432.7,137.9 L433.2,139.9 L433.8,141.9 L434.3,144.0 L434.9,146.0 L435.5,148.0 L436.0,150.0 L436.6,152.0" fill="none" stroke="#0080ff" stroke-width="3.00" stroke-linejoin="round" stroke-linecap="butt" />
<path d="M341.7,12.3 L342.3,14.2 L342.9,16.1 L343.6,18.0 L344.2,19.9 L344.8,21.8 L345.4,23.6 L346.1,25.5 L346.7,27.3 L347.3,29.2 L347.9,31.0 L348.6,32.8 L349.2,34.6 L349.8,36.4 L350.4,38.1 L351.0,39.9 L351.7,41.7 L352.3,43.5 L352.9,45.3 L353.5,47.0 L354.2,48.8 L354.8,50.5 L355.4,52.2 L356.0,53.8 L356.7,55.4 L357.3,56.9 L357.9,58.5 L358.5,59.9 L359.1,61.4 L359.8,62.8 L360.4,64.1 L361.0,65.5 L361.6,66.8 L362.3,68.0 L362.9,69.3 L363.5,70.5 L364.1,71.7 L364.8,72.8 L365.4,73.9 L366.0,75.0 L366.0,75.0 L367.3,72.8 L368.5,70.4 L369.8,67.8 L371.1,65.0 L372.3,62.0 L373.6,58.4 L374.8,54.1 L376.1,49.5 L377.4,45.0 L378.6,40.4 L379.9,35.7 L381.2,31.2 L382.4,27.4 L383.7,24.5 L385.0,21.7 L386.2,19.1 L387.5,17.1 L388.8,15.9 L390.0,15.8 L391.3,16.7 L392.5,18.3 L393.8,20.3 L395.1,22.5 L396.3,24.7 L397.6,27.3 L398.9,30.2 L400.1,33.2 L401.4,36.1 L402.7,39.1 L403.9,42.2 L405.2,45.4 L406.5,48.6 L407.7,52.0 L409.0,55.4 L410.2,58.7 L411.5,61.7 L412.8,64.5 L414.0,67.4 L415.3,70.5 L415.3,70.5 L415.9,69.2 L416.4,67.9 L417.0,66.5 L417.5,65.2 L418.1,63.8 L418.6,62.4 L419.2,60.9 L419.8,59.5 L420.3,58.0 L420.9,56.5 L421.4,55.0 L422.0,53.6 L422.5,52.1 L423.1,50.6 L423.6,49.2 L424.2,47.7 L424.8,46.2 L425.3,44.8 L425.9,43.3 L426.4,41.9 L427.0,40.5 L427.5,39.2 L428.1,37.9 L428.7,36.5 L429.2,35.2 L429.8,34.0 L430.3,32.7 L430.9,31.5 L431.4,30.2 L432.0,29.0 L432.5,27.8 L433.1,26.6 L433.7,25.5 L434.2,24.3 L434.8,23.2 L435.3,22.1 L435.9,21.0 L436.4,19.9 L437.0,18.8" fill="none" stroke="#00d4ff" stroke-width="3.00" stroke-linejoin="round" stroke-linecap="butt" />
<path d="M341.4,169.3 L342.0,166.5 L342.7,163.6 L343.3,160.8 L343.9,158.0 L344.6,155.2 L345.2,152.4 L345.9,149.6 L346.5,146.9 L347.1,144.2 L347.8,141.5 L348.4,138.8 L349.0,136.2 L349.7,133.6 L350.3,131.0 L350.9,128.4 L351.6,125.9 L352.2,123.4 L352.8,120.9 L353.5,118.5 L354.1,116.1 L354.8,113.7 L355.4,111.4 L356.0,109.1 L356.7,106.9 L357.3,104.7 L357.9,102.7 L358.6,100.6 L359.2,98.5 L359.8,96.5 L360.5,94.6 L361.1,92.7 L361.7,90.8 L362.4,89.0 L363.0,87.2 L363.7,85.5 L364.3,84.0 L364.9,82.5 L365.6,81.1 L366.2,79.9 L366.2,79.9 L367.4,81.9 L368.7,83.9 L369.9,85.9 L371.2,87.9 L372.4,89.8 L373.6,91.5 L374.9,93.0 L376.1,94.5 L377.4,95.9 L378.6,97.3 L379.9,98.7 L381.1,99.9 L382.3,101.0 L383.6,101.6 L384.8,102.3 L386.1,102.8 L387.3,103.3 L388.5,103.6 L389.8,103.8 L391.0,103.8 L392.3,103.7 L393.5,103.5 L394.7,103.1 L396.0,102.7 L397.2,102.3 L398.5,101.7 L399.7,100.8 L400.9,99.8 L402.2,98.7 L403.4,97.5 L404.7,96.1 L405.9,94.5 L407.2,92.7 L408.4,90.8 L409.6,88.6 L410.9,86.2 L412.1,83.6 L413.4,80.7 L414.6,77.4 L414.6,77.4 L415.2,78.8 L415.7,80.3 L416.3,81.9 L416.9,83.5 L417.4,85.2 L418.0,87.0 L418.5,88.9 L419.1,90.8 L419.7,92.7 L420.2,94.7 L420.8,96.6 L421.4,98.5 L421.9,100.5 L422.5,102.5 L423.1,104.5 L423.6,106.5 L424.2,108.5 L424.8,110.6 L425.3,112.6 L425.9,114.6 L426.4,116.7 L427.0,118.7 L427.6,120.8 L428.1,122.9 L428.7,124.9 L429.3,127.0 L429.8,129.1 L430.4,131.1 L431.0,133.2 L431.5,135.2 L432.1,137.2 L432.7,139.2 L433.2,141.3 L433.8,143.3 L434.3,145.3 L434.9,147.3 L435.5,149.3 L436.0,151.3 L436.6,153.3" fill="none" stroke="#00d4ff" stroke-width="3.00" stroke-linejoin="round" stroke-linecap="butt" />
<path d="M341.7,12.3 L342.3,14.2 L342.9,16.1 L343.6,18.0 L344.2,19.9 L344.8,21.8 L345.4,23.6 L346.1,25.5 L346.7,27.3 L347.3,29.2 L347.9,31.0 L348.6,32.8 L349.2,34.6 L349.8,36.4 L350.4,38.1 L351.0,39.9 L351.7,41.7 L352.3,43.5 L352.9,45.3 L353.5,47.0 L354.2,48.8 L354.8,50.5 L355.4,52.2 L356.0,53.8 L356.7,55.4 L357.3,56.9 L357.9,58.5 L358.5,59.9 L359.1,61.4 L359.8,62.8 L360.4,64.1 L361.0,65.5 L361.6,66.8 L362.3,68.0 L362.9,69.3 L363.5,70.5 L364.1,71.7 L364.8,72.8 L365.4,73.9 L366.0,75.0 L366.0,75.0 L367.3,72.8 L368.5,70.4 L369.8,67.8 L371.1,65.1 L372.3,62.1 L373.6,58.6 L374.8,54.3 L376.1,49.8 L377.4,45.3 L378.6,40.8 L379.9,36.1 L381.2,31.7 L382.4,28.0 L383.7,25.1 L385.0,22.4 L386.2,19.9 L387.5,17.9 L388.8,16.7 L390.0,16.6 L391.3,17.4 L392.5,19.0 L393.8,21.1 L395.1,23.2 L396.3,25.3 L397.6,27.9 L398.9,30.7 L400.1,33.6 L401.4,36.5 L402.7,39.5 L403.9,42.5 L405.2,45.7 L406.5,48.8 L407.7,52.2 L409.0,55.6 L410.2,58.8 L411.5,61.8 L412.8,64.5 L414.0,67.4 L415.3,70.5 L415.3,70.5 L415.9,69.2 L416.4,67.9 L417.0,66.5 L417.5,65.2 L418.1,63.8 L418.6,62.4 L419.2,60.9 L419.8,59.5 L420.3,58.0 L420.9,56.5 L421.4,55.0 L422.0,53.6 L422.5,52.1 L423.1,50.6 L423.6,49.2 L424.2,47.7 L424.8,46.2 L425.3,44.8 L425.9,43.3 L426.4,41.9 L427.0,40.5 L427.5,39.2 L428.1,37.9 L428.7,36.5 L429.2,35.2 L429.8,34.0 L430.3,32.7 L430.9,31.5 L431.4,30.2 L432.0,29.0 L432.5,27.8 L433.1,26.6 L433.7,25.5 L434.2,24.3 L434.8,23.2 L435.3,22.1 L435.9,21.0 L436.4,19.9 L437.0,18.8" fill="none" stroke="#36ffc1" stroke-width="3.00" stroke-linejoin="round" stroke-linecap="butt" />
<path d="M341.4,170.7 L342.0,167.8 L342.7,164.9 L343.3,162.1 L343.9,159.3 L344.6,156.5 L345.2,153.7 L345.9,151.0 L346.5,148.2 L347.1,145.5 L347.8,142.8 L348.4,140.2 L349.0,137.5 L349.7,134.9 L350.3,132.3 L350.9,129.7 L351.6,127.2 L352.2,124.7 L352.8,122.2 L353.5,119.8 L354.1,117.4 L354.8,115.0 L355.4,112.7 L356.0,110.4 L356.7,108.2 L357.3,106.0 L357.9,103.9 L358.6,101.8 L359.2,99.7 L359.8,97.6 L360.5,95.6 L361.1,93.7 L361.7,91.7 L362.4,89.8 L363.0,88.0 L363.7,86.2 L364.3,84.6 L364.9,83.1 L365.6,81.7 L366.2,80.3 L366.2,80.3 L367.4,82.2 L368.7,84.1 L369.9,86.0 L371.2,87.9 L372.4,89.7 L373.6,91.3 L374.9,92.9 L376.1,94.3 L377.4,95.7 L378.6,97.1 L379.9,98.4 L381.1,99.7 L382.3,100.7 L383.6,101.4 L384.8,102.0 L386.1,102.6 L387.3,103.0 L388.5,103.4 L389.8,103.6 L391.0,103.6 L392.3,103.5 L393.5,103.2 L394.7,102.9 L396.0,102.5 L397.2,102.0 L398.5,101.4 L399.7,100.6 L400.9,99.6 L402.2,98.5 L403.4,97.3 L404.7,95.9 L405.9,94.3 L407.2,92.6 L408.4,90.7 L409.6,88.6 L410.9,86.3 L412.1,83.8 L413.4,81.0 L414.6,77.8 L414.6,77.8 L415.2,79.3 L415.7,80.9 L416.3,82.5 L416.9,84.2 L417.4,86.0 L418.0,87.8 L418.5,89.7 L419.1,91.7 L419.7,93.7 L420.2,95.7 L420.8,97.7 L421.4,99.6 L421.9,101.6 L422.5,103.6 L423.1,105.7 L423.6,107.7 L424.2,109.8 L424.8,111.8 L425.3,113.9 L425.9,115.9 L426.4,117.9 L427.0,120.0 L427.6,122.1 L428.1,124.2 L428.7,126.3 L429.3,128.3 L429.8,130.4 L430.4,132.5 L431.0,134.5 L431.5,136.5 L432.1,138.6 L432.7,140.6 L433.2,142.6 L433.8,144.6 L434.3,146.6 L434.9,148.6 L435.5,150.7 L436.0,152.7 L436.6,154.7" fill="none" stroke="#36ffc1" stroke-width="3.00" stroke-linejoin="round" stroke-linecap="butt" />
<path d="M341.7,12.3 L342.3,14.2 L342.9,16.1 L343.6,18.0 L344.2,19.9 L344.8,21.8 L345.4,23.6 L346.1,25.5 L346.7,27.3 L347.3,29.2 L347.9,31.0 L348.6,32.8 L349.2,34.6 L349.8,36.4 L350.4,38.1 L351.0,39.9 L351.7,41.7 L352.3,43.5 L352.9,45.3 L353.5,47.0 L354.2,48.8 L354.8,50.5 L355.4,52.2 L356.0,53.8 L356.7,55.4 L357.3,56.9 L357.9,58.5 L358.5,59.9 L359.1,61.4 L359.8,62.8 L360.4,64.1 L361.0,65.5 L361.6,66.8 L362.3,68.0 L362.9,69.3 L363.5,70.5 L364.1,71.7 L364.8,72.8 L365.4,73.9 L366.0,75.0 L366.0,75.0 L367.3,72.8 L368.5,70.4 L369.8,67.8 L371.1,65.2 L372.3,62.2 L373.6,58.7 L374.8,54.5 L376.1,50.0 L377.4,45.6 L378.6,41.2 L379.9,36.6 L381.2,32.3 L382.4,28.6 L383.7,25.8 L385.0,23.1 L386.2,20.6 L387.5,18.6 L388.8,17.5 L390.0,17.3 L391.3,18.2 L392.5,19.8 L393.8,21.8 L395.1,23.9 L396.3,26.0 L397.6,28.4 L398.9,31.2 L400.1,34.1 L401.4,36.9 L402.7,39.8 L403.9,42.8 L405.2,45.9 L406.5,49.1 L407.7,52.4 L409.0,55.7 L410.2,58.9 L411.5,61.8 L412.8,64.5 L414.0,67.4 L415.3,70.5 L415.3,70.5 L415.9,69.2 L416.4,67.9 L417.0,66.5 L417.5,65.2 L418.1,63.8 L418.6,62.4 L419.2,60.9 L419.8,59.5 L420.3,58.0 L420.9,56.5 L421.4,55.0 L422.0,53.6 L422.5,52.1 L423.1,50.6 L423.6,49.2 L424.2,47.7 L424.8,46.2 L425.3,44.8 L425.9,43.3 L426.4,41.9 L427.0,40.5 L427.5,39.2 L428.1,37.9 L428.7,36.5 L429.2,35.2 L429.8,34.0 L430.3,32.7 L430.9,31.5 L431.4,30.2 L432.0,29.0 L432.5,27.8 L433.1,26.6 L433.7,25.5 L434.2,24.3 L434.8,23.2 L435.3,22.1 L435.9,21.0 L436.4,19.9 L437.0,18.8" fill="none" stroke="#7dff7a" stroke-width="3.00" stroke-linejoin="round" stroke-linecap="butt" />
<path d="M341.4,172.0 L342.0,169.1 L342.7,166.3 L343.3,163.4 L343.9,160.6 L344.6,157.8 L345.2,155.1 L345.9,152.3 L346.5,149.6 L347.1,146.9 L347.8,144.2 L348.4,141.5 L349.0,138.9 L349.7,136.3 L350.3,133.7 L350.9,131.1 L351.6,128.5 L352.2,126.0 L352.8,123.6 L353.5,121.2 L354.1,118.8 L354.8,116.4 L355.4,114.0 L356.0,111.7 L356.7,109.4 L357.3,107.3 L357.9,105.1 L358.6,103.0 L359.2,100.8 L359.8,98.7 L360.5,96.6 L361.1,94.7 L361.7,92.7 L362.4,90.7 L363.0,88.8 L363.7,86.9 L364.3,85.2 L364.9,83.7 L365.6,82.2 L366.2,80.8 L366.2,80.8 L367.4,82.5 L368.7,84.3 L369.9,86.1 L371.2,87.9 L372.4,89.6 L373.6,91.2 L374.9,92.7 L376.1,94.1 L377.4,95.5 L378.6,96.9 L379.9,98.2 L381.1,99.5 L382.3,100.5 L383.6,101.2 L384.8,101.8 L386.1,102.3 L387.3,102.8 L388.5,103.1 L389.8,103.3 L391.0,103.4 L392.3,103.2 L393.5,103.0 L394.7,102.6 L396.0,102.2 L397.2,101.8 L398.5,101.2 L399.7,100.4 L400.9,99.4 L402.2,98.3 L403.4,97.2 L404.7,95.8 L405.9,94.2 L407.2,92.5 L408.4,90.6 L409.6,88.6 L410.9,86.4 L412.1,83.9 L413.4,81.3 L414.6,78.3 L414.6,78.3 L415.2,79.9 L415.7,81.5 L416.3,83.2 L416.9,84.9 L417.4,86.8 L418.0,88.6 L418.5,90.6 L419.1,92.6 L419.7,94.7 L420.2,96.7 L420.8,98.7 L421.4,100.7 L421.9,102.7 L422.5,104.8 L423.1,106.8 L423.6,108.9 L424.2,111.0 L424.8,113.0 L425.3,115.1 L425.9,117.2 L426.4,119.2 L427.0,121.3 L427.6,123.4 L428.1,125.5 L428.7,127.6 L429.3,129.7 L429.8,131.7 L430.4,133.8 L431.0,135.9 L431.5,137.9 L432.1,139.9 L432.7,141.9 L433.2,143.9 L433.8,145.9 L434.3,148.0 L434.9,150.0 L435.5,152.0 L436.0,154.0 L436.6,156.0" fill="none" stroke="#7dff7a" stroke-width="3.00" stroke-linejoin="round" stroke-linecap="butt" />
<path d="M341.7,12.3 L342.3,14.2 L342.9,16.1 L343.6,18.0 L344.2,19.9 L344.8,21.8 L345.4,23.6 L346.1,25.5 L346.7,27.3 L347.3,29.2 L347.9,31.0 L348.6,32.8 L349.2,34.6 L349.8,36.4 L350.4,38.1 L351.0,39.9 L351.7,41.7 L352.3,43.5 L352.9,45.3 L353.5,47.0 L354.2,48.8 L354.8,50.5 L355.4,52.2 L356.0,53.8 L356.7,55.4 L357.3,56.9 L357.9,58.5 L358.5,59.9 L359.1,61.4 L359.8,62.8 L360.4,64.1 L361.0,65.5 L361.6,66.8 L362.3,68.0 L362.9,69.3 L363.5,70.5 L364.1,71.7 L364.8,72.8 L365.4,73.9 L366.0,75.0 L366.0,75.0 L367.3,72.8 L368.5,70.4 L369.8,67.9 L371.1,65.2 L372.3,62.3 L373.6,58.9 L374.8,54.7 L376.1,50.3 L377.4,46.0 L378.6,41.6 L379.9,37.1 L381.2,32.8 L382.4,29.2 L383.7,26.5 L385.0,23.8 L386.2,21.3 L387.5,19.4 L388.8,18.2 L390.0,18.1 L391.3,19.0 L392.5,20.6 L393.8,22.5 L395.1,24.5 L396.3,26.6 L397.6,29.0 L398.9,31.7 L400.1,34.5 L401.4,37.3 L402.7,40.2 L403.9,43.1 L405.2,46.2 L406.5,49.3 L407.7,52.5 L409.0,55.8 L410.2,59.0 L411.5,61.9 L412.8,64.6 L414.0,67.4 L415.3,70.5 L415.3,70.5 L415.9,69.2 L416.4,67.9 L417.0,66.5 L417.5,65.2 L418.1,63.8 L418.6,62.4 L419.2,60.9 L419.8,59.5 L420.3,58.0 L420.9,56.5 L421.4,55.0 L422.0,53.6 L422.5,52.1 L423.1,50.6 L423.6,49.2 L424.2,47.7 L424.8,46.2 L425.3,44.8 L425.9,43.3 L426.4,41.9 L427.0,40.5 L427.5,39.2 L428.1,37.9 L428.7,36.5 L429.2,35.2 L429.8,34.0 L430.3,32.7 L430.9,31.5 L431.4,30.2 L432.0,29.0 L432.5,27.8 L433.1,26.6 L433.7,25.5 L434.2,24.3 L434.8,23.2 L435.3,22.1 L435.9,21.0 L436.4,19.9 L437.0,18.8" fill="none" stroke="#c1ff36" stroke-width="3.00" stroke-linejoin="round" stroke-linecap="butt" />
<path d="M341.4,173.3 L342.0,170.5 L342.7,167.6 L343.3,164.8 L343.9,162.0 L344.6,159.2 L345.2,156.4 L345.9,153.6 L346.5,150.9 L347.1,148.2 L347.8,145.5 L348.4,142.8 L349.0,140.2 L349.7,137.6 L350.3,135.0 L350.9,132.4 L351.6,129.9 L352.2,127.4 L352.8,124.9 L353.5,122.5 L354.1,120.1 L354.8,117.7 L355.4,115.3 L356.0,113.0 L356.7,110.7 L357.3,108.5 L357.9,106.4 L358.6,104.2 L359.2,102.0 L359.8,99.8 L360.5,97.7 L361.1,95.6 L361.7,93.6 L362.4,91.5 L363.0,89.5 L363.7,87.6 L364.3,85.9 L364.9,84.2 L365.6,82.7 L366.2,81.3 L366.2,81.3 L367.4,82.9 L368.7,84.5 L369.9,86.2 L371.2,88.0 L372.4,89.6 L373.6,91.2 L374.9,92.6 L376.1,94.0 L377.4,95.3 L378.6,96.7 L379.9,98.1 L381.1,99.3 L382.3,100.3 L383.6,101.0 L384.8,101.6 L386.1,102.1 L387.3,102.6 L388.5,103.0 L389.8,103.2 L391.0,103.2 L392.3,103.0 L393.5,102.8 L394.7,102.4 L396.0,102.0 L397.2,101.6 L398.5,101.0 L399.7,100.2 L400.9,99.2 L402.2,98.2 L403.4,97.0 L404.7,95.7 L405.9,94.1 L407.2,92.4 L408.4,90.6 L409.6,88.6 L410.9,86.4 L412.1,84.1 L413.4,81.6 L414.6,78.8 L414.6,78.8 L415.2,80.4 L415.7,82.1 L416.3,83.9 L416.9,85.7 L417.4,87.5 L418.0,89.5 L418.5,91.5 L419.1,93.6 L419.7,95.6 L420.2,97.7 L420.8,99.8 L421.4,101.8 L421.9,103.8 L422.5,105.9 L423.1,108.0 L423.6,110.1 L424.2,112.2 L424.8,114.3 L425.3,116.4 L425.9,118.4 L426.4,120.5 L427.0,122.6 L427.6,124.7 L428.1,126.8 L428.7,128.9 L429.3,131.0 L429.8,133.1 L430.4,135.1 L431.0,137.2 L431.5,139.2 L432.1,141.2 L432.7,143.2 L433.2,145.3 L433.8,147.3 L434.3,149.3 L434.9,151.3 L435.5,153.3 L436.0,155.3 L436.6,157.3" fill="none" stroke="#c1ff36" stroke-width="3.00" stroke-linejoin="round" stroke-linecap="butt" />
<path d="M341.7,12.3 L342.3,14.2 L342.9,16.1 L343.6,18.0 L344.2,19.9 L344.8,21.8 L345.4,23.6 L346.1,25.5 L346.7,27.3 L347.3,29.2 L347.9,31.0 L348.6,32.8 L349.2,34.6 L349.8,36.4 L350.4,38.1 L351.0,39.9 L351.7,41.7 L352.3,43.5 L352.9,45.3 L353.5,47.0 L354.2,48.8 L354.8,50.5 L355.4,52.2 L356.0,53.8 L356.7,55.4 L357.3,56.9 L357.9,58.5 L358.5,59.9 L359.1,61.4 L359.8,62.8 L360.4,64.1 L361.0,65.5 L361.6,66.8 L362.3,68.0 L362.9,69.3 L363.5,70.5 L364.1,71.7 L364.8,72.8 L365.4,73.9 L366.0,75.0 L366.0,75.0 L367.3,72.8 L368.5,70.4 L369.8,67.9 L371.1,65.3 L372.3,62.4 L373.6,59.0 L374.8,54.9 L376.1,50.5 L377.4,46.3 L378.6,42.0 L379.9,37.6 L381.2,33.4 L382.4,29.8 L383.7,27.1 L385.0,24.5 L386.2,22.1 L387.5,20.2 L388.8,19.0 L390.0,18.9 L391.3,19.8 L392.5,21.3 L393.8,23.2 L395.1,25.2 L396.3,27.2 L397.6,29.6 L398.9,32.2 L400.1,35.0 L401.4,37.7 L402.7,40.5 L403.9,43.5 L405.2,46.4 L406.5,49.5 L407.7,52.7 L409.0,55.9 L410.2,59.1 L411.5,62.0 L412.8,64.6 L414.0,67.4 L415.3,70.5 L415.3,70.5 L415.9,69.2 L416.4,67.9 L417.0,66.5 L417.5,65.2 L418.1,63.8 L418.6,62.4 L419.2,60.9 L419.8,59.5 L420.3,58.0 L420.9,56.5 L421.4,55.0 L422.0,53.6 L422.5,52.1 L423.1,50.6 L423.6,49.2 L424.2,47.7 L424.8,46.2 L425.3,44.8 L425.9,43.3 L426.4,41.9 L427.0,40.5 L427.5,39.2 L428.1,37.9 L428.7,36.5 L429.2,35.2 L429.8,34.0 L430.3,32.7 L430.9,31.5 L431.4,30.2 L432.0,29.0 L432.5,27.8 L433.1,26.6 L433.7,25.5 L434.2,24.3 L434.8,23.2 L435.3,22.1 L435.9,21.0 L436.4,19.9 L437.0,18.8" fill="none" stroke="#ffe600" stroke-width="3.00" stroke-linejoin="round" stroke-linecap="butt" />
<path d="M341.4,174.7 L342.0,171.8 L342.7,168.9 L343.3,166.1 L343.9,163.3 L344.6,160.5 L345.2,157.7 L345.9,155.0 L346.5,152.2 L347.1,149.5 L347.8,146.8 L348.4,144.2 L349.0,141.5 L349.7,138.9 L350.3,136.3 L350.9,133.7 L351.6,131.2 L352.2,128.7 L352.8,126.2 L353.5,123.8 L354.1,121.4 L354.8,119.0 L355.4,116.6 L356.0,114.3 L356.7,112.0 L357.3,109.8 L357.9,107.6 L358.6,105.4 L359.2,103.1 L359.8,100.9 L360.5,98.7 L361.1,96.6 L361.7,94.5 L362.4,92.4 L363.0,90.3 L363.7,88.3 L364.3,86.5 L364.9,84.8 L365.6,83.2 L366.2,81.7 L366.2,81.7 L367.4,83.2 L368.7,84.8 L369.9,86.4 L371.2,88.0 L372.4,89.7 L373.6,91.2 L374.9,92.6 L376.1,94.0 L377.4,95.3 L378.6,96.6 L379.9,98.0 L381.1,99.2 L382.3,100.2 L383.6,100.9 L384.8,101.5 L386.1,102.0 L387.3,102.5 L388.5,102.8 L389.8,103.0 L391.0,103.0 L392.3,102.9 L393.5,102.7 L394.7,102.3 L396.0,101.9 L397.2,101.5 L398.5,100.9 L399.7,100.1 L400.9,99.1 L402.2,98.1 L403.4,97.0 L404.7,95.6 L405.9,94.1 L407.2,92.4 L408.4,90.6 L409.6,88.6 L410.9,86.6 L412.1,84.3 L413.4,81.9 L414.6,79.2 L414.6,79.2 L415.2,81.0 L415.7,82.7 L416.3,84.5 L416.9,86.4 L417.4,88.3 L418.0,90.3 L418.5,92.4 L419.1,94.5 L419.7,96.6 L420.2,98.7 L420.8,100.8 L421.4,102.9 L421.9,105.0 L422.5,107.0 L423.1,109.2 L423.6,111.3 L424.2,113.4 L424.8,115.5 L425.3,117.6 L425.9,119.7 L426.4,121.8 L427.0,123.9 L427.6,126.0 L428.1,128.1 L428.7,130.2 L429.3,132.3 L429.8,134.4 L430.4,136.5 L431.0,138.5 L431.5,140.5 L432.1,142.6 L432.7,144.6 L433.2,146.6 L433.8,148.6 L434.3,150.6 L434.9,152.6 L435.5,154.7 L436.0,156.7 L436.6,158.7" fill="none" stroke="#ffe600" stroke-width="3.00" stroke-linejoin="round" stroke-linecap="butt" />
<path d="M341.7,12.3 L342.3,14.2 L342.9,16.1 L343.6,18.0 L344.2,19.9 L344.8,21.8 L345.4,23.6 L346.1,25.5 L346.7,27.3 L347.3,29.2 L347.9,31.0 L348.6,32.8 L349.2,34.6 L349.8,36.4 L350.4,38.1 L351.0,39.9 L351.7,41.7 L352.3,43.5 L352.9,45.3 L353.5,47.0 L354.2,48.8 L354.8,50.5 L355.4,52.2 L356.0,53.8 L356.7,55.4 L357.3,56.9 L357.9,58.5 L358.5,59.9 L359.1,61.4 L359.8,62.8 L360.4,64.1 L361.0,65.5 L361.6,66.8 L362.3,68.0 L362.9,69.3 L363.5,70.5 L364.1,71.7 L364.8,72.8 L365.4,73.9 L366.0,75.0 L366.0,75.0 L367.3,72.8 L368.5,70.5 L369.8,68.0 L371.1,65.4 L372.3,62.5 L373.6,59.2 L374.8,55.1 L376.1,50.8 L377.4,46.6 L378.6,42.4 L379.9,38.0 L381.2,33.9 L382.4,30.5 L383.7,27.8 L385.0,25.2 L386.2,22.8 L387.5,20.9 L388.8,19.8 L390.0,19.7 L391.3,20.6 L392.5,22.1 L393.8,23.9 L395.1,25.9 L396.3,27.9 L397.6,30.2 L398.9,32.8 L400.1,35.4 L401.4,38.1 L402.7,40.9 L403.9,43.8 L405.2,46.7 L406.5,49.7 L407.7,52.9 L409.0,56.1 L410.2,59.2 L411.5,62.0 L412.8,64.6 L414.0,67.4 L415.3,70.5 L415.3,70.5 L415.9,69.2 L416.4,67.9 L417.0,66.5 L417.5,65.2 L418.1,63.8 L418.6,62.4 L419.2,60.9 L419.8,59.5 L420.3,58.0 L420.9,56.5 L421.4,55.0 L422.0,53.6 L422.5,52.1 L423.1,50.6 L423.6,49.2 L424.2,47.7 L424.8,46.2 L425.3,44.8 L425.9,43.3 L426.4,41.9 L427.0,40.5 L427.5,39.2 L428.1,37.9 L428.7,36.5 L429.2,35.2 L429.8,34.0 L430.3,32.7 L430.9,31.5 L431.4,30.2 L432.0,29.0 L432.5,27.8 L433.1,26.6 L433.7,25.5 L434.2,24.3 L434.8,23.2 L435.3,22.1 L435.9,21.0 L436.4,19.9 L437.0,18.8" fill="none" stroke="#ff9400" stroke-width="3.00" stroke-linejoin="round" stroke-linecap="butt" />
<path d="M341.4,176.0 L342.0,173.1 L342.7,170.3 L343.3,167.4 L343.9,164.6 L344.6,161.8 L345.2,159.1 L345.9,156.3 L346.5,153.6 L347.1,150.9 L347.8,148.2 L348.4,145.5 L349.0,142.9 L349.7,140.3 L350.3,137.7 L350.9,135.1 L351.6,132.5 L352.2,130.0 L352.8,127.6 L353.5,125.2 L354.1,122.7 L354.8,120.3 L355.4,117.9 L356.0,115.6 L356.7,113.3 L357.3,111.1 L357.9,108.8 L358.6,106.6 L359.2,104.3 L359.8,102.0 L360.5,99.8 L361.1,97.6 L361.7,95.4 L362.4,93.2 L363.0,91.1 L363.7,89.0 L364.3,87.2 L364.9,85.4 L365.6,83.7 L366.2,82.2 L366.2,82.2 L367.4,83.6 L368.7,85.0 L369.9,86.6 L371.2,88.2 L372.4,89.7 L373.6,91.2 L374.9,92.6 L376.1,94.0 L377.4,95.3 L378.6,96.6 L379.9,97.9 L381.1,99.1 L382.3,100.1 L383.6,100.8 L384.8,101.4 L386.1,102.0 L387.3,102.4 L388.5,102.8 L389.8,103.0 L391.0,103.0 L392.3,102.9 L393.5,102.6 L394.7,102.3 L396.0,101.9 L397.2,101.4 L398.5,100.8 L399.7,100.0 L400.9,99.1 L402.2,98.1 L403.4,97.0 L404.7,95.6 L405.9,94.1 L407.2,92.4 L408.4,90.6 L409.6,88.7 L410.9,86.7 L412.1,84.6 L413.4,82.2 L414.6,79.7 L414.6,79.7 L415.2,81.5 L415.7,83.3 L416.3,85.2 L416.9,87.1 L417.4,89.1 L418.0,91.1 L418.5,93.3 L419.1,95.4 L419.7,97.6 L420.2,99.8 L420.8,101.9 L421.4,104.0 L421.9,106.1 L422.5,108.2 L423.1,110.3 L423.6,112.5 L424.2,114.6 L424.8,116.8 L425.3,118.9 L425.9,121.0 L426.4,123.0 L427.0,125.2 L427.6,127.3 L428.1,129.4 L428.7,131.5 L429.3,133.6 L429.8,135.7 L430.4,137.8 L431.0,139.9 L431.5,141.9 L432.1,143.9 L432.7,145.9 L433.2,147.9 L433.8,149.9 L434.3,152.0 L434.9,154.0 L435.5,156.0 L436.0,158.0 L436.6,160.0" fill="none" stroke="#ff9400" stroke-width="3.00" stroke-linejoin="round" stroke-linecap="butt" />
<path d="M341.7,12.3 L342.3,14.2 L342.9,16.1 L343.6,18.0 L344.2,19.9 L344.8,21.8 L345.4,23.6 L346.1,25.5 L346.7,27.3 L347.3,29.2 L347.9,31.0 L348.6,32.8 L349.2,34.6 L349.8,36.4 L350.4,38.1 L351.0,39.9 L351.7,41.7 L352.3,43.5 L352.9,45.3 L353.5,47.0 L354.2,48.8 L354.8,50.5 L355.4,52.2 L356.0,53.8 L356.7,55.4 L357.3,56.9 L357.9,58.5 L358.5,59.9 L359.1,61.4 L359.8,62.8 L360.4,64.1 L361.0,65.5 L361.6,66.8 L362.3,68.0 L362.9,69.3 L363.5,70.5 L364.1,71.7 L364.8,72.8 L365.4,73.9 L366.0,75.0 L366.0,75.0 L367.3,72.8 L368.5,70.5 L369.8,68.0 L371.1,65.4 L372.3,62.6 L373.6,59.3 L374.8,55.3 L376.1,51.1 L377.4,46.9 L378.6,42.8 L379.9,38.5 L381.2,34.5 L382.4,31.1 L383.7,28.4 L385.0,25.9 L386.2,23.6 L387.5,21.7 L388.8,20.6 L390.0,20.5 L391.3,21.3 L392.5,22.8 L393.8,24.7 L395.1,26.6 L396.3,28.5 L397.6,30.8 L398.9,33.3 L400.1,35.9 L401.4,38.5 L402.7,41.2 L403.9,44.1 L405.2,47.0 L406.5,49.9 L407.7,53.0 L409.0,56.2 L410.2,59.3 L411.5,62.1 L412.8,64.7 L414.0,67.5 L415.3,70.5 L415.3,70.5 L415.9,69.2 L416.4,67.9 L417.0,66.5 L417.5,65.2 L418.1,63.8 L418.6,62.4 L419.2,60.9 L419.8,59.5 L420.3,58.0 L420.9,56.5 L421.4,55.0 L422.0,53.6 L422.5,52.1 L423.1,50.6 L423.6,49.2 L424.2,47.7 L424.8,46.2 L425.3,44.8 L425.9,43.3 L426.4,41.9 L427.0,40.5 L427.5,39.2 L428.1,37.9 L428.7,36.5 L429.2,35.2 L429.8,34.0 L430.3,32.7 L430.9,31.5 L431.4,30.2 L432.0,29.0 L432.5,27.8 L433.1,26.6 L433.7,25.5 L434.2,24.3 L434.8,23.2 L435.3,22.1 L435.9,21.0 L436.4,19.9 L437.0,18.8" fill="none" stroke="#ff4700" stroke-width="3.00" stroke-linejoin="round" stroke-linecap="butt" />
<path d="M341.4,177.3 L342.0,174.5 L342.7,171.6 L343.3,168.8 L343.9,166.0 L344.6,163.2 L345.2,160.4 L345.9,157.6 L346.5,154.9 L347.1,152.2 L347.8,149.5 L348.4,146.8 L349.0,144.2 L349.7,141.6 L350.3,139.0 L350.9,136.4 L351.6,133.9 L352.2,131.4 L352.8,128.9 L353.5,126.5 L354.1,124.1 L354.8,121.6 L355.4,119.2 L356.0,116.9 L356.7,114.6 L357.3,112.3 L357.9,110.1 L358.6,107.8 L359.2,105.4 L359.8,103.1 L360.5,100.8 L361.1,98.6 L361.7,96.4 L362.4,94.1 L363.0,91.9 L363.7,89.7 L364.3,87.8 L364.9,86.0 L365.6,84.3 L366.2,82.7 L366.2,82.7 L367.4,83.9 L368.7,85.3 L369.9,86.8 L371.2,88.4 L372.4,89.9 L373.6,91.4 L374.9,92.7 L376.1,94.0 L377.4,95.3 L378.6,96.7 L379.9,98.0 L381.1,99.2 L382.3,100.2 L383.6,100.8 L384.8,101.4 L386.1,102.0 L387.3,102.5 L388.5,102.8 L389.8,103.0 L391.0,103.0 L392.3,102.9 L393.5,102.6 L394.7,102.3 L396.0,101.9 L397.2,101.5 L398.5,100.9 L399.7,100.1 L400.9,99.2 L402.2,98.2 L403.4,97.0 L404.7,95.7 L405.9,94.2 L407.2,92.5 L408.4,90.8 L409.6,88.9 L410.9,86.9 L412.1,84.8 L413.4,82.6 L414.6,80.2 L414.6,80.2 L415.2,82.0 L415.7,83.9 L416.3,85.9 L416.9,87.8 L417.4,89.8 L418.0,92.0 L418.5,94.1 L419.1,96.3 L419.7,98.6 L420.2,100.8 L420.8,102.9 L421.4,105.0 L421.9,107.2 L422.5,109.3 L423.1,111.5 L423.6,113.7 L424.2,115.8 L424.8,118.0 L425.3,120.1 L425.9,122.2 L426.4,124.3 L427.0,126.4 L427.6,128.6 L428.1,130.7 L428.7,132.8 L429.3,135.0 L429.8,137.1 L430.4,139.1 L431.0,141.2 L431.5,143.2 L432.1,145.2 L432.7,147.2 L433.2,149.3 L433.8,151.3 L434.3,153.3 L434.9,155.3 L435.5,157.3 L436.0,159.3 L436.6,161.3" fill="none" stroke="#ff4700" stroke-width="3.00" stroke-linejoin="round" stroke-linecap="butt" />
<path d="M341.7,12.3 L342.3,14.2 L342.9,16.1 L343.6,18.0 L344.2,19.9 L344.8,21.8 L345.4,23.6 L346.1,25.5 L346.7,27.3 L347.3,29.2 L347.9,31.0 L348.6,32.8 L349.2,34.6 L349.8,36.4 L350.4,38.1 L351.0,39.9 L351.7,41.7 L352.3,43.5 L352.9,45.3 L353.5,47.0 L354.2,48.8 L354.8,50.5 L355.4,52.2 L356.0,53.8 L356.7,55.4 L357.3,56.9 L357.9,58.5 L358.5,59.9 L359.1,61.4 L359.8,62.8 L360.4,64.1 L361.0,65.5 L361.6,66.8 L362.3,68.0 L362.9,69.3 L363.5,70.5 L364.1,71.7 L364.8,72.8 L365.4,73.9 L366.0,75.0 L366.0,75.0 L367.3,72.8 L368.5,70.5 L369.8,68.1 L371.1,65.5 L372.3,62.7 L373.6,59.4 L374.8,55.5 L376.1,51.3 L377.4,47.2 L378.6,43.2 L379.9,39.0 L381.2,35.0 L382.4,31.7 L383.7,29.1 L385.0,26.6 L386.2,24.3 L387.5,22.5 L388.8,21.4 L390.0,21.3 L391.3,22.1 L392.5,23.6 L393.8,25.4 L395.1,27.3 L396.3,29.2 L397.6,31.4 L398.9,33.8 L400.1,36.3 L401.4,38.9 L402.7,41.6 L403.9,44.4 L405.2,47.2 L406.5,50.1 L407.7,53.2 L409.0,56.3 L410.2,59.4 L411.5,62.2 L412.8,64.7 L414.0,67.5 L415.3,70.5 L415.3,70.5 L415.9,69.2 L416.4,67.9 L417.0,66.5 L417.5,65.2 L418.1,63.8 L418.6,62.4 L419.2,60.9 L419.8,59.5 L420.3,58.0 L420.9,56.5 L421.4,55.0 L422.0,53.6 L422.5,52.1 L423.1,50.6 L423.6,49.2 L424.2,47.7 L424.8,46.2 L425.3,44.8 L425.9,43.3 L426.4,41.9 L427.0,40.5 L427.5,39.2 L428.1,37.9 L428.7,36.5 L429.2,35.2 L429.8,34.0 L430.3,32.7 L430.9,31.5 L431.4,30.2 L432.0,29.0 L432.5,27.8 L433.1,26.6 L433.7,25.5 L434.2,24.3 L434.8,23.2 L435.3,22.1 L435.9,21.0 L436.4,19.9 L437.0,18.8" fill="none" stroke="#df0000" stroke-width="3.00" stroke-linejoin="round" stroke-linecap="butt" />
<path d="M341.4,178.7 L342.0,175.8 L342.7,172.9 L343.3,170.1 L343.9,167.3 L344.6,164.5 L345.2,161.7 L345.9,159.0 L346.5,156.2 L347.1,153.5 L347.8,150.8 L348.4,148.2 L349.0,145.5 L349.7,142.9 L350.3,140.3 L350.9,137.7 L351.6,135.2 L352.2,132.7 L352.8,130.2 L353.5,127.8 L354.1,125.4 L354.8,123.0 L355.4,120.5 L356.0,118.2 L356.7,115.8 L357.3,113.6 L357.9,111.3 L358.6,109.0 L359.2,106.6 L359.8,104.2 L360.5,101.9 L361.1,99.6 L361.7,97.3 L362.4,94.9 L363.0,92.6 L363.7,90.4 L364.3,88.4 L364.9,86.6 L365.6,84.8 L366.2,83.1 L366.2,83.1 L367.4,84.3 L368.7,85.7 L369.9,87.1 L371.2,88.6 L372.4,90.1 L373.6,91.6 L374.9,92.9 L376.1,94.2 L377.4,95.5 L378.6,96.8 L379.9,98.1 L381.1,99.3 L382.3,100.3 L383.6,101.0 L384.8,101.6 L386.1,102.2 L387.3,102.6 L388.5,103.0 L389.8,103.2 L391.0,103.2 L392.3,103.1 L393.5,102.8 L394.7,102.5 L396.0,102.1 L397.2,101.6 L398.5,101.0 L399.7,100.3 L400.9,99.3 L402.2,98.3 L403.4,97.2 L404.7,95.9 L405.9,94.4 L407.2,92.7 L408.4,91.0 L409.6,89.2 L410.9,87.2 L412.1,85.2 L413.4,83.0 L414.6,80.6 L414.6,80.6 L415.2,82.6 L415.7,84.5 L416.3,86.5 L416.9,88.5 L417.4,90.6 L418.0,92.8 L418.5,95.0 L419.1,97.3 L419.7,99.5 L420.2,101.8 L420.8,104.0 L421.4,106.1 L421.9,108.3 L422.5,110.5 L423.1,112.7 L423.6,114.9 L424.2,117.0 L424.8,119.2 L425.3,121.4 L425.9,123.5 L426.4,125.6 L427.0,127.7 L427.6,129.9 L428.1,132.0 L428.7,134.1 L429.3,136.3 L429.8,138.4 L430.4,140.5 L431.0,142.5 L431.5,144.5 L432.1,146.6 L432.7,148.6 L433.2,150.6 L433.8,152.6 L434.3,154.6 L434.9,156.6 L435.5,158.7 L436.0,160.7 L436.6,162.7" fill="none" stroke="#df0000" stroke-width="3.00" stroke-linejoin="round" stroke-linecap="butt" />
<path d="M341.7,12.3 L342.3,14.2 L342.9,16.1 L343.6,18.0 L344.2,19.9 L344.8,21.8 L345.4,23.6 L346.1,25.5 L346.7,27.3 L347.3,29.2 L347.9,31.0 L348.6,32.8 L349.2,34.6 L349.8,36.4 L350.4,38.1 L351.0,39.9 L351.7,41.7 L352.3,43.5 L352.9,45.3 L353.5,47.0 L354.2,48.8 L354.8,50.5 L355.4,52.2 L356.0,53.8 L356.7,55.4 L357.3,56.9 L357.9,58.5 L358.5,59.9 L359.1,61.4 L359.8,62.8 L360.4,64.1 L361.0,65.5 L361.6,66.8 L362.3,68.0 L362.9,69.3 L363.5,70.5 L364.1,71.7 L364.8,72.8 L365.4,73.9 L366.0,75.0 L366.0,75.0 L367.3,72.8 L368.5,70.5 L369.8,68.1 L371.1,65.6 L372.3,62.8 L373.6,59.6 L374.8,55.7 L376.1,51.6 L377.4,47.6 L378.6,43.6 L379.9,39.4 L381.2,35.6 L382.4,32.3 L383.7,29.7 L385.0,27.3 L386.2,25.0 L387.5,23.3 L388.8,22.2 L390.0,22.1 L391.3,22.9 L392.5,24.3 L393.8,26.1 L395.1,28.0 L396.3,29.8 L397.6,32.0 L398.9,34.3 L400.1,36.8 L401.4,39.3 L402.7,41.9 L403.9,44.7 L405.2,47.5 L406.5,50.4 L407.7,53.4 L409.0,56.5 L410.2,59.5 L411.5,62.2 L412.8,64.7 L414.0,67.5 L415.3,70.5 L415.3,70.5 L415.9,69.2 L416.4,67.9 L417.0,66.5 L417.5,65.2 L418.1,63.8 L418.6,62.4 L419.2,60.9 L419.8,59.5 L420.3,58.0 L420.9,56.5 L421.4,55.0 L422.0,53.6 L422.5,52.1 L423.1,50.6 L423.6,49.2 L424.2,47.7 L424.8,46.2 L425.3,44.8 L425.9,43.3 L426.4,41.9 L427.0,40.5 L427.5,39.2 L428.1,37.9 L428.7,36.5 L429.2,35.2 L429.8,34.0 L430.3,32.7 L430.9,31.5 L431.4,30.2 L432.0,29.0 L432.5,27.8 L433.1,26.6 L433.7,25.5 L434.2,24.3 L434.8,23.2 L435.3,22.1 L435.9,21.0 L436.4,19.9 L437.0,18.8" fill="none" stroke="#800000" stroke-width="3.00" stroke-linejoin="round" stroke-linecap="butt" />
<path d="M341.4,180.0 L342.0,177.1 L342.7,174.3 L343.3,171.4 L343.9,168.6 L344.6,165.8 L345.2,163.1 L345.9,160.3 L346.5,157.6 L347.1,154.9 L347.8,152.2 L348.4,149.5 L349.0,146.9 L349.7,144.3 L350.3,141.7 L350.9,139.1 L351.6,136.5 L352.2,134.0 L352.8,131.6 L353.5,129.2 L354.1,126.7 L354.8,124.3 L355.4,121.9 L356.0,119.5 L356.7,117.1 L357.3,114.9 L357.9,112.6 L358.6,110.2 L359.2,107.7 L359.8,105.3 L360.5,102.9 L361.1,100.6 L361.7,98.2 L362.4,95.8 L363.0,93.4 L363.7,91.1 L364.3,89.1 L364.9,87.1 L365.6,85.3 L366.2,83.6 L366.2,83.6 L367.4,84.8 L368.7,86.1 L369.9,87.5 L371.2,89.0 L372.4,90.5 L373.6,91.9 L374.9,93.3 L376.1,94.5 L377.4,95.8 L378.6,97.1 L379.9,98.4 L381.1,99.6 L382.3,100.6 L383.6,101.3 L384.8,101.9 L386.1,102.5 L387.3,102.9 L388.5,103.3 L389.8,103.5 L391.0,103.5 L392.3,103.4 L393.5,103.1 L394.7,102.8 L396.0,102.4 L397.2,101.9 L398.5,101.3 L399.7,100.6 L400.9,99.7 L402.2,98.6 L403.4,97.5 L404.7,96.2 L405.9,94.7 L407.2,93.1 L408.4,91.3 L409.6,89.5 L410.9,87.6 L412.1,85.6 L413.4,83.4 L414.6,81.1 L414.6,81.1 L415.2,83.1 L415.7,85.1 L416.3,87.2 L416.9,89.3 L417.4,91.4 L418.0,93.6 L418.5,95.9 L419.1,98.2 L419.7,100.5 L420.2,102.8 L420.8,105.0 L421.4,107.2 L421.9,109.4 L422.5,111.6 L423.1,113.8 L423.6,116.1 L424.2,118.3 L424.8,120.5 L425.3,122.6 L425.9,124.8 L426.4,126.9 L427.0,129.0 L427.6,131.2 L428.1,133.3 L428.7,135.5 L429.3,137.6 L429.8,139.7 L430.4,141.8 L431.0,143.9 L431.5,145.9 L432.1,147.9 L432.7,149.9 L433.2,151.9 L433.8,153.9 L434.3,156.0 L434.9,158.0 L435.5,160.0 L436.0,162.0 L436.6,164.0" fill="none" stroke="#800000" stroke-width="3.00" stroke-linejoin="round" stroke-linecap="butt" />
</g>
<rect x="267.50" y="0.50" width="177.00" height="188.00" fill="none" stroke="#222" stroke-width="1.00"/>
<line x1="339.50" y1="0.50" x2="339.50" y2="188.50" stroke="#222" stroke-width="1.00"/>
<line x1="264.00" y1="40.60" x2="267.50" y2="40.60" stroke="#222" stroke-width="1.00"/>
<text x="260.60" y="45.15" font-size="12.30" text-anchor="end" fill="#111" stroke="#111" stroke-width="0.2" textLength="18.00" lengthAdjust="spacingAndGlyphs">100</text>
<line x1="264.00" y1="89.70" x2="267.50" y2="89.70" stroke="#222" stroke-width="1.00"/>
<text x="260.60" y="94.25" font-size="12.30" text-anchor="end" fill="#111" stroke="#111" stroke-width="0.2" textLength="12.00" lengthAdjust="spacingAndGlyphs">50</text>
<line x1="264.00" y1="138.80" x2="267.50" y2="138.80" stroke="#222" stroke-width="1.00"/>
<text x="260.60" y="143.35" font-size="12.30" text-anchor="end" fill="#111" stroke="#111" stroke-width="0.2" textLength="6.00" lengthAdjust="spacingAndGlyphs">0</text>
<line x1="264.00" y1="187.90" x2="267.50" y2="187.90" stroke="#222" stroke-width="1.00"/>
<text x="260.60" y="192.45" font-size="12.30" text-anchor="end" fill="#111" stroke="#111" stroke-width="0.2" textLength="18.10" lengthAdjust="spacingAndGlyphs">&#8722;50</text>
<line x1="278.70" y1="188.50" x2="278.70" y2="192.00" stroke="#222" stroke-width="1.00"/>
<text transform="translate(278.20,205.40) rotate(-15)" x="0" y="4.4" font-size="12.30" text-anchor="middle" fill="#111" stroke="#111" stroke-width="0.2" textLength="25.5" lengthAdjust="spacingAndGlyphs">-0.02</text>
<line x1="361.60" y1="188.50" x2="361.60" y2="192.00" stroke="#222" stroke-width="1.00"/>
<text transform="translate(361.10,205.40) rotate(-15)" x="0" y="4.4" font-size="12.30" text-anchor="middle" fill="#111" stroke="#111" stroke-width="0.2" textLength="25.5" lengthAdjust="spacingAndGlyphs">-0.02</text>
<line x1="307.60" y1="188.50" x2="307.60" y2="192.00" stroke="#222" stroke-width="1.00"/>
<text transform="translate(307.10,205.40) rotate(-15)" x="0" y="4.4" font-size="12.30" text-anchor="middle" fill="#111" stroke="#111" stroke-width="0.2" textLength="21.0" lengthAdjust="spacingAndGlyphs">0.00</text>
<line x1="390.50" y1="188.50" x2="390.50" y2="192.00" stroke="#222" stroke-width="1.00"/>
<text transform="translate(390.00,205.40) rotate(-15)" x="0" y="4.4" font-size="12.30" text-anchor="middle" fill="#111" stroke="#111" stroke-width="0.2" textLength="21.0" lengthAdjust="spacingAndGlyphs">0.00</text>
<line x1="336.50" y1="188.50" x2="336.50" y2="192.00" stroke="#222" stroke-width="1.00"/>
<text transform="translate(336.00,205.40) rotate(-15)" x="0" y="4.4" font-size="12.30" text-anchor="middle" fill="#111" stroke="#111" stroke-width="0.2" textLength="21.0" lengthAdjust="spacingAndGlyphs">0.02</text>
<line x1="419.40" y1="188.50" x2="419.40" y2="192.00" stroke="#222" stroke-width="1.00"/>
<text transform="translate(418.90,205.40) rotate(-15)" x="0" y="4.4" font-size="12.30" text-anchor="middle" fill="#111" stroke="#111" stroke-width="0.2" textLength="21.0" lengthAdjust="spacingAndGlyphs">0.02</text>
<text x="355.80" y="232.00" font-size="14.00" text-anchor="middle" fill="#1a1a1a"  style="">&#916;<tspan font-style="italic">k</tspan><tspan font-size="10.5" dy="2.5">x</tspan><tspan dy="-2.5"> (&#197;</tspan><tspan font-size="9.5" dy="-5">&#8722;1</tspan><tspan dy="5">)</tspan></text>
<text transform="translate(233.2,94) rotate(-90)" font-size="13.0" text-anchor="middle" fill="#1a1a1a"><tspan font-style="italic">E</tspan> &#8722; <tspan font-style="italic">E</tspan><tspan font-size="9" dy="3">F</tspan><tspan font-size="9" dx="-5" dy="-9">0</tspan><tspan dy="6"> (meV)</tspan></text>
<text x="220.60" y="13.00" font-size="12.5" text-anchor="start" fill="#111" textLength="13.00" lengthAdjust="spacingAndGlyphs">(b)</text>
<text x="308.50" y="52.50" font-size="8.80" text-anchor="middle" fill="#23238e"  style="">t =15.7 fs</text>
<text x="308.50" y="112.50" font-size="8.80" text-anchor="middle" fill="#8b1a1a"  style="">t =23.1 fs</text>
<rect x="279.0" y="159.4" width="48" height="20" fill="#fff" fill-opacity="0.75"/>
<text x="305.00" y="154.00" font-size="11.50" text-anchor="middle" fill="#1a1a1a"  style=""><tspan font-style="italic">k</tspan><tspan font-size="9" dy="2.5">y, z</tspan><tspan dy="-2.5">=</tspan></text>
<text x="303.00" y="174.00" font-size="11.80" text-anchor="middle" fill="#1a1a1a"  style=""><tspan font-style="italic">k</tspan><tspan font-size="8.5" dy="3">y, z</tspan><tspan font-size="8.5" dx="-13.5" dy="-9">W1</tspan><tspan dy="6">(0 fs)</tspan></text>
<text x="391.20" y="174.80" font-size="11.80" text-anchor="middle" fill="#1a1a1a"  style=""><tspan font-style="italic">k</tspan><tspan font-size="8.5" dy="2.5">y, z</tspan><tspan dy="-2.5">=</tspan><tspan font-style="italic">k</tspan><tspan font-size="8.5" dy="3">y, z</tspan><tspan font-size="8.5" dx="-13.5" dy="-9">W2</tspan><tspan dy="6">(0 fs)</tspan></text>
<clipPath id="clipcl"><rect x="497.50" y="0.50" width="72.00" height="188.50"/></clipPath>
<clipPath id="clipcr"><rect x="569.50" y="0.50" width="105.00" height="188.50"/></clipPath>
<g clip-path="url(#clipcl)">
<path d="M505.1,63.7 L505.4,63.7 L505.7,63.7 L505.9,63.7 L506.2,63.7 L506.5,63.7 L506.8,63.7 L507.1,63.7 L507.4,63.7 L507.7,63.7 L508.0,63.7 L508.3,63.7 L508.6,63.7 L508.9,63.7 L509.2,63.7 L509.5,63.7 L509.8,63.7 L510.1,63.7 L510.3,63.7 L510.6,63.7 L510.9,63.7 L511.2,63.7 L511.5,63.7 L511.8,63.7 L512.1,63.7 L512.4,63.7 L512.7,63.7 L513.0,63.7 L513.3,63.7 L513.6,63.7 L513.9,63.7 L514.2,63.7 L514.5,63.7 L514.7,63.7 L515.0,63.7 L515.3,63.7 L515.6,63.7 L515.9,63.7 L516.2,63.7 L516.5,63.7 L516.8,63.7 L517.1,63.7 L517.4,63.7 L517.7,63.7 L518.0,63.7 L518.3,63.7 L518.6,63.7 L518.9,63.7 L519.1,63.7 L519.4,63.7 L519.7,63.7 L520.0,63.7 L520.3,63.7 L520.6,63.7 L520.9,63.7 L521.2,63.7 L521.5,63.7 L521.8,63.7 L522.1,63.7 L522.4,63.7 L522.7,63.7 L523.0,63.7 L523.3,63.7 L523.5,63.7 L523.8,63.7 L524.1,63.7 L524.4,63.7 L524.7,63.7 L525.0,63.7 L525.3,63.7 L525.6,63.7 L525.9,63.7 L526.2,63.7 L526.5,63.7 L526.8,63.7 L527.1,63.7 L527.4,63.7 L527.6,63.7 L527.9,63.7 L528.2,63.7 L528.5,63.7 L528.8,63.7 L529.1,63.7 L529.4,63.7 L529.7,63.7 L530.0,63.7 L530.3,63.7 L530.6,63.7 L530.9,63.7 L531.2,63.7 L531.5,63.7 L531.8,63.7 L532.0,63.7 L532.3,63.7 L532.6,63.7 L532.9,63.7 L533.2,63.7 L533.5,63.7 L533.8,63.7 L534.1,63.7 L534.4,63.7 L534.7,63.7 L535.0,63.7 L535.3,63.7 L535.6,63.7 L535.9,63.7 L536.2,63.7 L536.4,63.7 L536.7,63.7 L537.0,63.7 L537.3,63.7 L537.6,63.7 L537.9,63.7 L538.2,63.7 L538.5,63.7 L538.8,63.7 L539.1,63.7 L539.4,63.7 L539.7,63.7 L540.0,63.7 L540.3,63.7 L540.6,63.7 L540.8,63.7 L541.1,63.7 L541.4,63.7 L541.7,63.7 L542.0,63.7 L542.3,63.7 L542.6,63.7 L542.9,63.7 L543.2,63.7 L543.5,63.7 L543.8,63.7 L544.1,63.7 L544.4,63.7 L544.7,63.7 L545.0,63.7 L545.2,63.7 L545.5,63.7 L545.8,63.7 L546.1,63.7 L546.4,63.7 L546.7,63.7 L547.0,63.7 L547.3,63.7 L547.6,63.7 L547.9,63.7 L548.2,63.7 L548.5,63.7 L548.8,63.7 L549.1,63.7 L549.4,63.7 L549.6,63.7 L549.9,63.7 L550.2,63.7 L550.5,63.7 L550.8,63.7 L551.1,63.7 L551.4,63.7 L551.7,63.7 L552.0,63.7 L552.3,63.7 L552.6,63.7 L552.9,63.7 L553.2,63.7 L553.5,63.7 L553.8,63.7 L554.0,63.7 L554.3,63.7 L554.6,63.7 L554.9,63.7 L555.2,63.7 L555.5,63.7 L555.8,63.7 L556.1,63.7 L556.4,63.7 L556.7,63.7 L557.0,63.7 L557.3,63.7 L557.6,63.7 L557.9,63.7 L558.2,63.7 L558.4,63.7 L558.7,63.7 L559.0,63.7 L559.3,63.7 L559.6,63.7 L559.9,63.7 L560.2,63.7 L560.5,63.7 L560.8,63.7 L561.1,63.7 L561.4,63.7 L561.7,63.7 L562.0,63.7 L562.3,63.7 L562.6,63.7 L562.8,63.7 L563.1,63.7 L563.4,63.7 L563.7,63.7 L564.0,63.7 L564.3,63.7 L564.6,63.7 L564.9,63.7 L565.2,63.7 L565.5,63.7 L565.8,63.7 L566.1,63.7 L566.4,63.7 L566.7,63.7 L567.0,63.7 L567.2,63.7 L567.5,63.7 L567.8,63.7 L568.1,63.7 L568.4,63.7 L568.7,63.7 L569.0,63.7 L569.3,63.7" fill="none" stroke="#000080" stroke-width="1.90" stroke-linejoin="round" stroke-linecap="butt" />
<path d="M505.1,67.6 L505.4,67.7 L505.7,67.8 L505.9,67.9 L506.2,68.0 L506.5,68.0 L506.8,68.1 L507.1,68.2 L507.4,68.3 L507.7,68.4 L508.0,68.5 L508.3,68.5 L508.6,68.6 L508.9,68.7 L509.2,68.8 L509.5,68.9 L509.8,69.0 L510.1,69.0 L510.3,69.1 L510.6,69.2 L510.9,69.3 L511.2,69.4 L511.5,69.5 L511.8,69.5 L512.1,69.6 L512.4,69.7 L512.7,69.8 L513.0,69.9 L513.3,70.0 L513.6,70.0 L513.9,70.1 L514.2,70.2 L514.5,70.3 L514.7,70.4 L515.0,70.5 L515.3,70.5 L515.6,70.6 L515.9,70.7 L516.2,70.8 L516.5,70.9 L516.8,71.0 L517.1,71.0 L517.4,71.1 L517.7,71.2 L518.0,71.3 L518.3,71.4 L518.6,71.5 L518.9,71.5 L519.1,71.6 L519.4,71.7 L519.7,71.8 L520.0,71.9 L520.3,72.0 L520.6,72.0 L520.9,72.1 L521.2,72.2 L521.5,72.3 L521.8,72.4 L522.1,72.5 L522.4,72.5 L522.7,72.6 L523.0,72.7 L523.3,72.8 L523.5,72.9 L523.8,73.0 L524.1,73.0 L524.4,73.1 L524.7,73.2 L525.0,73.3 L525.3,73.4 L525.6,73.5 L525.9,73.5 L526.2,73.6 L526.5,73.7 L526.8,73.8 L527.1,73.9 L527.4,74.0 L527.6,74.1 L527.9,74.2 L528.2,74.3 L528.5,74.4 L528.8,74.5 L529.1,74.6 L529.4,74.8 L529.7,74.9 L530.0,75.1 L530.3,75.3 L530.6,75.5 L530.9,75.7 L531.2,76.0 L531.5,76.4 L531.8,76.7 L532.0,77.2 L532.3,77.6 L532.6,78.1 L532.9,78.7 L533.2,79.3 L533.5,79.9 L533.8,80.6 L534.1,81.3 L534.4,82.0 L534.7,82.8 L535.0,83.5 L535.3,84.3 L535.6,85.0 L535.9,85.8 L536.2,86.6 L536.4,87.4 L536.7,88.2 L537.0,88.9 L537.3,89.7 L537.6,89.3 L537.9,88.5 L538.2,87.7 L538.5,86.9 L538.8,86.2 L539.1,85.4 L539.4,84.6 L539.7,83.8 L540.0,83.0 L540.3,82.3 L540.6,81.5 L540.8,80.8 L541.1,80.1 L541.4,79.4 L541.7,78.7 L542.0,78.0 L542.3,77.4 L542.6,76.9 L542.9,76.3 L543.2,75.8 L543.5,75.4 L543.8,75.0 L544.1,74.7 L544.4,74.3 L544.7,74.1 L545.0,73.9 L545.2,73.7 L545.5,73.5 L545.8,73.3 L546.1,73.2 L546.4,73.0 L546.7,72.9 L547.0,72.8 L547.3,72.7 L547.6,72.6 L547.9,72.5 L548.2,72.4 L548.5,72.3 L548.8,72.2 L549.1,72.2 L549.4,72.1 L549.6,72.0 L549.9,71.9 L550.2,71.8 L550.5,71.7 L550.8,71.6 L551.1,71.5 L551.4,71.5 L551.7,71.4 L552.0,71.3 L552.3,71.2 L552.6,71.1 L552.9,71.0 L553.2,71.0 L553.5,70.9 L553.8,70.8 L554.0,70.7 L554.3,70.6 L554.6,70.5 L554.9,70.5 L555.2,70.4 L555.5,70.3 L555.8,70.2 L556.1,70.1 L556.4,70.0 L556.7,69.9 L557.0,69.9 L557.3,69.8 L557.6,69.7 L557.9,69.6 L558.2,69.5 L558.4,69.4 L558.7,69.4 L559.0,69.3 L559.3,69.2 L559.6,69.1 L559.9,69.0 L560.2,68.9 L560.5,68.8 L560.8,68.8 L561.1,68.7 L561.4,68.6 L561.7,68.5 L562.0,68.4 L562.3,68.3 L562.6,68.3 L562.8,68.2 L563.1,68.1 L563.4,68.0 L563.7,67.9 L564.0,67.8 L564.3,67.8 L564.6,67.7 L564.9,67.6 L565.2,67.5 L565.5,67.4 L565.8,67.3 L566.1,67.2 L566.4,67.2 L566.7,67.1 L567.0,67.0 L567.2,66.9 L567.5,66.8 L567.8,66.7 L568.1,66.7 L568.4,66.6 L568.7,66.5 L569.0,66.4 L569.3,66.3" fill="none" stroke="#0000d6" stroke-width="1.90" stroke-linejoin="round" stroke-linecap="butt" />
<path d="M505.1,70.3 L505.4,70.4 L505.7,70.5 L505.9,70.6 L506.2,70.7 L506.5,70.8 L506.8,70.9 L507.1,71.0 L507.4,71.1 L507.7,71.2 L508.0,71.3 L508.3,71.4 L508.6,71.5 L508.9,71.6 L509.2,71.7 L509.5,71.9 L509.8,72.0 L510.1,72.1 L510.3,72.2 L510.6,72.3 L510.9,72.4 L511.2,72.5 L511.5,72.6 L511.8,72.7 L512.1,72.8 L512.4,72.9 L512.7,73.0 L513.0,73.1 L513.3,73.2 L513.6,73.4 L513.9,73.5 L514.2,73.6 L514.5,73.7 L514.7,73.8 L515.0,73.9 L515.3,74.0 L515.6,74.1 L515.9,74.2 L516.2,74.3 L516.5,74.4 L516.8,74.5 L517.1,74.6 L517.4,74.7 L517.7,74.8 L518.0,75.0 L518.3,75.1 L518.6,75.2 L518.9,75.3 L519.1,75.4 L519.4,75.5 L519.7,75.6 L520.0,75.7 L520.3,75.8 L520.6,75.9 L520.9,76.0 L521.2,76.1 L521.5,76.2 L521.8,76.3 L522.1,76.5 L522.4,76.6 L522.7,76.7 L523.0,76.8 L523.3,76.9 L523.5,77.0 L523.8,77.1 L524.1,77.2 L524.4,77.3 L524.7,77.4 L525.0,77.5 L525.3,77.6 L525.6,77.7 L525.9,77.9 L526.2,78.0 L526.5,78.1 L526.8,78.2 L527.1,78.3 L527.4,78.4 L527.6,78.5 L527.9,78.7 L528.2,78.8 L528.5,79.0 L528.8,79.1 L529.1,79.3 L529.4,79.5 L529.7,79.8 L530.0,80.1 L530.3,80.4 L530.6,80.8 L530.9,81.2 L531.2,81.8 L531.5,82.4 L531.8,83.0 L532.0,83.7 L532.3,84.5 L532.6,85.3 L532.9,86.2 L533.2,87.0 L533.5,87.9 L533.8,88.8 L534.1,89.7 L534.4,90.7 L534.7,91.6 L535.0,92.6 L535.3,93.5 L535.6,94.4 L535.9,95.4 L536.2,96.3 L536.4,97.3 L536.7,98.2 L537.0,99.2 L537.3,100.2 L537.6,99.7 L537.9,98.7 L538.2,97.8 L538.5,96.8 L538.8,95.8 L539.1,94.9 L539.4,93.9 L539.7,93.0 L540.0,92.0 L540.3,91.1 L540.6,90.2 L540.8,89.2 L541.1,88.3 L541.4,87.4 L541.7,86.5 L542.0,85.6 L542.3,84.7 L542.6,83.9 L542.9,83.0 L543.2,82.3 L543.5,81.5 L543.8,80.9 L544.1,80.3 L544.4,79.8 L544.7,79.3 L545.0,78.9 L545.2,78.6 L545.5,78.3 L545.8,78.0 L546.1,77.8 L546.4,77.6 L546.7,77.4 L547.0,77.3 L547.3,77.2 L547.6,77.0 L547.9,76.9 L548.2,76.8 L548.5,76.7 L548.8,76.5 L549.1,76.4 L549.4,76.3 L549.6,76.2 L549.9,76.1 L550.2,76.0 L550.5,75.9 L550.8,75.8 L551.1,75.7 L551.4,75.6 L551.7,75.4 L552.0,75.3 L552.3,75.2 L552.6,75.1 L552.9,75.0 L553.2,74.9 L553.5,74.8 L553.8,74.7 L554.0,74.6 L554.3,74.5 L554.6,74.4 L554.9,74.3 L555.2,74.1 L555.5,74.0 L555.8,73.9 L556.1,73.8 L556.4,73.7 L556.7,73.6 L557.0,73.5 L557.3,73.4 L557.6,73.3 L557.9,73.2 L558.2,73.1 L558.4,73.0 L558.7,72.8 L559.0,72.7 L559.3,72.6 L559.6,72.5 L559.9,72.4 L560.2,72.3 L560.5,72.2 L560.8,72.1 L561.1,72.0 L561.4,71.9 L561.7,71.8 L562.0,71.7 L562.3,71.5 L562.6,71.4 L562.8,71.3 L563.1,71.2 L563.4,71.1 L563.7,71.0 L564.0,70.9 L564.3,70.8 L564.6,70.7 L564.9,70.6 L565.2,70.5 L565.5,70.3 L565.8,70.2 L566.1,70.1 L566.4,70.0 L566.7,69.9 L567.0,69.8 L567.2,69.7 L567.5,69.6 L567.8,69.5 L568.1,69.4 L568.4,69.3 L568.7,69.2 L569.0,69.0 L569.3,68.9" fill="none" stroke="#001cff" stroke-width="1.90" stroke-linejoin="round" stroke-linecap="butt" />
<path d="M505.1,72.9 L505.4,73.0 L505.7,73.1 L505.9,73.2 L506.2,73.3 L506.5,73.5 L506.8,73.6 L507.1,73.7 L507.4,73.8 L507.7,73.9 L508.0,74.1 L508.3,74.2 L508.6,74.3 L508.9,74.4 L509.2,74.5 L509.5,74.7 L509.8,74.8 L510.1,74.9 L510.3,75.0 L510.6,75.1 L510.9,75.2 L511.2,75.4 L511.5,75.5 L511.8,75.6 L512.1,75.7 L512.4,75.8 L512.7,76.0 L513.0,76.1 L513.3,76.2 L513.6,76.3 L513.9,76.4 L514.2,76.6 L514.5,76.7 L514.7,76.8 L515.0,76.9 L515.3,77.0 L515.6,77.1 L515.9,77.3 L516.2,77.4 L516.5,77.5 L516.8,77.6 L517.1,77.7 L517.4,77.9 L517.7,78.0 L518.0,78.1 L518.3,78.2 L518.6,78.3 L518.9,78.5 L519.1,78.6 L519.4,78.7 L519.7,78.8 L520.0,78.9 L520.3,79.0 L520.6,79.2 L520.9,79.3 L521.2,79.4 L521.5,79.5 L521.8,79.6 L522.1,79.8 L522.4,79.9 L522.7,80.0 L523.0,80.1 L523.3,80.2 L523.5,80.4 L523.8,80.5 L524.1,80.6 L524.4,80.7 L524.7,80.8 L525.0,81.0 L525.3,81.1 L525.6,81.2 L525.9,81.3 L526.2,81.4 L526.5,81.6 L526.8,81.7 L527.1,81.8 L527.4,82.0 L527.6,82.2 L527.9,82.3 L528.2,82.5 L528.5,82.8 L528.8,83.0 L529.1,83.3 L529.4,83.7 L529.7,84.2 L530.0,84.7 L530.3,85.3 L530.6,86.0 L530.9,86.8 L531.2,87.6 L531.5,88.5 L531.8,89.5 L532.0,90.4 L532.3,91.4 L532.6,92.4 L532.9,93.5 L533.2,94.5 L533.5,95.6 L533.8,96.6 L534.1,97.7 L534.4,98.7 L534.7,99.8 L535.0,100.8 L535.3,101.9 L535.6,102.9 L535.9,104.0 L536.2,105.1 L536.4,106.1 L536.7,107.2 L537.0,108.2 L537.3,109.3 L537.6,108.7 L537.9,107.7 L538.2,106.6 L538.5,105.6 L538.8,104.5 L539.1,103.4 L539.4,102.4 L539.7,101.3 L540.0,100.3 L540.3,99.2 L540.6,98.2 L540.8,97.1 L541.1,96.0 L541.4,95.0 L541.7,93.9 L542.0,92.9 L542.3,91.9 L542.6,90.8 L542.9,89.8 L543.2,88.8 L543.5,87.9 L543.8,86.9 L544.1,86.0 L544.4,85.2 L544.7,84.4 L545.0,83.7 L545.2,83.1 L545.5,82.6 L545.8,82.2 L546.1,81.8 L546.4,81.5 L546.7,81.2 L547.0,81.0 L547.3,80.8 L547.6,80.6 L547.9,80.4 L548.2,80.3 L548.5,80.2 L548.8,80.0 L549.1,79.9 L549.4,79.8 L549.6,79.6 L549.9,79.5 L550.2,79.4 L550.5,79.3 L550.8,79.2 L551.1,79.0 L551.4,78.9 L551.7,78.8 L552.0,78.7 L552.3,78.5 L552.6,78.4 L552.9,78.3 L553.2,78.2 L553.5,78.1 L553.8,77.9 L554.0,77.8 L554.3,77.7 L554.6,77.6 L554.9,77.5 L555.2,77.3 L555.5,77.2 L555.8,77.1 L556.1,77.0 L556.4,76.9 L556.7,76.7 L557.0,76.6 L557.3,76.5 L557.6,76.4 L557.9,76.3 L558.2,76.1 L558.4,76.0 L558.7,75.9 L559.0,75.8 L559.3,75.7 L559.6,75.5 L559.9,75.4 L560.2,75.3 L560.5,75.2 L560.8,75.1 L561.1,74.9 L561.4,74.8 L561.7,74.7 L562.0,74.6 L562.3,74.5 L562.6,74.3 L562.8,74.2 L563.1,74.1 L563.4,74.0 L563.7,73.8 L564.0,73.7 L564.3,73.6 L564.6,73.5 L564.9,73.4 L565.2,73.2 L565.5,73.1 L565.8,73.0 L566.1,72.9 L566.4,72.8 L566.7,72.6 L567.0,72.5 L567.2,72.4 L567.5,72.3 L567.8,72.2 L568.1,72.0 L568.4,71.9 L568.7,71.8 L569.0,71.7 L569.3,71.6" fill="none" stroke="#006cff" stroke-width="1.90" stroke-linejoin="round" stroke-linecap="butt" />
<path d="M505.1,89.9 L505.4,89.8 L505.7,89.7 L505.9,89.7 L506.2,89.6 L506.5,89.5 L506.8,89.4 L507.1,89.3 L507.4,89.2 L507.7,89.1 L508.0,89.0 L508.3,88.9 L508.6,88.7 L508.9,88.6 L509.2,88.5 L509.5,88.4 L509.8,88.2 L510.1,88.1 L510.3,88.0 L510.6,87.8 L510.9,87.7 L511.2,87.5 L511.5,87.4 L511.8,87.2 L512.1,87.0 L512.4,86.9 L512.7,86.7 L513.0,86.6 L513.3,86.4 L513.6,86.2 L513.9,86.0 L514.2,85.9 L514.5,85.7 L514.7,85.5 L515.0,85.3 L515.3,85.1 L515.6,84.9 L515.9,84.8 L516.2,84.6 L516.5,84.4 L516.8,84.2 L517.1,84.0 L517.4,83.8 L517.7,83.6 L518.0,83.5 L518.3,83.3 L518.6,83.1 L518.9,82.9 L519.1,82.7 L519.4,82.6 L519.7,82.4 L520.0,82.2 L520.3,82.1 L520.6,81.9 L520.9,81.7 L521.2,81.6 L521.5,81.5 L521.8,81.3 L522.1,81.2 L522.4,81.0 L522.7,80.9 L523.0,80.8 L523.3,80.7 L523.5,80.6 L523.8,80.5 L524.1,80.4 L524.4,80.3 L524.7,80.3 L525.0,80.2 L525.3,80.1 L525.6,80.1 L525.9,80.0 L526.2,80.0 L526.5,80.0 L526.8,80.0 L527.1,79.9 L527.4,79.9 L527.6,80.0 L527.9,80.0 L528.2,80.0 L528.5,80.0 L528.8,80.1 L529.1,80.1 L529.4,80.2 L529.7,80.2 L530.0,80.3 L530.3,80.4 L530.6,80.5 L530.9,80.6 L531.2,80.7 L531.5,80.9 L531.8,81.0 L532.0,81.2 L532.3,81.4 L532.6,81.7 L532.9,82.0 L533.2,82.4 L533.5,83.0 L533.8,83.7 L534.1,84.6 L534.4,85.7 L534.7,86.9 L535.0,88.4 L535.3,90.1 L535.6,91.8 L535.9,93.7 L536.2,95.7 L536.4,97.7 L536.7,99.7 L537.0,101.8 L537.3,103.9 L537.6,102.7 L537.9,100.6 L538.2,98.5 L538.5,96.5 L538.8,94.4 L539.1,92.4 L539.4,90.4 L539.7,88.5 L540.0,86.8 L540.3,85.1 L540.6,83.7 L540.8,82.5 L541.1,81.5 L541.4,80.7 L541.7,80.2 L542.0,79.8 L542.3,79.5 L542.6,79.3 L542.9,79.2 L543.2,79.1 L543.5,79.1 L543.8,79.0 L544.1,79.0 L544.4,79.0 L544.7,79.0 L545.0,78.9 L545.2,78.9 L545.5,78.9 L545.8,78.9 L546.1,78.9 L546.4,78.9 L546.7,78.9 L547.0,78.9 L547.3,78.9 L547.6,78.9 L547.9,78.9 L548.2,78.9 L548.5,78.9 L548.8,78.9 L549.1,78.9 L549.4,78.9 L549.6,78.9 L549.9,78.9 L550.2,78.9 L550.5,78.9 L550.8,78.9 L551.1,78.9 L551.4,78.9 L551.7,78.9 L552.0,78.9 L552.3,78.9 L552.6,78.9 L552.9,78.9 L553.2,78.9 L553.5,78.9 L553.8,79.0 L554.0,79.0 L554.3,79.0 L554.6,79.0 L554.9,79.0 L555.2,79.0 L555.5,79.0 L555.8,79.0 L556.1,79.0 L556.4,79.0 L556.7,79.0 L557.0,79.0 L557.3,79.1 L557.6,79.1 L557.9,79.1 L558.2,79.1 L558.4,79.1 L558.7,79.1 L559.0,79.1 L559.3,79.1 L559.6,79.1 L559.9,79.1 L560.2,79.2 L560.5,79.2 L560.8,79.2 L561.1,79.2 L561.4,79.2 L561.7,79.2 L562.0,79.2 L562.3,79.2 L562.6,79.2 L562.8,79.3 L563.1,79.3 L563.4,79.3 L563.7,79.3 L564.0,79.3 L564.3,79.3 L564.6,79.3 L564.9,79.3 L565.2,79.3 L565.5,79.3 L565.8,79.3 L566.1,79.3 L566.4,79.4 L566.7,79.4 L567.0,79.4 L567.2,79.4 L567.5,79.4 L567.8,79.4 L568.1,79.4 L568.4,79.4 L568.7,79.4 L569.0,79.4 L569.3,79.4" fill="none" stroke="#00b8ff" stroke-width="1.90" stroke-linejoin="round" stroke-linecap="butt" />
<path d="M505.1,96.5 L505.4,96.4 L505.7,96.3 L505.9,96.2 L506.2,96.1 L506.5,96.0 L506.8,95.9 L507.1,95.8 L507.4,95.7 L507.7,95.6 L508.0,95.5 L508.3,95.3 L508.6,95.2 L508.9,95.1 L509.2,95.0 L509.5,94.8 L509.8,94.7 L510.1,94.5 L510.3,94.4 L510.6,94.2 L510.9,94.1 L511.2,93.9 L511.5,93.7 L511.8,93.6 L512.1,93.4 L512.4,93.2 L512.7,93.0 L513.0,92.8 L513.3,92.6 L513.6,92.4 L513.9,92.2 L514.2,92.0 L514.5,91.8 L514.7,91.6 L515.0,91.4 L515.3,91.2 L515.6,91.0 L515.9,90.8 L516.2,90.6 L516.5,90.4 L516.8,90.1 L517.1,89.9 L517.4,89.7 L517.7,89.5 L518.0,89.3 L518.3,89.1 L518.6,88.8 L518.9,88.6 L519.1,88.4 L519.4,88.2 L519.7,88.0 L520.0,87.8 L520.3,87.6 L520.6,87.4 L520.9,87.2 L521.2,87.0 L521.5,86.8 L521.8,86.7 L522.1,86.5 L522.4,86.3 L522.7,86.2 L523.0,86.0 L523.3,85.9 L523.5,85.7 L523.8,85.6 L524.1,85.5 L524.4,85.4 L524.7,85.2 L525.0,85.1 L525.3,85.1 L525.6,85.0 L525.9,84.9 L526.2,84.8 L526.5,84.8 L526.8,84.7 L527.1,84.7 L527.4,84.7 L527.6,84.7 L527.9,84.7 L528.2,84.7 L528.5,84.7 L528.8,84.7 L529.1,84.7 L529.4,84.8 L529.7,84.8 L530.0,84.9 L530.3,85.0 L530.6,85.0 L530.9,85.1 L531.2,85.2 L531.5,85.4 L531.8,85.5 L532.0,85.7 L532.3,85.9 L532.6,86.1 L532.9,86.5 L533.2,87.0 L533.5,87.6 L533.8,88.5 L534.1,89.7 L534.4,91.3 L534.7,93.1 L535.0,95.2 L535.3,97.5 L535.6,99.9 L535.9,102.4 L536.2,105.0 L536.4,107.6 L536.7,110.2 L537.0,112.8 L537.3,115.5 L537.6,114.1 L537.9,111.5 L538.2,108.8 L538.5,106.2 L538.8,103.6 L539.1,101.0 L539.4,98.5 L539.7,96.0 L540.0,93.7 L540.3,91.5 L540.6,89.6 L540.8,88.0 L541.1,86.8 L541.4,85.9 L541.7,85.2 L542.0,84.8 L542.3,84.5 L542.6,84.3 L542.9,84.2 L543.2,84.1 L543.5,84.0 L543.8,83.9 L544.1,83.8 L544.4,83.8 L544.7,83.7 L545.0,83.7 L545.2,83.6 L545.5,83.6 L545.8,83.6 L546.1,83.5 L546.4,83.5 L546.7,83.5 L547.0,83.4 L547.3,83.4 L547.6,83.4 L547.9,83.4 L548.2,83.4 L548.5,83.4 L548.8,83.4 L549.1,83.4 L549.4,83.4 L549.6,83.4 L549.9,83.4 L550.2,83.4 L550.5,83.4 L550.8,83.4 L551.1,83.4 L551.4,83.5 L551.7,83.5 L552.0,83.5 L552.3,83.6 L552.6,83.6 L552.9,83.6 L553.2,83.7 L553.5,83.7 L553.8,83.8 L554.0,83.8 L554.3,83.9 L554.6,84.0 L554.9,84.0 L555.2,84.1 L555.5,84.1 L555.8,84.2 L556.1,84.3 L556.4,84.3 L556.7,84.4 L557.0,84.5 L557.3,84.6 L557.6,84.6 L557.9,84.7 L558.2,84.8 L558.4,84.9 L558.7,84.9 L559.0,85.0 L559.3,85.1 L559.6,85.2 L559.9,85.3 L560.2,85.3 L560.5,85.4 L560.8,85.5 L561.1,85.6 L561.4,85.6 L561.7,85.7 L562.0,85.8 L562.3,85.9 L562.6,85.9 L562.8,86.0 L563.1,86.1 L563.4,86.2 L563.7,86.2 L564.0,86.3 L564.3,86.4 L564.6,86.4 L564.9,86.5 L565.2,86.6 L565.5,86.6 L565.8,86.7 L566.1,86.7 L566.4,86.8 L566.7,86.8 L567.0,86.9 L567.2,87.0 L567.5,87.0 L567.8,87.1 L568.1,87.1 L568.4,87.1 L568.7,87.2 L569.0,87.2 L569.3,87.3" fill="none" stroke="#1cffdb" stroke-width="1.90" stroke-linejoin="round" stroke-linecap="butt" />
<path d="M505.1,97.8 L505.4,97.6 L505.7,97.5 L505.9,97.4 L506.2,97.3 L506.5,97.1 L506.8,97.0 L507.1,96.8 L507.4,96.6 L507.7,96.5 L508.0,96.3 L508.3,96.1 L508.6,95.9 L508.9,95.7 L509.2,95.5 L509.5,95.3 L509.8,95.1 L510.1,94.9 L510.3,94.7 L510.6,94.4 L510.9,94.2 L511.2,93.9 L511.5,93.7 L511.8,93.4 L512.1,93.1 L512.4,92.8 L512.7,92.6 L513.0,92.3 L513.3,92.0 L513.6,91.7 L513.9,91.3 L514.2,91.0 L514.5,90.7 L514.7,90.4 L515.0,90.0 L515.3,89.7 L515.6,89.4 L515.9,89.0 L516.2,88.7 L516.5,88.3 L516.8,88.0 L517.1,87.6 L517.4,87.3 L517.7,86.9 L518.0,86.6 L518.3,86.2 L518.6,85.8 L518.9,85.5 L519.1,85.1 L519.4,84.8 L519.7,84.4 L520.0,84.1 L520.3,83.8 L520.6,83.4 L520.9,83.1 L521.2,82.8 L521.5,82.4 L521.8,82.1 L522.1,81.8 L522.4,81.5 L522.7,81.3 L523.0,81.0 L523.3,80.7 L523.5,80.4 L523.8,80.2 L524.1,80.0 L524.4,79.7 L524.7,79.5 L525.0,79.3 L525.3,79.2 L525.6,79.0 L525.9,78.8 L526.2,78.7 L526.5,78.6 L526.8,78.5 L527.1,78.4 L527.4,78.3 L527.6,78.2 L527.9,78.2 L528.2,78.1 L528.5,78.1 L528.8,78.1 L529.1,78.1 L529.4,78.2 L529.7,78.2 L530.0,78.3 L530.3,78.4 L530.6,78.5 L530.9,78.6 L531.2,78.8 L531.5,79.1 L531.8,79.5 L532.0,80.2 L532.3,81.1 L532.6,82.5 L532.9,84.3 L533.2,86.6 L533.5,89.2 L533.8,92.0 L534.1,95.0 L534.4,98.1 L534.7,101.2 L535.0,104.3 L535.3,107.5 L535.6,110.7 L535.9,113.8 L536.2,117.0 L536.4,120.2 L536.7,123.4 L537.0,126.6 L537.3,129.7 L537.6,128.1 L537.9,124.9 L538.2,121.7 L538.5,118.6 L538.8,115.4 L539.1,112.2 L539.4,109.0 L539.7,105.9 L540.0,102.7 L540.3,99.6 L540.6,96.5 L540.8,93.5 L541.1,90.7 L541.4,88.1 L541.7,85.9 L542.0,84.2 L542.3,82.9 L542.6,82.0 L542.9,81.4 L543.2,81.0 L543.5,80.7 L543.8,80.5 L544.1,80.4 L544.4,80.2 L544.7,80.1 L545.0,80.0 L545.2,79.9 L545.5,79.8 L545.8,79.7 L546.1,79.7 L546.4,79.6 L546.7,79.5 L547.0,79.5 L547.3,79.5 L547.6,79.4 L547.9,79.4 L548.2,79.4 L548.5,79.4 L548.8,79.4 L549.1,79.5 L549.4,79.5 L549.6,79.5 L549.9,79.6 L550.2,79.6 L550.5,79.7 L550.8,79.8 L551.1,79.8 L551.4,79.9 L551.7,80.0 L552.0,80.1 L552.3,80.2 L552.6,80.4 L552.9,80.5 L553.2,80.6 L553.5,80.8 L553.8,80.9 L554.0,81.1 L554.3,81.2 L554.6,81.4 L554.9,81.6 L555.2,81.7 L555.5,81.9 L555.8,82.1 L556.1,82.3 L556.4,82.5 L556.7,82.7 L557.0,82.9 L557.3,83.0 L557.6,83.2 L557.9,83.4 L558.2,83.6 L558.4,83.9 L558.7,84.1 L559.0,84.3 L559.3,84.5 L559.6,84.7 L559.9,84.9 L560.2,85.1 L560.5,85.3 L560.8,85.5 L561.1,85.7 L561.4,85.9 L561.7,86.1 L562.0,86.2 L562.3,86.4 L562.6,86.6 L562.8,86.8 L563.1,87.0 L563.4,87.2 L563.7,87.3 L564.0,87.5 L564.3,87.7 L564.6,87.8 L564.9,88.0 L565.2,88.1 L565.5,88.3 L565.8,88.4 L566.1,88.6 L566.4,88.7 L566.7,88.9 L567.0,89.0 L567.2,89.1 L567.5,89.2 L567.8,89.4 L568.1,89.5 L568.4,89.6 L568.7,89.7 L569.0,89.8 L569.3,89.9" fill="none" stroke="#5dff9a" stroke-width="1.90" stroke-linejoin="round" stroke-linecap="butt" />
<path d="M505.1,96.5 L505.4,96.3 L505.7,96.1 L505.9,95.9 L506.2,95.7 L506.5,95.5 L506.8,95.2 L507.1,95.0 L507.4,94.7 L507.7,94.5 L508.0,94.2 L508.3,93.9 L508.6,93.6 L508.9,93.3 L509.2,93.0 L509.5,92.6 L509.8,92.2 L510.1,91.9 L510.3,91.5 L510.6,91.1 L510.9,90.7 L511.2,90.2 L511.5,89.8 L511.8,89.3 L512.1,88.8 L512.4,88.3 L512.7,87.8 L513.0,87.3 L513.3,86.8 L513.6,86.2 L513.9,85.6 L514.2,85.0 L514.5,84.4 L514.7,83.8 L515.0,83.2 L515.3,82.6 L515.6,81.9 L515.9,81.2 L516.2,80.5 L516.5,79.8 L516.8,79.1 L517.1,78.4 L517.4,77.7 L517.7,77.0 L518.0,76.2 L518.3,75.5 L518.6,74.7 L518.9,74.0 L519.1,73.2 L519.4,72.4 L519.7,71.6 L520.0,70.9 L520.3,70.1 L520.6,69.3 L520.9,68.5 L521.2,67.8 L521.5,67.0 L521.8,66.2 L522.1,65.5 L522.4,64.8 L522.7,64.0 L523.0,63.3 L523.3,62.6 L523.5,61.9 L523.8,61.2 L524.1,60.5 L524.4,59.9 L524.7,59.3 L525.0,58.6 L525.3,58.1 L525.6,57.5 L525.9,56.9 L526.2,56.4 L526.5,55.9 L526.8,55.5 L527.1,55.0 L527.4,54.6 L527.6,54.2 L527.9,53.9 L528.2,53.6 L528.5,53.3 L528.8,53.0 L529.1,52.8 L529.4,52.6 L529.7,52.4 L530.0,52.3 L530.3,52.2 L530.6,52.2 L530.9,52.2 L531.2,52.2 L531.5,52.2 L531.8,52.3 L532.0,52.5 L532.3,52.6 L532.6,52.8 L532.9,53.0 L533.2,53.3 L533.5,53.7 L533.8,54.1 L534.1,54.7 L534.4,55.6 L534.7,57.0 L535.0,59.2 L535.3,62.0 L535.6,65.5 L535.9,69.3 L536.2,73.4 L536.4,77.5 L536.7,81.7 L537.0,86.0 L537.3,90.2 L537.6,88.0 L537.9,83.8 L538.2,79.6 L538.5,75.4 L538.8,71.2 L539.1,67.2 L539.4,63.5 L539.7,60.1 L540.0,57.4 L540.3,55.4 L540.6,54.1 L540.8,53.2 L541.1,52.6 L541.4,52.1 L541.7,51.6 L542.0,51.3 L542.3,50.9 L542.6,50.6 L542.9,50.4 L543.2,50.1 L543.5,49.9 L543.8,49.7 L544.1,49.6 L544.4,49.5 L544.7,49.4 L545.0,49.3 L545.2,49.3 L545.5,49.3 L545.8,49.3 L546.1,49.4 L546.4,49.5 L546.7,49.6 L547.0,49.8 L547.3,49.9 L547.6,50.2 L547.9,50.4 L548.2,50.7 L548.5,51.0 L548.8,51.3 L549.1,51.7 L549.4,52.0 L549.6,52.4 L549.9,52.9 L550.2,53.3 L550.5,53.8 L550.8,54.3 L551.1,54.8 L551.4,55.3 L551.7,55.9 L552.0,56.4 L552.3,57.0 L552.6,57.6 L552.9,58.2 L553.2,58.9 L553.5,59.5 L553.8,60.1 L554.0,60.8 L554.3,61.5 L554.6,62.1 L554.9,62.8 L555.2,63.5 L555.5,64.2 L555.8,64.8 L556.1,65.5 L556.4,66.2 L556.7,66.9 L557.0,67.6 L557.3,68.3 L557.6,68.9 L557.9,69.6 L558.2,70.3 L558.4,70.9 L558.7,71.6 L559.0,72.2 L559.3,72.9 L559.6,73.5 L559.9,74.1 L560.2,74.7 L560.5,75.3 L560.8,75.9 L561.1,76.5 L561.4,77.0 L561.7,77.6 L562.0,78.1 L562.3,78.7 L562.6,79.2 L562.8,79.7 L563.1,80.2 L563.4,80.6 L563.7,81.1 L564.0,81.5 L564.3,82.0 L564.6,82.4 L564.9,82.8 L565.2,83.2 L565.5,83.5 L565.8,83.9 L566.1,84.3 L566.4,84.6 L566.7,84.9 L567.0,85.2 L567.2,85.5 L567.5,85.8 L567.8,86.1 L568.1,86.3 L568.4,86.6 L568.7,86.8 L569.0,87.1 L569.3,87.3" fill="none" stroke="#9aff5d" stroke-width="1.90" stroke-linejoin="round" stroke-linecap="butt" />
<path d="M505.1,100.1 L505.4,100.0 L505.7,99.8 L505.9,99.7 L506.2,99.5 L506.5,99.4 L506.8,99.2 L507.1,99.0 L507.4,98.8 L507.7,98.6 L508.0,98.4 L508.3,98.2 L508.6,98.0 L508.9,97.7 L509.2,97.5 L509.5,97.2 L509.8,96.9 L510.1,96.7 L510.3,96.4 L510.6,96.1 L510.9,95.8 L511.2,95.5 L511.5,95.1 L511.8,94.8 L512.1,94.4 L512.4,94.1 L512.7,93.7 L513.0,93.3 L513.3,92.9 L513.6,92.5 L513.9,92.1 L514.2,91.7 L514.5,91.3 L514.7,90.8 L515.0,90.4 L515.3,89.9 L515.6,89.5 L515.9,89.0 L516.2,88.5 L516.5,88.0 L516.8,87.5 L517.1,87.0 L517.4,86.5 L517.7,86.0 L518.0,85.5 L518.3,85.0 L518.6,84.5 L518.9,83.9 L519.1,83.4 L519.4,82.9 L519.7,82.4 L520.0,81.8 L520.3,81.3 L520.6,80.8 L520.9,80.3 L521.2,79.8 L521.5,79.3 L521.8,78.8 L522.1,78.3 L522.4,77.8 L522.7,77.3 L523.0,76.9 L523.3,76.4 L523.5,76.0 L523.8,75.5 L524.1,75.1 L524.4,74.7 L524.7,74.3 L525.0,73.9 L525.3,73.6 L525.6,73.2 L525.9,72.9 L526.2,72.6 L526.5,72.3 L526.8,72.0 L527.1,71.8 L527.4,71.6 L527.6,71.4 L527.9,71.2 L528.2,71.0 L528.5,70.9 L528.8,70.8 L529.1,70.7 L529.4,70.6 L529.7,70.6 L530.0,70.8 L530.3,71.0 L530.6,71.6 L530.9,72.6 L531.2,74.3 L531.5,76.7 L531.8,79.6 L532.0,82.9 L532.3,86.4 L532.6,90.0 L532.9,93.7 L533.2,97.3 L533.5,101.0 L533.8,104.8 L534.1,108.5 L534.4,112.2 L534.7,115.9 L535.0,119.6 L535.3,123.3 L535.6,127.0 L535.9,130.7 L536.2,134.4 L536.4,138.1 L536.7,141.8 L537.0,145.6 L537.3,149.3 L537.6,147.3 L537.9,143.6 L538.2,139.9 L538.5,136.2 L538.8,132.5 L539.1,128.8 L539.4,125.1 L539.7,121.4 L540.0,117.7 L540.3,114.0 L540.6,110.3 L540.8,106.6 L541.1,102.9 L541.4,99.2 L541.7,95.5 L542.0,91.9 L542.3,88.5 L542.6,85.2 L542.9,82.3 L543.2,80.0 L543.5,78.3 L543.8,77.1 L544.1,76.4 L544.4,75.9 L544.7,75.6 L545.0,75.3 L545.2,75.2 L545.5,75.0 L545.8,74.9 L546.1,74.7 L546.4,74.7 L546.7,74.6 L547.0,74.5 L547.3,74.5 L547.6,74.4 L547.9,74.4 L548.2,74.5 L548.5,74.5 L548.8,74.5 L549.1,74.6 L549.4,74.7 L549.6,74.8 L549.9,74.9 L550.2,75.0 L550.5,75.2 L550.8,75.3 L551.1,75.5 L551.4,75.7 L551.7,75.9 L552.0,76.2 L552.3,76.4 L552.6,76.7 L552.9,76.9 L553.2,77.2 L553.5,77.5 L553.8,77.8 L554.0,78.1 L554.3,78.4 L554.6,78.8 L554.9,79.1 L555.2,79.5 L555.5,79.8 L555.8,80.2 L556.1,80.6 L556.4,80.9 L556.7,81.3 L557.0,81.7 L557.3,82.1 L557.6,82.5 L557.9,82.9 L558.2,83.3 L558.4,83.7 L558.7,84.1 L559.0,84.5 L559.3,84.9 L559.6,85.2 L559.9,85.6 L560.2,86.0 L560.5,86.4 L560.8,86.8 L561.1,87.2 L561.4,87.6 L561.7,87.9 L562.0,88.3 L562.3,88.6 L562.6,89.0 L562.8,89.4 L563.1,89.7 L563.4,90.0 L563.7,90.4 L564.0,90.7 L564.3,91.0 L564.6,91.3 L564.9,91.6 L565.2,91.9 L565.5,92.2 L565.8,92.4 L566.1,92.7 L566.4,93.0 L566.7,93.2 L567.0,93.5 L567.2,93.7 L567.5,93.9 L567.8,94.2 L568.1,94.4 L568.4,94.6 L568.7,94.8 L569.0,95.0 L569.3,95.1" fill="none" stroke="#dbff1c" stroke-width="1.90" stroke-linejoin="round" stroke-linecap="butt" />
<path d="M505.1,116.1 L505.4,115.7 L505.7,115.4 L505.9,115.0 L506.2,114.6 L506.5,114.2 L506.8,113.7 L507.1,113.2 L507.4,112.7 L507.7,112.2 L508.0,111.7 L508.3,111.1 L508.6,110.5 L508.9,109.9 L509.2,109.3 L509.5,108.6 L509.8,108.0 L510.1,107.2 L510.3,106.5 L510.6,105.7 L510.9,105.0 L511.2,104.1 L511.5,103.3 L511.8,102.4 L512.1,101.5 L512.4,100.6 L512.7,99.6 L513.0,98.7 L513.3,97.7 L513.6,96.6 L513.9,95.6 L514.2,94.5 L514.5,93.4 L514.7,92.3 L515.0,91.1 L515.3,89.9 L515.6,88.7 L515.9,87.5 L516.2,86.3 L516.5,85.0 L516.8,83.8 L517.1,82.5 L517.4,81.2 L517.7,79.9 L518.0,78.6 L518.3,77.3 L518.6,75.9 L518.9,74.6 L519.1,73.2 L519.4,71.9 L519.7,70.5 L520.0,69.2 L520.3,67.9 L520.6,66.5 L520.9,65.2 L521.2,63.9 L521.5,62.6 L521.8,61.3 L522.1,60.1 L522.4,58.8 L522.7,57.6 L523.0,56.4 L523.3,55.2 L523.5,54.1 L523.8,53.0 L524.1,51.9 L524.4,50.9 L524.7,49.8 L525.0,48.9 L525.3,48.0 L525.6,47.1 L525.9,46.2 L526.2,45.5 L526.5,44.7 L526.8,44.0 L527.1,43.4 L527.4,42.8 L527.6,42.3 L527.9,41.8 L528.2,41.4 L528.5,41.0 L528.8,40.7 L529.1,40.5 L529.4,40.3 L529.7,40.2 L530.0,40.2 L530.3,40.4 L530.6,40.9 L530.9,41.9 L531.2,43.8 L531.5,46.7 L531.8,50.3 L532.0,54.4 L532.3,58.7 L532.6,63.2 L532.9,67.6 L533.2,72.1 L533.5,76.6 L533.8,81.1 L534.1,85.6 L534.4,90.1 L534.7,94.6 L535.0,99.1 L535.3,103.7 L535.6,108.2 L535.9,112.7 L536.2,117.2 L536.4,121.7 L536.7,126.2 L537.0,130.7 L537.3,135.2 L537.6,132.9 L537.9,128.4 L538.2,123.8 L538.5,119.3 L538.8,114.8 L539.1,110.3 L539.4,105.8 L539.7,101.3 L540.0,96.8 L540.3,92.3 L540.6,87.8 L540.8,83.4 L541.1,78.9 L541.4,74.6 L541.7,70.3 L542.0,66.4 L542.3,63.0 L542.6,60.3 L542.9,58.4 L543.2,57.1 L543.5,56.1 L543.8,55.3 L544.1,54.7 L544.4,54.2 L544.7,53.6 L545.0,53.2 L545.2,52.7 L545.5,52.4 L545.8,52.0 L546.1,51.7 L546.4,51.4 L546.7,51.2 L547.0,51.0 L547.3,50.8 L547.6,50.7 L547.9,50.6 L548.2,50.6 L548.5,50.6 L548.8,50.7 L549.1,50.7 L549.4,50.9 L549.6,51.0 L549.9,51.3 L550.2,51.5 L550.5,51.8 L550.8,52.1 L551.1,52.5 L551.4,52.9 L551.7,53.3 L552.0,53.8 L552.3,54.3 L552.6,54.9 L552.9,55.4 L553.2,56.0 L553.5,56.7 L553.8,57.3 L554.0,58.0 L554.3,58.7 L554.6,59.5 L554.9,60.2 L555.2,61.0 L555.5,61.8 L555.8,62.6 L556.1,63.5 L556.4,64.3 L556.7,65.2 L557.0,66.0 L557.3,66.9 L557.6,67.8 L557.9,68.7 L558.2,69.6 L558.4,70.5 L558.7,71.5 L559.0,72.4 L559.3,73.3 L559.6,74.2 L559.9,75.1 L560.2,76.0 L560.5,76.9 L560.8,77.8 L561.1,78.7 L561.4,79.6 L561.7,80.5 L562.0,81.3 L562.3,82.2 L562.6,83.0 L562.8,83.8 L563.1,84.6 L563.4,85.4 L563.7,86.2 L564.0,87.0 L564.3,87.7 L564.6,88.5 L564.9,89.2 L565.2,89.9 L565.5,90.6 L565.8,91.2 L566.1,91.9 L566.4,92.5 L566.7,93.1 L567.0,93.7 L567.2,94.3 L567.5,94.8 L567.8,95.4 L568.1,95.9 L568.4,96.4 L568.7,96.8 L569.0,97.3 L569.3,97.8" fill="none" stroke="#ffcc00" stroke-width="1.90" stroke-linejoin="round" stroke-linecap="butt" />
<path d="M505.1,114.8 L505.4,114.4 L505.7,114.0 L505.9,113.6 L506.2,113.1 L506.5,112.7 L506.8,112.2 L507.1,111.7 L507.4,111.1 L507.7,110.6 L508.0,110.0 L508.3,109.4 L508.6,108.8 L508.9,108.1 L509.2,107.4 L509.5,106.7 L509.8,105.9 L510.1,105.2 L510.3,104.4 L510.6,103.5 L510.9,102.7 L511.2,101.8 L511.5,100.9 L511.8,99.9 L512.1,99.0 L512.4,97.9 L512.7,96.9 L513.0,95.9 L513.3,94.8 L513.6,93.6 L513.9,92.5 L514.2,91.3 L514.5,90.1 L514.7,88.9 L515.0,87.6 L515.3,86.4 L515.6,85.1 L515.9,83.8 L516.2,82.4 L516.5,81.1 L516.8,79.7 L517.1,78.3 L517.4,76.9 L517.7,75.5 L518.0,74.0 L518.3,72.6 L518.6,71.1 L518.9,69.7 L519.1,68.2 L519.4,66.8 L519.7,65.3 L520.0,63.9 L520.3,62.4 L520.6,61.0 L520.9,59.5 L521.2,58.1 L521.5,56.7 L521.8,55.3 L522.1,53.9 L522.4,52.6 L522.7,51.2 L523.0,49.9 L523.3,48.7 L523.5,47.4 L523.8,46.2 L524.1,45.1 L524.4,43.9 L524.7,42.8 L525.0,41.8 L525.3,40.8 L525.6,39.8 L525.9,38.9 L526.2,38.1 L526.5,37.3 L526.8,36.5 L527.1,35.8 L527.4,35.2 L527.6,34.6 L527.9,34.1 L528.2,33.6 L528.5,33.3 L528.8,32.9 L529.1,32.7 L529.4,32.5 L529.7,32.4 L530.0,32.3 L530.3,32.4 L530.6,32.6 L530.9,33.2 L531.2,34.2 L531.5,36.1 L531.8,38.9 L532.0,42.6 L532.3,46.6 L532.6,50.9 L532.9,55.4 L533.2,59.8 L533.5,64.3 L533.8,68.8 L534.1,73.3 L534.4,77.8 L534.7,82.3 L535.0,86.8 L535.3,91.3 L535.6,95.8 L535.9,100.3 L536.2,104.9 L536.4,109.4 L536.7,113.9 L537.0,118.4 L537.3,122.9 L537.6,120.5 L537.9,116.0 L538.2,111.5 L538.5,107.0 L538.8,102.5 L539.1,98.0 L539.4,93.5 L539.7,89.0 L540.0,84.5 L540.3,80.0 L540.6,75.5 L540.8,71.0 L541.1,66.5 L541.4,62.0 L541.7,57.5 L542.0,53.1 L542.3,48.8 L542.6,44.8 L542.9,41.2 L543.2,38.5 L543.5,36.7 L543.8,35.7 L544.1,35.2 L544.4,35.0 L544.7,34.9 L545.0,34.9 L545.2,35.0 L545.5,35.1 L545.8,35.3 L546.1,35.5 L546.4,35.8 L546.7,36.1 L547.0,36.5 L547.3,36.9 L547.6,37.3 L547.9,37.8 L548.2,38.4 L548.5,38.9 L548.8,39.6 L549.1,40.2 L549.4,40.9 L549.6,41.7 L549.9,42.4 L550.2,43.2 L550.5,44.1 L550.8,44.9 L551.1,45.8 L551.4,46.8 L551.7,47.7 L552.0,48.7 L552.3,49.7 L552.6,50.7 L552.9,51.7 L553.2,52.7 L553.5,53.8 L553.8,54.8 L554.0,55.9 L554.3,57.0 L554.6,58.1 L554.9,59.2 L555.2,60.3 L555.5,61.4 L555.8,62.5 L556.1,63.6 L556.4,64.7 L556.7,65.7 L557.0,66.8 L557.3,67.9 L557.6,69.0 L557.9,70.0 L558.2,71.0 L558.4,72.1 L558.7,73.1 L559.0,74.1 L559.3,75.1 L559.6,76.0 L559.9,77.0 L560.2,77.9 L560.5,78.8 L560.8,79.7 L561.1,80.6 L561.4,81.4 L561.7,82.3 L562.0,83.1 L562.3,83.9 L562.6,84.6 L562.8,85.4 L563.1,86.1 L563.4,86.8 L563.7,87.5 L564.0,88.1 L564.3,88.8 L564.6,89.4 L564.9,90.0 L565.2,90.5 L565.5,91.1 L565.8,91.6 L566.1,92.1 L566.4,92.6 L566.7,93.1 L567.0,93.5 L567.2,93.9 L567.5,94.4 L567.8,94.7 L568.1,95.1 L568.4,95.5 L568.7,95.8 L569.0,96.1 L569.3,96.5" fill="none" stroke="#ff8600" stroke-width="1.90" stroke-linejoin="round" stroke-linecap="butt" />
<path d="M505.1,112.2 L505.4,111.6 L505.7,110.9 L505.9,110.3 L506.2,109.6 L506.5,108.9 L506.8,108.1 L507.1,107.4 L507.4,106.5 L507.7,105.7 L508.0,104.8 L508.3,103.9 L508.6,103.0 L508.9,102.0 L509.2,101.0 L509.5,99.9 L509.8,98.9 L510.1,97.7 L510.3,96.6 L510.6,95.4 L510.9,94.2 L511.2,92.9 L511.5,91.7 L511.8,90.3 L512.1,89.0 L512.4,87.6 L512.7,86.2 L513.0,84.8 L513.3,83.3 L513.6,81.8 L513.9,80.3 L514.2,78.7 L514.5,77.1 L514.7,75.5 L515.0,73.9 L515.3,72.3 L515.6,70.6 L515.9,68.9 L516.2,67.2 L516.5,65.5 L516.8,63.8 L517.1,62.1 L517.4,60.4 L517.7,58.7 L518.0,57.0 L518.3,55.2 L518.6,53.5 L518.9,51.8 L519.1,50.1 L519.4,48.4 L519.7,46.8 L520.0,45.1 L520.3,43.5 L520.6,41.9 L520.9,40.3 L521.2,38.8 L521.5,37.3 L521.8,35.8 L522.1,34.4 L522.4,33.0 L522.7,31.7 L523.0,30.4 L523.3,29.2 L523.5,28.0 L523.8,26.8 L524.1,25.8 L524.4,24.8 L524.7,23.8 L525.0,22.9 L525.3,22.1 L525.6,21.3 L525.9,20.7 L526.2,20.1 L526.5,19.5 L526.8,19.1 L527.1,18.7 L527.4,18.3 L527.6,18.1 L527.9,17.9 L528.2,17.9 L528.5,17.9 L528.8,17.9 L529.1,18.1 L529.4,18.3 L529.7,18.6 L530.0,19.0 L530.3,19.4 L530.6,20.0 L530.9,20.6 L531.2,21.3 L531.5,22.0 L531.8,22.9 L532.0,24.0 L532.3,25.4 L532.6,27.3 L532.9,29.8 L533.2,33.0 L533.5,36.9 L533.8,41.2 L534.1,45.7 L534.4,50.3 L534.7,55.0 L535.0,59.8 L535.3,64.5 L535.6,69.3 L535.9,74.1 L536.2,78.8 L536.4,83.6 L536.7,88.4 L537.0,93.1 L537.3,97.9 L537.6,95.5 L537.9,90.7 L538.2,85.9 L538.5,81.1 L538.8,76.4 L539.1,71.6 L539.4,66.8 L539.7,62.1 L540.0,57.3 L540.3,52.5 L540.6,47.8 L540.8,43.1 L541.1,38.5 L541.4,34.1 L541.7,30.2 L542.0,27.2 L542.3,25.1 L542.6,24.0 L542.9,23.5 L543.2,23.2 L543.5,23.1 L543.8,23.1 L544.1,23.2 L544.4,23.4 L544.7,23.6 L545.0,23.9 L545.2,24.2 L545.5,24.6 L545.8,25.1 L546.1,25.6 L546.4,26.2 L546.7,26.8 L547.0,27.5 L547.3,28.2 L547.6,29.0 L547.9,29.9 L548.2,30.8 L548.5,31.7 L548.8,32.7 L549.1,33.7 L549.4,34.8 L549.6,35.9 L549.9,37.0 L550.2,38.2 L550.5,39.4 L550.8,40.6 L551.1,41.9 L551.4,43.2 L551.7,44.5 L552.0,45.8 L552.3,47.1 L552.6,48.5 L552.9,49.9 L553.2,51.2 L553.5,52.6 L553.8,54.0 L554.0,55.4 L554.3,56.8 L554.6,58.2 L554.9,59.6 L555.2,61.0 L555.5,62.4 L555.8,63.8 L556.1,65.1 L556.4,66.5 L556.7,67.8 L557.0,69.2 L557.3,70.5 L557.6,71.8 L557.9,73.0 L558.2,74.3 L558.4,75.5 L558.7,76.7 L559.0,77.9 L559.3,79.1 L559.6,80.2 L559.9,81.3 L560.2,82.4 L560.5,83.5 L560.8,84.5 L561.1,85.5 L561.4,86.5 L561.7,87.4 L562.0,88.4 L562.3,89.3 L562.6,90.1 L562.8,91.0 L563.1,91.8 L563.4,92.6 L563.7,93.3 L564.0,94.0 L564.3,94.7 L564.6,95.4 L564.9,96.1 L565.2,96.7 L565.5,97.3 L565.8,97.9 L566.1,98.4 L566.4,98.9 L566.7,99.4 L567.0,99.9 L567.2,100.4 L567.5,100.8 L567.8,101.2 L568.1,101.6 L568.4,102.0 L568.7,102.3 L569.0,102.7 L569.3,103.0" fill="none" stroke="#ff3b00" stroke-width="1.90" stroke-linejoin="round" stroke-linecap="butt" />
<path d="M505.1,112.2 L505.4,111.5 L505.7,110.7 L505.9,110.0 L506.2,109.2 L506.5,108.3 L506.8,107.5 L507.1,106.6 L507.4,105.6 L507.7,104.6 L508.0,103.6 L508.3,102.6 L508.6,101.5 L508.9,100.4 L509.2,99.2 L509.5,98.0 L509.8,96.8 L510.1,95.5 L510.3,94.2 L510.6,92.9 L510.9,91.5 L511.2,90.1 L511.5,88.7 L511.8,87.2 L512.1,85.7 L512.4,84.1 L512.7,82.5 L513.0,80.9 L513.3,79.3 L513.6,77.6 L513.9,75.9 L514.2,74.2 L514.5,72.5 L514.7,70.7 L515.0,68.9 L515.3,67.2 L515.6,65.3 L515.9,63.5 L516.2,61.7 L516.5,59.9 L516.8,58.0 L517.1,56.2 L517.4,54.3 L517.7,52.5 L518.0,50.6 L518.3,48.8 L518.6,47.0 L518.9,45.2 L519.1,43.4 L519.4,41.6 L519.7,39.9 L520.0,38.2 L520.3,36.5 L520.6,34.9 L520.9,33.2 L521.2,31.7 L521.5,30.1 L521.8,28.7 L522.1,27.2 L522.4,25.8 L522.7,24.5 L523.0,23.2 L523.3,22.0 L523.5,20.9 L523.8,19.8 L524.1,18.8 L524.4,17.8 L524.7,16.9 L525.0,16.1 L525.3,15.4 L525.6,14.7 L525.9,14.1 L526.2,13.6 L526.5,13.2 L526.8,12.9 L527.1,12.6 L527.4,12.5 L527.6,12.4 L527.9,12.4 L528.2,12.4 L528.5,12.6 L528.8,12.8 L529.1,13.2 L529.4,13.6 L529.7,14.1 L530.0,14.8 L530.3,15.7 L530.6,17.0 L530.9,18.9 L531.2,21.6 L531.5,25.1 L531.8,29.2 L532.0,33.6 L532.3,38.2 L532.6,42.9 L532.9,47.6 L533.2,52.4 L533.5,57.1 L533.8,61.9 L534.1,66.7 L534.4,71.4 L534.7,76.2 L535.0,81.0 L535.3,85.8 L535.6,90.5 L535.9,95.3 L536.2,100.1 L536.4,104.8 L536.7,109.6 L537.0,114.4 L537.3,119.1 L537.6,116.7 L537.9,111.9 L538.2,107.1 L538.5,102.4 L538.8,97.6 L539.1,92.8 L539.4,88.1 L539.7,83.3 L540.0,78.5 L540.3,73.7 L540.6,69.0 L540.8,64.2 L541.1,59.4 L541.4,54.7 L541.7,49.9 L542.0,45.2 L542.3,40.4 L542.6,35.8 L542.9,31.2 L543.2,27.1 L543.5,23.8 L543.8,21.7 L544.1,20.7 L544.4,20.5 L544.7,20.6 L545.0,20.9 L545.2,21.3 L545.5,21.8 L545.8,22.3 L546.1,22.9 L546.4,23.6 L546.7,24.3 L547.0,25.1 L547.3,25.9 L547.6,26.8 L547.9,27.8 L548.2,28.8 L548.5,29.8 L548.8,30.9 L549.1,32.0 L549.4,33.2 L549.6,34.4 L549.9,35.6 L550.2,36.9 L550.5,38.2 L550.8,39.5 L551.1,40.8 L551.4,42.2 L551.7,43.6 L552.0,45.0 L552.3,46.5 L552.6,47.9 L552.9,49.4 L553.2,50.8 L553.5,52.3 L553.8,53.8 L554.0,55.3 L554.3,56.7 L554.6,58.2 L554.9,59.7 L555.2,61.1 L555.5,62.6 L555.8,64.0 L556.1,65.5 L556.4,66.9 L556.7,68.3 L557.0,69.7 L557.3,71.0 L557.6,72.4 L557.9,73.7 L558.2,75.0 L558.4,76.3 L558.7,77.5 L559.0,78.7 L559.3,79.9 L559.6,81.1 L559.9,82.3 L560.2,83.4 L560.5,84.5 L560.8,85.5 L561.1,86.6 L561.4,87.6 L561.7,88.5 L562.0,89.5 L562.3,90.4 L562.6,91.3 L562.8,92.1 L563.1,93.0 L563.4,93.8 L563.7,94.5 L564.0,95.3 L564.3,96.0 L564.6,96.7 L564.9,97.3 L565.2,98.0 L565.5,98.6 L565.8,99.1 L566.1,99.7 L566.4,100.2 L566.7,100.7 L567.0,101.2 L567.2,101.7 L567.5,102.1 L567.8,102.5 L568.1,102.9 L568.4,103.3 L568.7,103.7 L569.0,104.0 L569.3,104.3" fill="none" stroke="#d60000" stroke-width="1.90" stroke-linejoin="round" stroke-linecap="butt" />
<path d="M505.1,112.7 L505.4,112.0 L505.7,111.3 L505.9,110.6 L506.2,109.9 L506.5,109.1 L506.8,108.2 L507.1,107.4 L507.4,106.5 L507.7,105.6 L508.0,104.6 L508.3,103.6 L508.6,102.5 L508.9,101.4 L509.2,100.3 L509.5,99.1 L509.8,97.9 L510.1,96.7 L510.3,95.4 L510.6,94.1 L510.9,92.7 L511.2,91.3 L511.5,89.9 L511.8,88.4 L512.1,86.9 L512.4,85.3 L512.7,83.7 L513.0,82.1 L513.3,80.5 L513.6,78.8 L513.9,77.0 L514.2,75.3 L514.5,73.5 L514.7,71.7 L515.0,69.8 L515.3,68.0 L515.6,66.1 L515.9,64.2 L516.2,62.2 L516.5,60.3 L516.8,58.3 L517.1,56.4 L517.4,54.4 L517.7,52.4 L518.0,50.4 L518.3,48.4 L518.6,46.5 L518.9,44.5 L519.1,42.5 L519.4,40.6 L519.7,38.6 L520.0,36.7 L520.3,34.8 L520.6,33.0 L520.9,31.1 L521.2,29.3 L521.5,27.6 L521.8,25.8 L522.1,24.1 L522.4,22.5 L522.7,20.9 L523.0,19.4 L523.3,17.9 L523.5,16.4 L523.8,15.1 L524.1,13.8 L524.4,12.5 L524.7,11.4 L525.0,10.3 L525.3,9.3 L525.6,8.3 L525.9,7.5 L526.2,6.7 L526.5,6.0 L526.8,5.4 L527.1,4.8 L527.4,4.4 L527.6,4.0 L527.9,3.7 L528.2,3.6 L528.5,3.5 L528.8,3.4 L529.1,3.5 L529.4,3.7 L529.7,4.0 L530.0,4.3 L530.3,4.7 L530.6,5.3 L530.9,5.9 L531.2,6.6 L531.5,7.3 L531.8,8.2 L532.0,9.1 L532.3,10.1 L532.6,11.3 L532.9,12.5 L533.2,13.8 L533.5,15.4 L533.8,17.2 L534.1,19.4 L534.4,22.2 L534.7,25.6 L535.0,29.5 L535.3,33.7 L535.6,38.2 L535.9,42.8 L536.2,47.5 L536.4,52.2 L536.7,57.0 L537.0,61.7 L537.3,66.5 L537.6,69.7 L537.9,67.5 L538.2,65.7 L538.5,64.0 L538.8,62.5 L539.1,61.1 L539.4,59.6 L539.7,58.3 L540.0,56.9 L540.3,55.5 L540.6,54.2 L540.8,52.9 L541.1,51.6 L541.4,50.4 L541.7,49.2 L542.0,48.0 L542.3,46.8 L542.6,45.7 L542.9,44.6 L543.2,43.6 L543.5,42.6 L543.8,41.6 L544.1,40.7 L544.4,39.8 L544.7,39.0 L545.0,38.2 L545.2,37.5 L545.5,36.9 L545.8,36.3 L546.1,35.7 L546.4,35.2 L546.7,34.8 L547.0,34.5 L547.3,34.2 L547.6,33.9 L547.9,33.7 L548.2,33.6 L548.5,33.6 L548.8,33.6 L549.1,33.7 L549.4,33.8 L549.6,34.0 L549.9,34.3 L550.2,34.6 L550.5,35.0 L550.8,35.4 L551.1,35.9 L551.4,36.5 L551.7,37.1 L552.0,37.8 L552.3,38.5 L552.6,39.3 L552.9,40.1 L553.2,41.0 L553.5,42.0 L553.8,42.9 L554.0,44.0 L554.3,45.0 L554.6,46.1 L554.9,47.3 L555.2,48.4 L555.5,49.6 L555.8,50.9 L556.1,52.1 L556.4,53.4 L556.7,54.7 L557.0,56.1 L557.3,57.4 L557.6,58.8 L557.9,60.2 L558.2,61.5 L558.4,62.9 L558.7,64.3 L559.0,65.8 L559.3,67.2 L559.6,68.6 L559.9,70.0 L560.2,71.4 L560.5,72.8 L560.8,74.2 L561.1,75.6 L561.4,76.9 L561.7,78.3 L562.0,79.6 L562.3,81.0 L562.6,82.3 L562.8,83.6 L563.1,84.8 L563.4,86.1 L563.7,87.3 L564.0,88.5 L564.3,89.7 L564.6,90.8 L564.9,92.0 L565.2,93.1 L565.5,94.2 L565.8,95.2 L566.1,96.2 L566.4,97.2 L566.7,98.2 L567.0,99.1 L567.2,100.0 L567.5,100.9 L567.8,101.8 L568.1,102.6 L568.4,103.4 L568.7,104.2 L569.0,104.9 L569.3,105.6" fill="none" stroke="#800000" stroke-width="1.90" stroke-linejoin="round" stroke-linecap="butt" />
</g>
<g clip-path="url(#clipcr)">
<path d="M570.8,63.7 L571.2,63.7 L571.7,63.7 L572.2,63.7 L572.7,63.7 L573.2,63.7 L573.7,63.7 L574.2,63.7 L574.6,63.7 L575.1,63.7 L575.6,63.7 L576.1,63.7 L576.6,63.7 L577.1,63.7 L577.6,63.7 L578.0,63.7 L578.5,63.7 L579.0,63.7 L579.5,63.7 L580.0,63.7 L580.5,63.7 L580.9,63.7 L581.4,63.7 L581.9,63.7 L582.4,63.7 L582.9,63.7 L583.4,63.7 L583.9,63.7 L584.3,63.7 L584.8,63.7 L585.3,63.7 L585.8,63.7 L586.3,63.7 L586.8,63.7 L587.2,63.7 L587.7,63.7 L588.2,63.7 L588.7,63.7 L589.2,63.7 L589.7,63.7 L590.2,63.7 L590.6,63.7 L591.1,63.7 L591.6,63.7 L592.1,63.7 L592.6,63.7 L593.1,63.7 L593.6,63.7 L594.0,63.7 L594.5,63.7 L595.0,63.7 L595.5,63.7 L596.0,63.7 L596.5,63.7 L596.9,63.7 L597.4,63.7 L597.9,63.7 L598.4,63.7 L598.9,63.7 L599.4,63.7 L599.9,63.7 L600.3,63.7 L600.8,63.7 L601.3,63.7 L601.8,63.7 L602.3,63.7 L602.8,63.7 L603.2,63.7 L603.7,63.7 L604.2,63.7 L604.7,63.7 L605.2,63.7 L605.7,63.7 L606.2,63.7 L606.6,63.7 L607.1,63.7 L607.6,63.7 L608.1,63.7 L608.6,63.7 L609.1,63.7 L609.5,63.7 L610.0,63.7 L610.5,63.7 L611.0,63.7 L611.5,63.7 L612.0,63.7 L612.5,63.7 L612.9,63.7 L613.4,63.7 L613.9,63.7 L614.4,63.7 L614.9,63.7 L615.4,63.7 L615.9,63.7 L616.3,63.7 L616.8,63.7 L617.3,63.7 L617.8,63.7 L618.3,63.7 L618.8,63.7 L619.2,63.7 L619.7,63.7 L620.2,63.7 L620.7,63.7 L621.2,63.7 L621.7,63.7 L622.2,63.7 L622.6,63.7 L623.1,63.7 L623.6,63.7 L624.1,63.7 L624.6,63.7 L625.1,63.7 L625.5,63.7 L626.0,63.7 L626.5,63.7 L627.0,63.7 L627.5,63.7 L628.0,63.7 L628.5,63.7 L628.9,63.7 L629.4,63.7 L629.9,63.7 L630.4,63.7 L630.9,63.7 L631.4,63.7 L631.9,63.7 L632.3,63.7 L632.8,63.7 L633.3,63.7 L633.8,63.7 L634.3,63.7 L634.8,63.7 L635.2,63.7 L635.7,63.7 L636.2,63.7 L636.7,63.7 L637.2,63.7 L637.7,63.7 L638.2,63.7 L638.6,63.7 L639.1,63.7 L639.6,63.7 L640.1,63.7 L640.6,63.7 L641.1,63.7 L641.5,63.7 L642.0,63.7 L642.5,63.7 L643.0,63.7 L643.5,63.7 L644.0,63.7 L644.5,63.7 L644.9,63.7 L645.4,63.7 L645.9,63.7 L646.4,63.7 L646.9,63.7 L647.4,63.7 L647.9,63.7 L648.3,63.7 L648.8,63.7 L649.3,63.7 L649.8,63.7 L650.3,63.7 L650.8,63.7 L651.2,63.7 L651.7,63.7 L652.2,63.7 L652.7,63.7 L653.2,63.7 L653.7,63.7 L654.2,63.7 L654.6,63.7 L655.1,63.7 L655.6,63.7 L656.1,63.7 L656.6,63.7 L657.1,63.7 L657.5,63.7 L658.0,63.7 L658.5,63.7 L659.0,63.7 L659.5,63.7 L660.0,63.7 L660.5,63.7 L660.9,63.7 L661.4,63.7 L661.9,63.7 L662.4,63.7 L662.9,63.7 L663.4,63.7 L663.9,63.7 L664.3,63.7 L664.8,63.7 L665.3,63.7 L665.8,63.7 L666.3,63.7 L666.8,63.7 L667.2,63.7" fill="none" stroke="#000080" stroke-width="1.90" stroke-linejoin="round" stroke-linecap="butt" />
<path d="M570.8,65.2 L571.2,65.2 L571.7,65.2 L572.2,65.2 L572.7,65.2 L573.2,65.2 L573.7,65.1 L574.2,65.1 L574.6,65.0 L575.1,65.0 L575.6,64.9 L576.1,64.9 L576.6,64.8 L577.1,64.8 L577.6,64.7 L578.0,64.7 L578.5,64.6 L579.0,64.6 L579.5,64.5 L580.0,64.5 L580.5,64.5 L580.9,64.5 L581.4,64.4 L581.9,64.4 L582.4,64.4 L582.9,64.4 L583.4,64.4 L583.9,64.4 L584.3,64.4 L584.8,64.4 L585.3,64.4 L585.8,64.4 L586.3,64.4 L586.8,64.4 L587.2,64.5 L587.7,64.5 L588.2,64.5 L588.7,64.5 L589.2,64.5 L589.7,64.6 L590.2,64.6 L590.6,64.6 L591.1,64.7 L591.6,64.7 L592.1,64.7 L592.6,64.8 L593.1,64.8 L593.6,64.8 L594.0,64.9 L594.5,64.9 L595.0,65.0 L595.5,65.0 L596.0,65.1 L596.5,65.2 L596.9,65.2 L597.4,65.3 L597.9,65.3 L598.4,65.4 L598.9,65.5 L599.4,65.6 L599.9,65.6 L600.3,65.7 L600.8,65.8 L601.3,65.9 L601.8,66.0 L602.3,66.1 L602.8,66.2 L603.2,66.3 L603.7,66.4 L604.2,66.5 L604.7,66.6 L605.2,66.7 L605.7,66.9 L606.2,67.0 L606.6,67.1 L607.1,67.2 L607.6,67.3 L608.1,67.5 L608.6,67.6 L609.1,67.7 L609.5,67.8 L610.0,68.0 L610.5,68.1 L611.0,68.2 L611.5,68.3 L612.0,68.5 L612.5,68.6 L612.9,68.7 L613.4,68.8 L613.9,68.9 L614.4,69.0 L614.9,69.1 L615.4,69.1 L615.9,69.2 L616.3,69.3 L616.8,69.3 L617.3,69.4 L617.8,69.4 L618.3,69.4 L618.8,69.5 L619.2,69.5 L619.7,69.5 L620.2,69.4 L620.7,69.4 L621.2,69.4 L621.7,69.3 L622.2,69.3 L622.6,69.2 L623.1,69.2 L623.6,69.1 L624.1,69.0 L624.6,68.9 L625.1,68.8 L625.5,68.7 L626.0,68.6 L626.5,68.5 L627.0,68.4 L627.5,68.2 L628.0,68.1 L628.5,68.0 L628.9,67.9 L629.4,67.7 L629.9,67.6 L630.4,67.5 L630.9,67.4 L631.4,67.2 L631.9,67.1 L632.3,67.0 L632.8,66.9 L633.3,66.8 L633.8,66.6 L634.3,66.5 L634.8,66.4 L635.2,66.3 L635.7,66.2 L636.2,66.1 L636.7,66.0 L637.2,65.9 L637.7,65.8 L638.2,65.7 L638.6,65.7 L639.1,65.6 L639.6,65.5 L640.1,65.4 L640.6,65.4 L641.1,65.3 L641.5,65.2 L642.0,65.2 L642.5,65.1 L643.0,65.1 L643.5,65.0 L644.0,64.9 L644.5,64.9 L644.9,64.9 L645.4,64.8 L645.9,64.8 L646.4,64.7 L646.9,64.7 L647.4,64.7 L647.9,64.6 L648.3,64.6 L648.8,64.6 L649.3,64.5 L649.8,64.5 L650.3,64.5 L650.8,64.5 L651.2,64.4 L651.7,64.4 L652.2,64.4 L652.7,64.4 L653.2,64.4 L653.7,64.4 L654.2,64.3 L654.6,64.3 L655.1,64.3 L655.6,64.3 L656.1,64.3 L656.6,64.3 L657.1,64.3 L657.5,64.3 L658.0,64.3 L658.5,64.3 L659.0,64.3 L659.5,64.3 L660.0,64.3 L660.5,64.3 L660.9,64.3 L661.4,64.3 L661.9,64.3 L662.4,64.3 L662.9,64.3 L663.4,64.3 L663.9,64.3 L664.3,64.4 L664.8,64.4 L665.3,64.4 L665.8,64.4 L666.3,64.4 L666.8,64.4 L667.2,64.4" fill="none" stroke="#0000d6" stroke-width="1.90" stroke-linejoin="round" stroke-linecap="butt" />
<path d="M570.8,68.5 L571.2,68.5 L571.7,68.5 L572.2,68.4 L572.7,68.4 L573.2,68.3 L573.7,68.1 L574.2,68.0 L574.6,67.9 L575.1,67.7 L575.6,67.5 L576.1,67.4 L576.6,67.2 L577.1,67.1 L577.6,66.9 L578.0,66.7 L578.5,66.6 L579.0,66.5 L579.5,66.3 L580.0,66.2 L580.5,66.1 L580.9,66.1 L581.4,66.0 L581.9,65.9 L582.4,65.9 L582.9,65.9 L583.4,65.9 L583.9,65.9 L584.3,65.9 L584.8,65.9 L585.3,65.9 L585.8,65.9 L586.3,66.0 L586.8,66.0 L587.2,66.1 L587.7,66.1 L588.2,66.2 L588.7,66.3 L589.2,66.3 L589.7,66.4 L590.2,66.5 L590.6,66.6 L591.1,66.7 L591.6,66.8 L592.1,66.9 L592.6,67.0 L593.1,67.2 L593.6,67.3 L594.0,67.4 L594.5,67.6 L595.0,67.7 L595.5,67.9 L596.0,68.1 L596.5,68.3 L596.9,68.5 L597.4,68.7 L597.9,68.9 L598.4,69.1 L598.9,69.3 L599.4,69.5 L599.9,69.8 L600.3,70.1 L600.8,70.3 L601.3,70.6 L601.8,70.9 L602.3,71.2 L602.8,71.5 L603.2,71.8 L603.7,72.2 L604.2,72.5 L604.7,72.9 L605.2,73.2 L605.7,73.6 L606.2,74.0 L606.6,74.3 L607.1,74.7 L607.6,75.1 L608.1,75.5 L608.6,75.9 L609.1,76.3 L609.5,76.7 L610.0,77.1 L610.5,77.5 L611.0,77.9 L611.5,78.3 L612.0,78.6 L612.5,79.0 L612.9,79.3 L613.4,79.7 L613.9,80.0 L614.4,80.3 L614.9,80.5 L615.4,80.8 L615.9,81.0 L616.3,81.2 L616.8,81.4 L617.3,81.5 L617.8,81.6 L618.3,81.7 L618.8,81.8 L619.2,81.8 L619.7,81.8 L620.2,81.7 L620.7,81.6 L621.2,81.5 L621.7,81.4 L622.2,81.2 L622.6,81.0 L623.1,80.8 L623.6,80.6 L624.1,80.3 L624.6,80.0 L625.1,79.7 L625.5,79.4 L626.0,79.1 L626.5,78.7 L627.0,78.3 L627.5,78.0 L628.0,77.6 L628.5,77.2 L628.9,76.8 L629.4,76.4 L629.9,76.0 L630.4,75.6 L630.9,75.2 L631.4,74.8 L631.9,74.4 L632.3,74.0 L632.8,73.7 L633.3,73.3 L633.8,72.9 L634.3,72.6 L634.8,72.2 L635.2,71.9 L635.7,71.6 L636.2,71.3 L636.7,71.0 L637.2,70.7 L637.7,70.4 L638.2,70.1 L638.6,69.8 L639.1,69.6 L639.6,69.4 L640.1,69.1 L640.6,68.9 L641.1,68.7 L641.5,68.5 L642.0,68.3 L642.5,68.1 L643.0,67.9 L643.5,67.8 L644.0,67.6 L644.5,67.5 L644.9,67.3 L645.4,67.2 L645.9,67.1 L646.4,66.9 L646.9,66.8 L647.4,66.7 L647.9,66.6 L648.3,66.5 L648.8,66.4 L649.3,66.3 L649.8,66.2 L650.3,66.2 L650.8,66.1 L651.2,66.0 L651.7,66.0 L652.2,65.9 L652.7,65.8 L653.2,65.8 L653.7,65.7 L654.2,65.7 L654.6,65.7 L655.1,65.6 L655.6,65.6 L656.1,65.6 L656.6,65.6 L657.1,65.5 L657.5,65.5 L658.0,65.5 L658.5,65.5 L659.0,65.5 L659.5,65.5 L660.0,65.5 L660.5,65.6 L660.9,65.6 L661.4,65.6 L661.9,65.6 L662.4,65.7 L662.9,65.7 L663.4,65.7 L663.9,65.7 L664.3,65.8 L664.8,65.8 L665.3,65.8 L665.8,65.8 L666.3,65.8 L666.8,65.8 L667.2,65.8" fill="none" stroke="#001cff" stroke-width="1.90" stroke-linejoin="round" stroke-linecap="butt" />
<path d="M570.8,71.2 L571.2,71.2 L571.7,71.1 L572.2,71.0 L572.7,70.9 L573.2,70.8 L573.7,70.6 L574.2,70.4 L574.6,70.2 L575.1,69.9 L575.6,69.7 L576.1,69.4 L576.6,69.2 L577.1,68.9 L577.6,68.7 L578.0,68.4 L578.5,68.2 L579.0,68.0 L579.5,67.8 L580.0,67.6 L580.5,67.5 L580.9,67.4 L581.4,67.3 L581.9,67.2 L582.4,67.1 L582.9,67.1 L583.4,67.0 L583.9,67.0 L584.3,67.0 L584.8,67.1 L585.3,67.1 L585.8,67.1 L586.3,67.2 L586.8,67.3 L587.2,67.4 L587.7,67.4 L588.2,67.5 L588.7,67.7 L589.2,67.8 L589.7,67.9 L590.2,68.0 L590.6,68.2 L591.1,68.4 L591.6,68.5 L592.1,68.7 L592.6,68.9 L593.1,69.1 L593.6,69.3 L594.0,69.5 L594.5,69.7 L595.0,70.0 L595.5,70.2 L596.0,70.5 L596.5,70.8 L596.9,71.1 L597.4,71.4 L597.9,71.7 L598.4,72.0 L598.9,72.4 L599.4,72.8 L599.9,73.2 L600.3,73.6 L600.8,74.0 L601.3,74.4 L601.8,74.9 L602.3,75.3 L602.8,75.8 L603.2,76.3 L603.7,76.8 L604.2,77.4 L604.7,77.9 L605.2,78.5 L605.7,79.0 L606.2,79.6 L606.6,80.2 L607.1,80.8 L607.6,81.4 L608.1,82.0 L608.6,82.6 L609.1,83.3 L609.5,83.9 L610.0,84.5 L610.5,85.1 L611.0,85.7 L611.5,86.3 L612.0,86.8 L612.5,87.4 L612.9,87.9 L613.4,88.4 L613.9,88.9 L614.4,89.4 L614.9,89.8 L615.4,90.2 L615.9,90.5 L616.3,90.8 L616.8,91.1 L617.3,91.3 L617.8,91.5 L618.3,91.6 L618.8,91.7 L619.2,91.7 L619.7,91.7 L620.2,91.6 L620.7,91.5 L621.2,91.4 L621.7,91.2 L622.2,90.9 L622.6,90.6 L623.1,90.3 L623.6,89.9 L624.1,89.5 L624.6,89.0 L625.1,88.5 L625.5,88.0 L626.0,87.5 L626.5,87.0 L627.0,86.4 L627.5,85.8 L628.0,85.2 L628.5,84.6 L628.9,84.0 L629.4,83.4 L629.9,82.8 L630.4,82.1 L630.9,81.5 L631.4,80.9 L631.9,80.3 L632.3,79.7 L632.8,79.1 L633.3,78.6 L633.8,78.0 L634.3,77.5 L634.8,76.9 L635.2,76.4 L635.7,75.9 L636.2,75.4 L636.7,74.9 L637.2,74.5 L637.7,74.1 L638.2,73.6 L638.6,73.2 L639.1,72.8 L639.6,72.5 L640.1,72.1 L640.6,71.8 L641.1,71.4 L641.5,71.1 L642.0,70.8 L642.5,70.5 L643.0,70.3 L643.5,70.0 L644.0,69.8 L644.5,69.5 L644.9,69.3 L645.4,69.1 L645.9,68.9 L646.4,68.7 L646.9,68.5 L647.4,68.4 L647.9,68.2 L648.3,68.1 L648.8,67.9 L649.3,67.8 L649.8,67.7 L650.3,67.5 L650.8,67.4 L651.2,67.3 L651.7,67.2 L652.2,67.1 L652.7,67.0 L653.2,67.0 L653.7,66.9 L654.2,66.8 L654.6,66.8 L655.1,66.7 L655.6,66.6 L656.1,66.6 L656.6,66.6 L657.1,66.6 L657.5,66.5 L658.0,66.5 L658.5,66.5 L659.0,66.5 L659.5,66.5 L660.0,66.6 L660.5,66.6 L660.9,66.6 L661.4,66.6 L661.9,66.7 L662.4,66.7 L662.9,66.8 L663.4,66.8 L663.9,66.9 L664.3,66.9 L664.8,66.9 L665.3,66.9 L665.8,67.0 L666.3,67.0 L666.8,67.0 L667.2,67.0" fill="none" stroke="#006cff" stroke-width="1.90" stroke-linejoin="round" stroke-linecap="butt" />
<path d="M570.8,70.4 L571.2,70.4 L571.7,70.4 L572.2,70.3 L572.7,70.2 L573.2,70.0 L573.7,69.9 L574.2,69.7 L574.6,69.5 L575.1,69.3 L575.6,69.1 L576.1,68.8 L576.6,68.6 L577.1,68.4 L577.6,68.1 L578.0,67.9 L578.5,67.7 L579.0,67.6 L579.5,67.4 L580.0,67.2 L580.5,67.1 L580.9,67.0 L581.4,66.9 L581.9,66.8 L582.4,66.8 L582.9,66.7 L583.4,66.7 L583.9,66.7 L584.3,66.7 L584.8,66.7 L585.3,66.7 L585.8,66.8 L586.3,66.8 L586.8,66.9 L587.2,67.0 L587.7,67.1 L588.2,67.2 L588.7,67.3 L589.2,67.4 L589.7,67.5 L590.2,67.6 L590.6,67.7 L591.1,67.9 L591.6,68.0 L592.1,68.2 L592.6,68.3 L593.1,68.5 L593.6,68.7 L594.0,68.9 L594.5,69.1 L595.0,69.3 L595.5,69.6 L596.0,69.8 L596.5,70.1 L596.9,70.3 L597.4,70.6 L597.9,70.9 L598.4,71.2 L598.9,71.5 L599.4,71.8 L599.9,72.2 L600.3,72.5 L600.8,72.9 L601.3,73.3 L601.8,73.7 L602.3,74.1 L602.8,74.6 L603.2,75.0 L603.7,75.5 L604.2,75.9 L604.7,76.4 L605.2,76.9 L605.7,77.4 L606.2,78.0 L606.6,78.5 L607.1,79.0 L607.6,79.6 L608.1,80.1 L608.6,80.7 L609.1,81.2 L609.5,81.8 L610.0,82.3 L610.5,82.9 L611.0,83.4 L611.5,84.0 L612.0,84.5 L612.5,85.0 L612.9,85.4 L613.4,85.9 L613.9,86.3 L614.4,86.7 L614.9,87.1 L615.4,87.5 L615.9,87.8 L616.3,88.1 L616.8,88.3 L617.3,88.5 L617.8,88.6 L618.3,88.8 L618.8,88.8 L619.2,88.9 L619.7,88.8 L620.2,88.8 L620.7,88.7 L621.2,88.5 L621.7,88.3 L622.2,88.1 L622.6,87.8 L623.1,87.5 L623.6,87.2 L624.1,86.8 L624.6,86.4 L625.1,86.0 L625.5,85.5 L626.0,85.1 L626.5,84.6 L627.0,84.1 L627.5,83.5 L628.0,83.0 L628.5,82.4 L628.9,81.9 L629.4,81.3 L629.9,80.8 L630.4,80.2 L630.9,79.7 L631.4,79.1 L631.9,78.6 L632.3,78.1 L632.8,77.5 L633.3,77.0 L633.8,76.5 L634.3,76.0 L634.8,75.6 L635.2,75.1 L635.7,74.6 L636.2,74.2 L636.7,73.8 L637.2,73.4 L637.7,73.0 L638.2,72.6 L638.6,72.2 L639.1,71.9 L639.6,71.6 L640.1,71.2 L640.6,70.9 L641.1,70.6 L641.5,70.4 L642.0,70.1 L642.5,69.8 L643.0,69.6 L643.5,69.4 L644.0,69.2 L644.5,68.9 L644.9,68.7 L645.4,68.6 L645.9,68.4 L646.4,68.2 L646.9,68.0 L647.4,67.9 L647.9,67.7 L648.3,67.6 L648.8,67.5 L649.3,67.4 L649.8,67.2 L650.3,67.1 L650.8,67.0 L651.2,66.9 L651.7,66.9 L652.2,66.8 L652.7,66.7 L653.2,66.6 L653.7,66.6 L654.2,66.5 L654.6,66.4 L655.1,66.4 L655.6,66.3 L656.1,66.3 L656.6,66.3 L657.1,66.3 L657.5,66.2 L658.0,66.2 L658.5,66.2 L659.0,66.2 L659.5,66.2 L660.0,66.3 L660.5,66.3 L660.9,66.3 L661.4,66.3 L661.9,66.4 L662.4,66.4 L662.9,66.5 L663.4,66.5 L663.9,66.5 L664.3,66.6 L664.8,66.6 L665.3,66.6 L665.8,66.6 L666.3,66.6 L666.8,66.6 L667.2,66.6" fill="none" stroke="#00b8ff" stroke-width="1.90" stroke-linejoin="round" stroke-linecap="butt" />
<path d="M570.8,73.8 L571.2,73.8 L571.7,73.8 L572.2,73.7 L572.7,73.5 L573.2,73.3 L573.7,73.0 L574.2,72.8 L574.6,72.5 L575.1,72.1 L575.6,71.8 L576.1,71.4 L576.6,71.1 L577.1,70.7 L577.6,70.4 L578.0,70.1 L578.5,69.8 L579.0,69.5 L579.5,69.3 L580.0,69.0 L580.5,68.8 L580.9,68.7 L581.4,68.5 L581.9,68.4 L582.4,68.3 L582.9,68.3 L583.4,68.2 L583.9,68.2 L584.3,68.2 L584.8,68.3 L585.3,68.3 L585.8,68.4 L586.3,68.4 L586.8,68.5 L587.2,68.7 L587.7,68.8 L588.2,68.9 L588.7,69.1 L589.2,69.2 L589.7,69.4 L590.2,69.6 L590.6,69.8 L591.1,70.0 L591.6,70.2 L592.1,70.5 L592.6,70.7 L593.1,71.0 L593.6,71.3 L594.0,71.6 L594.5,71.9 L595.0,72.2 L595.5,72.5 L596.0,72.9 L596.5,73.3 L596.9,73.7 L597.4,74.1 L597.9,74.5 L598.4,75.0 L598.9,75.5 L599.4,76.0 L599.9,76.5 L600.3,77.1 L600.8,77.6 L601.3,78.2 L601.8,78.8 L602.3,79.5 L602.8,80.1 L603.2,80.8 L603.7,81.5 L604.2,82.2 L604.7,82.9 L605.2,83.7 L605.7,84.5 L606.2,85.3 L606.6,86.1 L607.1,86.9 L607.6,87.7 L608.1,88.5 L608.6,89.4 L609.1,90.2 L609.5,91.0 L610.0,91.9 L610.5,92.7 L611.0,93.5 L611.5,94.3 L612.0,95.1 L612.5,95.8 L612.9,96.5 L613.4,97.2 L613.9,97.9 L614.4,98.5 L614.9,99.1 L615.4,99.6 L615.9,100.1 L616.3,100.5 L616.8,100.8 L617.3,101.1 L617.8,101.4 L618.3,101.5 L618.8,101.7 L619.2,101.7 L619.7,101.7 L620.2,101.6 L620.7,101.4 L621.2,101.2 L621.7,100.9 L622.2,100.6 L622.6,100.1 L623.1,99.7 L623.6,99.2 L624.1,98.6 L624.6,98.0 L625.1,97.4 L625.5,96.7 L626.0,96.0 L626.5,95.2 L627.0,94.4 L627.5,93.6 L628.0,92.8 L628.5,92.0 L628.9,91.2 L629.4,90.4 L629.9,89.5 L630.4,88.7 L630.9,87.8 L631.4,87.0 L631.9,86.2 L632.3,85.4 L632.8,84.6 L633.3,83.8 L633.8,83.1 L634.3,82.3 L634.8,81.6 L635.2,80.9 L635.7,80.2 L636.2,79.6 L636.7,78.9 L637.2,78.3 L637.7,77.7 L638.2,77.2 L638.6,76.6 L639.1,76.1 L639.6,75.6 L640.1,75.1 L640.6,74.6 L641.1,74.2 L641.5,73.8 L642.0,73.4 L642.5,73.0 L643.0,72.6 L643.5,72.3 L644.0,71.9 L644.5,71.6 L644.9,71.3 L645.4,71.0 L645.9,70.8 L646.4,70.5 L646.9,70.3 L647.4,70.0 L647.9,69.8 L648.3,69.6 L648.8,69.4 L649.3,69.2 L649.8,69.1 L650.3,68.9 L650.8,68.7 L651.2,68.6 L651.7,68.5 L652.2,68.3 L652.7,68.2 L653.2,68.1 L653.7,68.0 L654.2,67.9 L654.6,67.8 L655.1,67.8 L655.6,67.7 L656.1,67.6 L656.6,67.6 L657.1,67.6 L657.5,67.5 L658.0,67.5 L658.5,67.5 L659.0,67.5 L659.5,67.5 L660.0,67.6 L660.5,67.6 L660.9,67.6 L661.4,67.7 L661.9,67.8 L662.4,67.8 L662.9,67.9 L663.4,67.9 L663.9,68.0 L664.3,68.0 L664.8,68.1 L665.3,68.1 L665.8,68.1 L666.3,68.1 L666.8,68.1 L667.2,68.1" fill="none" stroke="#1cffdb" stroke-width="1.90" stroke-linejoin="round" stroke-linecap="butt" />
<path d="M570.8,75.0 L571.2,74.9 L571.7,74.9 L572.2,74.7 L572.7,74.6 L573.2,74.3 L573.7,74.1 L574.2,73.8 L574.6,73.4 L575.1,73.1 L575.6,72.7 L576.1,72.3 L576.6,71.9 L577.1,71.5 L577.6,71.2 L578.0,70.8 L578.5,70.5 L579.0,70.2 L579.5,69.9 L580.0,69.6 L580.5,69.4 L580.9,69.2 L581.4,69.1 L581.9,68.9 L582.4,68.8 L582.9,68.8 L583.4,68.7 L583.9,68.7 L584.3,68.7 L584.8,68.8 L585.3,68.8 L585.8,68.9 L586.3,69.0 L586.8,69.1 L587.2,69.2 L587.7,69.3 L588.2,69.5 L588.7,69.7 L589.2,69.8 L589.7,70.0 L590.2,70.2 L590.6,70.5 L591.1,70.7 L591.6,70.9 L592.1,71.2 L592.6,71.5 L593.1,71.8 L593.6,72.1 L594.0,72.4 L594.5,72.8 L595.0,73.1 L595.5,73.5 L596.0,73.9 L596.5,74.3 L596.9,74.8 L597.4,75.3 L597.9,75.7 L598.4,76.3 L598.9,76.8 L599.4,77.3 L599.9,77.9 L600.3,78.5 L600.8,79.2 L601.3,79.8 L601.8,80.5 L602.3,81.2 L602.8,81.9 L603.2,82.7 L603.7,83.4 L604.2,84.2 L604.7,85.1 L605.2,85.9 L605.7,86.8 L606.2,87.6 L606.6,88.5 L607.1,89.4 L607.6,90.3 L608.1,91.3 L608.6,92.2 L609.1,93.1 L609.5,94.0 L610.0,95.0 L610.5,95.9 L611.0,96.8 L611.5,97.7 L612.0,98.5 L612.5,99.4 L612.9,100.2 L613.4,100.9 L613.9,101.7 L614.4,102.3 L614.9,103.0 L615.4,103.6 L615.9,104.1 L616.3,104.5 L616.8,104.9 L617.3,105.3 L617.8,105.5 L618.3,105.7 L618.8,105.8 L619.2,105.9 L619.7,105.9 L620.2,105.7 L620.7,105.6 L621.2,105.3 L621.7,105.0 L622.2,104.6 L622.6,104.2 L623.1,103.7 L623.6,103.1 L624.1,102.5 L624.6,101.8 L625.1,101.1 L625.5,100.3 L626.0,99.5 L626.5,98.7 L627.0,97.8 L627.5,97.0 L628.0,96.1 L628.5,95.1 L628.9,94.2 L629.4,93.3 L629.9,92.4 L630.4,91.4 L630.9,90.5 L631.4,89.6 L631.9,88.7 L632.3,87.8 L632.8,86.9 L633.3,86.1 L633.8,85.2 L634.3,84.4 L634.8,83.6 L635.2,82.8 L635.7,82.1 L636.2,81.3 L636.7,80.6 L637.2,79.9 L637.7,79.3 L638.2,78.6 L638.6,78.0 L639.1,77.5 L639.6,76.9 L640.1,76.4 L640.6,75.8 L641.1,75.3 L641.5,74.9 L642.0,74.4 L642.5,74.0 L643.0,73.6 L643.5,73.2 L644.0,72.8 L644.5,72.5 L644.9,72.2 L645.4,71.8 L645.9,71.5 L646.4,71.3 L646.9,71.0 L647.4,70.7 L647.9,70.5 L648.3,70.3 L648.8,70.0 L649.3,69.8 L649.8,69.6 L650.3,69.5 L650.8,69.3 L651.2,69.1 L651.7,69.0 L652.2,68.8 L652.7,68.7 L653.2,68.6 L653.7,68.5 L654.2,68.4 L654.6,68.3 L655.1,68.2 L655.6,68.1 L656.1,68.1 L656.6,68.0 L657.1,68.0 L657.5,68.0 L658.0,67.9 L658.5,67.9 L659.0,68.0 L659.5,68.0 L660.0,68.0 L660.5,68.0 L660.9,68.1 L661.4,68.1 L661.9,68.2 L662.4,68.3 L662.9,68.3 L663.4,68.4 L663.9,68.4 L664.3,68.5 L664.8,68.6 L665.3,68.6 L665.8,68.6 L666.3,68.6 L666.8,68.6 L667.2,68.6" fill="none" stroke="#5dff9a" stroke-width="1.90" stroke-linejoin="round" stroke-linecap="butt" />
<path d="M570.8,80.1 L571.2,80.0 L571.7,79.9 L572.2,79.8 L572.7,79.5 L573.2,79.2 L573.7,78.8 L574.2,78.3 L574.6,77.8 L575.1,77.3 L575.6,76.8 L576.1,76.2 L576.6,75.6 L577.1,75.1 L577.6,74.5 L578.0,74.0 L578.5,73.5 L579.0,73.1 L579.5,72.7 L580.0,72.3 L580.5,72.0 L580.9,71.7 L581.4,71.5 L581.9,71.3 L582.4,71.2 L582.9,71.1 L583.4,71.0 L583.9,71.0 L584.3,71.0 L584.8,71.1 L585.3,71.1 L585.8,71.2 L586.3,71.4 L586.8,71.5 L587.2,71.7 L587.7,71.9 L588.2,72.1 L588.7,72.4 L589.2,72.6 L589.7,72.9 L590.2,73.2 L590.6,73.5 L591.1,73.9 L591.6,74.2 L592.1,74.6 L592.6,75.0 L593.1,75.5 L593.6,75.9 L594.0,76.4 L594.5,76.9 L595.0,77.4 L595.5,78.0 L596.0,78.6 L596.5,79.2 L596.9,79.8 L597.4,80.5 L597.9,81.2 L598.4,81.9 L598.9,82.7 L599.4,83.5 L599.9,84.4 L600.3,85.3 L600.8,86.2 L601.3,87.1 L601.8,88.1 L602.3,89.1 L602.8,90.2 L603.2,91.3 L603.7,92.4 L604.2,93.6 L604.7,94.7 L605.2,96.0 L605.7,97.2 L606.2,98.5 L606.6,99.8 L607.1,101.1 L607.6,102.4 L608.1,103.8 L608.6,105.1 L609.1,106.5 L609.5,107.8 L610.0,109.1 L610.5,110.5 L611.0,111.8 L611.5,113.1 L612.0,114.3 L612.5,115.5 L612.9,116.7 L613.4,117.8 L613.9,118.9 L614.4,119.9 L614.9,120.8 L615.4,121.6 L615.9,122.4 L616.3,123.1 L616.8,123.6 L617.3,124.1 L617.8,124.5 L618.3,124.8 L618.8,124.9 L619.2,125.0 L619.7,125.0 L620.2,124.8 L620.7,124.6 L621.2,124.2 L621.7,123.7 L622.2,123.2 L622.6,122.5 L623.1,121.8 L623.6,120.9 L624.1,120.0 L624.6,119.1 L625.1,118.0 L625.5,116.9 L626.0,115.8 L626.5,114.6 L627.0,113.3 L627.5,112.0 L628.0,110.7 L628.5,109.4 L628.9,108.1 L629.4,106.7 L629.9,105.4 L630.4,104.0 L630.9,102.7 L631.4,101.3 L631.9,100.0 L632.3,98.7 L632.8,97.5 L633.3,96.2 L633.8,95.0 L634.3,93.8 L634.8,92.6 L635.2,91.5 L635.7,90.4 L636.2,89.3 L636.7,88.3 L637.2,87.3 L637.7,86.3 L638.2,85.4 L638.6,84.5 L639.1,83.7 L639.6,82.9 L640.1,82.1 L640.6,81.3 L641.1,80.6 L641.5,79.9 L642.0,79.3 L642.5,78.7 L643.0,78.1 L643.5,77.5 L644.0,77.0 L644.5,76.5 L644.9,76.0 L645.4,75.5 L645.9,75.1 L646.4,74.7 L646.9,74.3 L647.4,73.9 L647.9,73.6 L648.3,73.2 L648.8,72.9 L649.3,72.6 L649.8,72.3 L650.3,72.1 L650.8,71.8 L651.2,71.6 L651.7,71.4 L652.2,71.2 L652.7,71.0 L653.2,70.8 L653.7,70.7 L654.2,70.5 L654.6,70.4 L655.1,70.3 L655.6,70.2 L656.1,70.1 L656.6,70.0 L657.1,69.9 L657.5,69.9 L658.0,69.9 L658.5,69.9 L659.0,69.9 L659.5,69.9 L660.0,69.9 L660.5,70.0 L660.9,70.1 L661.4,70.2 L661.9,70.2 L662.4,70.3 L662.9,70.4 L663.4,70.5 L663.9,70.6 L664.3,70.7 L664.8,70.7 L665.3,70.8 L665.8,70.8 L666.3,70.9 L666.8,70.9 L667.2,70.8" fill="none" stroke="#9aff5d" stroke-width="1.90" stroke-linejoin="round" stroke-linecap="butt" />
<path d="M570.8,84.6 L571.2,84.6 L571.7,84.5 L572.2,84.2 L572.7,83.9 L573.2,83.5 L573.7,83.0 L574.2,82.4 L574.6,81.8 L575.1,81.1 L575.6,80.4 L576.1,79.7 L576.6,78.9 L577.1,78.2 L577.6,77.5 L578.0,76.9 L578.5,76.3 L579.0,75.7 L579.5,75.2 L580.0,74.7 L580.5,74.3 L580.9,74.0 L581.4,73.7 L581.9,73.4 L582.4,73.2 L582.9,73.1 L583.4,73.0 L583.9,73.0 L584.3,73.0 L584.8,73.1 L585.3,73.2 L585.8,73.3 L586.3,73.5 L586.8,73.7 L587.2,73.9 L587.7,74.2 L588.2,74.5 L588.7,74.8 L589.2,75.1 L589.7,75.5 L590.2,75.8 L590.6,76.3 L591.1,76.7 L591.6,77.2 L592.1,77.7 L592.6,78.2 L593.1,78.7 L593.6,79.3 L594.0,79.9 L594.5,80.6 L595.0,81.2 L595.5,81.9 L596.0,82.7 L596.5,83.5 L596.9,84.3 L597.4,85.2 L597.9,86.1 L598.4,87.0 L598.9,88.0 L599.4,89.0 L599.9,90.1 L600.3,91.2 L600.8,92.4 L601.3,93.6 L601.8,94.9 L602.3,96.2 L602.8,97.5 L603.2,98.9 L603.7,100.4 L604.2,101.9 L604.7,103.4 L605.2,104.9 L605.7,106.5 L606.2,108.1 L606.6,109.8 L607.1,111.5 L607.6,113.2 L608.1,114.9 L608.6,116.6 L609.1,118.3 L609.5,120.1 L610.0,121.8 L610.5,123.5 L611.0,125.1 L611.5,126.8 L612.0,128.4 L612.5,129.9 L612.9,131.4 L613.4,132.8 L613.9,134.2 L614.4,135.5 L614.9,136.6 L615.4,137.7 L615.9,138.7 L616.3,139.5 L616.8,140.3 L617.3,140.9 L617.8,141.4 L618.3,141.7 L618.8,142.0 L619.2,142.0 L619.7,142.0 L620.2,141.8 L620.7,141.5 L621.2,141.0 L621.7,140.4 L622.2,139.7 L622.6,138.9 L623.1,137.9 L623.6,136.9 L624.1,135.7 L624.6,134.4 L625.1,133.1 L625.5,131.7 L626.0,130.2 L626.5,128.7 L627.0,127.1 L627.5,125.5 L628.0,123.8 L628.5,122.1 L628.9,120.4 L629.4,118.7 L629.9,116.9 L630.4,115.2 L630.9,113.5 L631.4,111.8 L631.9,110.1 L632.3,108.5 L632.8,106.8 L633.3,105.2 L633.8,103.7 L634.3,102.1 L634.8,100.6 L635.2,99.2 L635.7,97.8 L636.2,96.4 L636.7,95.1 L637.2,93.9 L637.7,92.6 L638.2,91.5 L638.6,90.3 L639.1,89.2 L639.6,88.2 L640.1,87.2 L640.6,86.2 L641.1,85.3 L641.5,84.5 L642.0,83.6 L642.5,82.8 L643.0,82.1 L643.5,81.4 L644.0,80.7 L644.5,80.0 L644.9,79.4 L645.4,78.8 L645.9,78.3 L646.4,77.7 L646.9,77.2 L647.4,76.8 L647.9,76.3 L648.3,75.9 L648.8,75.5 L649.3,75.1 L649.8,74.7 L650.3,74.4 L650.8,74.1 L651.2,73.8 L651.7,73.5 L652.2,73.3 L652.7,73.0 L653.2,72.8 L653.7,72.6 L654.2,72.4 L654.6,72.2 L655.1,72.1 L655.6,71.9 L656.1,71.8 L656.6,71.7 L657.1,71.7 L657.5,71.6 L658.0,71.6 L658.5,71.6 L659.0,71.6 L659.5,71.6 L660.0,71.7 L660.5,71.8 L660.9,71.8 L661.4,71.9 L661.9,72.1 L662.4,72.2 L662.9,72.3 L663.4,72.4 L663.9,72.5 L664.3,72.6 L664.8,72.7 L665.3,72.8 L665.8,72.8 L666.3,72.9 L666.8,72.9 L667.2,72.8" fill="none" stroke="#dbff1c" stroke-width="1.90" stroke-linejoin="round" stroke-linecap="butt" />
<path d="M570.8,86.6 L571.2,86.5 L571.7,86.4 L572.2,86.1 L572.7,85.8 L573.2,85.3 L573.7,84.8 L574.2,84.1 L574.6,83.4 L575.1,82.7 L575.6,81.9 L576.1,81.2 L576.6,80.4 L577.1,79.6 L577.6,78.8 L578.0,78.1 L578.5,77.4 L579.0,76.8 L579.5,76.3 L580.0,75.7 L580.5,75.3 L580.9,74.9 L581.4,74.6 L581.9,74.3 L582.4,74.1 L582.9,74.0 L583.4,73.9 L583.9,73.9 L584.3,73.9 L584.8,74.0 L585.3,74.1 L585.8,74.2 L586.3,74.4 L586.8,74.6 L587.2,74.9 L587.7,75.2 L588.2,75.5 L588.7,75.8 L589.2,76.2 L589.7,76.6 L590.2,77.0 L590.6,77.4 L591.1,77.9 L591.6,78.4 L592.1,79.0 L592.6,79.5 L593.1,80.1 L593.6,80.8 L594.0,81.4 L594.5,82.1 L595.0,82.9 L595.5,83.7 L596.0,84.5 L596.5,85.3 L596.9,86.2 L597.4,87.2 L597.9,88.2 L598.4,89.2 L598.9,90.3 L599.4,91.4 L599.9,92.6 L600.3,93.8 L600.8,95.1 L601.3,96.4 L601.8,97.8 L602.3,99.2 L602.8,100.7 L603.2,102.2 L603.7,103.8 L604.2,105.4 L604.7,107.1 L605.2,108.8 L605.7,110.5 L606.2,112.3 L606.6,114.1 L607.1,116.0 L607.6,117.8 L608.1,119.7 L608.6,121.6 L609.1,123.5 L609.5,125.3 L610.0,127.2 L610.5,129.1 L611.0,130.9 L611.5,132.7 L612.0,134.4 L612.5,136.1 L612.9,137.8 L613.4,139.3 L613.9,140.8 L614.4,142.2 L614.9,143.5 L615.4,144.7 L615.9,145.7 L616.3,146.6 L616.8,147.5 L617.3,148.1 L617.8,148.7 L618.3,149.0 L618.8,149.3 L619.2,149.4 L619.7,149.3 L620.2,149.1 L620.7,148.7 L621.2,148.2 L621.7,147.6 L622.2,146.8 L622.6,145.9 L623.1,144.9 L623.6,143.7 L624.1,142.4 L624.6,141.1 L625.1,139.6 L625.5,138.1 L626.0,136.4 L626.5,134.8 L627.0,133.0 L627.5,131.2 L628.0,129.4 L628.5,127.6 L628.9,125.7 L629.4,123.8 L629.9,121.9 L630.4,120.0 L630.9,118.2 L631.4,116.3 L631.9,114.5 L632.3,112.6 L632.8,110.9 L633.3,109.1 L633.8,107.4 L634.3,105.7 L634.8,104.1 L635.2,102.5 L635.7,101.0 L636.2,99.5 L636.7,98.1 L637.2,96.7 L637.7,95.3 L638.2,94.1 L638.6,92.8 L639.1,91.6 L639.6,90.5 L640.1,89.4 L640.6,88.4 L641.1,87.4 L641.5,86.4 L642.0,85.5 L642.5,84.6 L643.0,83.8 L643.5,83.0 L644.0,82.3 L644.5,81.6 L644.9,80.9 L645.4,80.2 L645.9,79.6 L646.4,79.1 L646.9,78.5 L647.4,78.0 L647.9,77.5 L648.3,77.0 L648.8,76.6 L649.3,76.2 L649.8,75.8 L650.3,75.4 L650.8,75.1 L651.2,74.7 L651.7,74.4 L652.2,74.2 L652.7,73.9 L653.2,73.6 L653.7,73.4 L654.2,73.2 L654.6,73.0 L655.1,72.9 L655.6,72.7 L656.1,72.6 L656.6,72.5 L657.1,72.4 L657.5,72.4 L658.0,72.3 L658.5,72.3 L659.0,72.3 L659.5,72.4 L660.0,72.4 L660.5,72.5 L660.9,72.6 L661.4,72.7 L661.9,72.8 L662.4,73.0 L662.9,73.1 L663.4,73.2 L663.9,73.3 L664.3,73.5 L664.8,73.6 L665.3,73.6 L665.8,73.7 L666.3,73.7 L666.8,73.7 L667.2,73.7" fill="none" stroke="#ffcc00" stroke-width="1.90" stroke-linejoin="round" stroke-linecap="butt" />
<path d="M570.8,90.7 L571.2,90.7 L571.7,90.6 L572.2,90.3 L572.7,89.8 L573.2,89.3 L573.7,88.6 L574.2,87.9 L574.6,87.1 L575.1,86.2 L575.6,85.3 L576.1,84.4 L576.6,83.4 L577.1,82.5 L577.6,81.6 L578.0,80.8 L578.5,80.0 L579.0,79.2 L579.5,78.6 L580.0,78.0 L580.5,77.4 L580.9,77.0 L581.4,76.6 L581.9,76.3 L582.4,76.1 L582.9,75.9 L583.4,75.8 L583.9,75.8 L584.3,75.8 L584.8,75.9 L585.3,76.0 L585.8,76.2 L586.3,76.4 L586.8,76.6 L587.2,76.9 L587.7,77.3 L588.2,77.6 L588.7,78.0 L589.2,78.5 L589.7,78.9 L590.2,79.4 L590.6,80.0 L591.1,80.5 L591.6,81.1 L592.1,81.8 L592.6,82.4 L593.1,83.1 L593.6,83.9 L594.0,84.7 L594.5,85.5 L595.0,86.4 L595.5,87.3 L596.0,88.3 L596.5,89.3 L596.9,90.4 L597.4,91.5 L597.9,92.7 L598.4,93.9 L598.9,95.2 L599.4,96.5 L599.9,97.9 L600.3,99.3 L600.8,100.9 L601.3,102.4 L601.8,104.1 L602.3,105.8 L602.8,107.5 L603.2,109.3 L603.7,111.2 L604.2,113.1 L604.7,115.0 L605.2,117.1 L605.7,119.1 L606.2,121.2 L606.6,123.4 L607.1,125.5 L607.6,127.7 L608.1,130.0 L608.6,132.2 L609.1,134.4 L609.5,136.6 L610.0,138.9 L610.5,141.1 L611.0,143.2 L611.5,145.3 L612.0,147.4 L612.5,149.4 L612.9,151.4 L613.4,153.2 L613.9,154.9 L614.4,156.6 L614.9,158.1 L615.4,159.5 L615.9,160.8 L616.3,161.9 L616.8,162.8 L617.3,163.6 L617.8,164.2 L618.3,164.7 L618.8,165.0 L619.2,165.1 L619.7,165.0 L620.2,164.8 L620.7,164.3 L621.2,163.8 L621.7,163.0 L622.2,162.1 L622.6,161.0 L623.1,159.8 L623.6,158.4 L624.1,156.9 L624.6,155.3 L625.1,153.5 L625.5,151.7 L626.0,149.8 L626.5,147.8 L627.0,145.7 L627.5,143.6 L628.0,141.5 L628.5,139.3 L628.9,137.1 L629.4,134.8 L629.9,132.6 L630.4,130.4 L630.9,128.2 L631.4,126.0 L631.9,123.8 L632.3,121.6 L632.8,119.5 L633.3,117.4 L633.8,115.4 L634.3,113.4 L634.8,111.5 L635.2,109.7 L635.7,107.8 L636.2,106.1 L636.7,104.4 L637.2,102.7 L637.7,101.2 L638.2,99.6 L638.6,98.2 L639.1,96.8 L639.6,95.4 L640.1,94.1 L640.6,92.9 L641.1,91.7 L641.5,90.6 L642.0,89.5 L642.5,88.5 L643.0,87.5 L643.5,86.6 L644.0,85.7 L644.5,84.8 L644.9,84.0 L645.4,83.3 L645.9,82.6 L646.4,81.9 L646.9,81.2 L647.4,80.6 L647.9,80.0 L648.3,79.5 L648.8,79.0 L649.3,78.5 L649.8,78.0 L650.3,77.6 L650.8,77.2 L651.2,76.8 L651.7,76.4 L652.2,76.1 L652.7,75.8 L653.2,75.5 L653.7,75.2 L654.2,75.0 L654.6,74.7 L655.1,74.5 L655.6,74.4 L656.1,74.2 L656.6,74.1 L657.1,74.0 L657.5,73.9 L658.0,73.9 L658.5,73.9 L659.0,73.9 L659.5,74.0 L660.0,74.0 L660.5,74.1 L660.9,74.2 L661.4,74.4 L661.9,74.5 L662.4,74.7 L662.9,74.8 L663.4,75.0 L663.9,75.1 L664.3,75.2 L664.8,75.4 L665.3,75.5 L665.8,75.5 L666.3,75.5 L666.8,75.5 L667.2,75.5" fill="none" stroke="#ff8600" stroke-width="1.90" stroke-linejoin="round" stroke-linecap="butt" />
<path d="M570.8,91.9 L571.2,91.9 L571.7,91.7 L572.2,91.4 L572.7,91.0 L573.2,90.4 L573.7,89.7 L574.2,88.9 L574.6,88.1 L575.1,87.2 L575.6,86.2 L576.1,85.3 L576.6,84.3 L577.1,83.3 L577.6,82.4 L578.0,81.5 L578.5,80.7 L579.0,79.9 L579.5,79.2 L580.0,78.6 L580.5,78.0 L580.9,77.6 L581.4,77.2 L581.9,76.8 L582.4,76.6 L582.9,76.4 L583.4,76.3 L583.9,76.3 L584.3,76.3 L584.8,76.4 L585.3,76.5 L585.8,76.7 L586.3,76.9 L586.8,77.2 L587.2,77.5 L587.7,77.9 L588.2,78.2 L588.7,78.6 L589.2,79.1 L589.7,79.6 L590.2,80.1 L590.6,80.7 L591.1,81.3 L591.6,81.9 L592.1,82.5 L592.6,83.3 L593.1,84.0 L593.6,84.8 L594.0,85.6 L594.5,86.5 L595.0,87.4 L595.5,88.3 L596.0,89.4 L596.5,90.4 L596.9,91.5 L597.4,92.7 L597.9,93.9 L598.4,95.2 L598.9,96.5 L599.4,97.9 L599.9,99.4 L600.3,100.9 L600.8,102.5 L601.3,104.1 L601.8,105.8 L602.3,107.6 L602.8,109.4 L603.2,111.3 L603.7,113.3 L604.2,115.3 L604.7,117.3 L605.2,119.4 L605.7,121.6 L606.2,123.8 L606.6,126.0 L607.1,128.3 L607.6,130.6 L608.1,132.9 L608.6,135.2 L609.1,137.5 L609.5,139.9 L610.0,142.2 L610.5,144.5 L611.0,146.7 L611.5,148.9 L612.0,151.1 L612.5,153.2 L612.9,155.2 L613.4,157.1 L613.9,159.0 L614.4,160.7 L614.9,162.3 L615.4,163.7 L615.9,165.0 L616.3,166.2 L616.8,167.2 L617.3,168.0 L617.8,168.7 L618.3,169.1 L618.8,169.4 L619.2,169.5 L619.7,169.5 L620.2,169.2 L620.7,168.8 L621.2,168.1 L621.7,167.3 L622.2,166.4 L622.6,165.3 L623.1,164.0 L623.6,162.5 L624.1,161.0 L624.6,159.3 L625.1,157.5 L625.5,155.6 L626.0,153.6 L626.5,151.5 L627.0,149.3 L627.5,147.1 L628.0,144.9 L628.5,142.6 L628.9,140.3 L629.4,138.0 L629.9,135.6 L630.4,133.3 L630.9,131.0 L631.4,128.7 L631.9,126.4 L632.3,124.2 L632.8,122.0 L633.3,119.8 L633.8,117.7 L634.3,115.6 L634.8,113.6 L635.2,111.7 L635.7,109.8 L636.2,107.9 L636.7,106.2 L637.2,104.4 L637.7,102.8 L638.2,101.2 L638.6,99.7 L639.1,98.2 L639.6,96.8 L640.1,95.5 L640.6,94.2 L641.1,92.9 L641.5,91.8 L642.0,90.6 L642.5,89.6 L643.0,88.5 L643.5,87.6 L644.0,86.6 L644.5,85.8 L644.9,84.9 L645.4,84.1 L645.9,83.4 L646.4,82.7 L646.9,82.0 L647.4,81.3 L647.9,80.7 L648.3,80.2 L648.8,79.6 L649.3,79.1 L649.8,78.6 L650.3,78.2 L650.8,77.7 L651.2,77.3 L651.7,77.0 L652.2,76.6 L652.7,76.3 L653.2,76.0 L653.7,75.7 L654.2,75.4 L654.6,75.2 L655.1,75.0 L655.6,74.8 L656.1,74.7 L656.6,74.6 L657.1,74.5 L657.5,74.4 L658.0,74.4 L658.5,74.4 L659.0,74.4 L659.5,74.4 L660.0,74.5 L660.5,74.6 L660.9,74.7 L661.4,74.8 L661.9,75.0 L662.4,75.1 L662.9,75.3 L663.4,75.5 L663.9,75.6 L664.3,75.8 L664.8,75.9 L665.3,76.0 L665.8,76.0 L666.3,76.1 L666.8,76.1 L667.2,76.0" fill="none" stroke="#ff3b00" stroke-width="1.90" stroke-linejoin="round" stroke-linecap="butt" />
<path d="M570.8,95.0 L571.2,95.0 L571.7,94.8 L572.2,94.4 L572.7,93.9 L573.2,93.3 L573.7,92.6 L574.2,91.7 L574.6,90.8 L575.1,89.7 L575.6,88.7 L576.1,87.6 L576.6,86.5 L577.1,85.5 L577.6,84.4 L578.0,83.5 L578.5,82.5 L579.0,81.7 L579.5,80.9 L580.0,80.2 L580.5,79.6 L580.9,79.1 L581.4,78.6 L581.9,78.3 L582.4,78.0 L582.9,77.8 L583.4,77.7 L583.9,77.7 L584.3,77.7 L584.8,77.8 L585.3,77.9 L585.8,78.1 L586.3,78.4 L586.8,78.7 L587.2,79.0 L587.7,79.4 L588.2,79.8 L588.7,80.3 L589.2,80.8 L589.7,81.3 L590.2,81.9 L590.6,82.5 L591.1,83.2 L591.6,83.9 L592.1,84.6 L592.6,85.4 L593.1,86.2 L593.6,87.1 L594.0,88.0 L594.5,89.0 L595.0,90.0 L595.5,91.0 L596.0,92.2 L596.5,93.3 L596.9,94.6 L597.4,95.9 L597.9,97.2 L598.4,98.6 L598.9,100.1 L599.4,101.7 L599.9,103.3 L600.3,105.0 L600.8,106.7 L601.3,108.5 L601.8,110.4 L602.3,112.4 L602.8,114.4 L603.2,116.5 L603.7,118.6 L604.2,120.9 L604.7,123.1 L605.2,125.5 L605.7,127.9 L606.2,130.3 L606.6,132.8 L607.1,135.3 L607.6,137.8 L608.1,140.4 L608.6,143.0 L609.1,145.6 L609.5,148.1 L610.0,150.7 L610.5,153.3 L611.0,155.8 L611.5,158.2 L612.0,160.6 L612.5,162.9 L612.9,165.2 L613.4,167.3 L613.9,169.3 L614.4,171.2 L614.9,173.0 L615.4,174.6 L615.9,176.1 L616.3,177.3 L616.8,178.4 L617.3,179.4 L617.8,180.1 L618.3,180.6 L618.8,181.0 L619.2,181.1 L619.7,181.0 L620.2,180.7 L620.7,180.2 L621.2,179.5 L621.7,178.6 L622.2,177.6 L622.6,176.3 L623.1,174.9 L623.6,173.3 L624.1,171.6 L624.6,169.7 L625.1,167.7 L625.5,165.6 L626.0,163.4 L626.5,161.1 L627.0,158.7 L627.5,156.2 L628.0,153.7 L628.5,151.2 L628.9,148.6 L629.4,146.1 L629.9,143.5 L630.4,140.9 L630.9,138.3 L631.4,135.8 L631.9,133.2 L632.3,130.8 L632.8,128.3 L633.3,125.9 L633.8,123.6 L634.3,121.3 L634.8,119.1 L635.2,116.9 L635.7,114.8 L636.2,112.8 L636.7,110.8 L637.2,108.9 L637.7,107.1 L638.2,105.3 L638.6,103.6 L639.1,102.0 L639.6,100.4 L640.1,98.9 L640.6,97.5 L641.1,96.1 L641.5,94.8 L642.0,93.6 L642.5,92.4 L643.0,91.2 L643.5,90.2 L644.0,89.1 L644.5,88.2 L644.9,87.2 L645.4,86.4 L645.9,85.5 L646.4,84.7 L646.9,84.0 L647.4,83.3 L647.9,82.6 L648.3,82.0 L648.8,81.4 L649.3,80.8 L649.8,80.3 L650.3,79.8 L650.8,79.3 L651.2,78.8 L651.7,78.4 L652.2,78.0 L652.7,77.7 L653.2,77.3 L653.7,77.0 L654.2,76.7 L654.6,76.5 L655.1,76.2 L655.6,76.0 L656.1,75.9 L656.6,75.7 L657.1,75.6 L657.5,75.6 L658.0,75.5 L658.5,75.5 L659.0,75.5 L659.5,75.6 L660.0,75.7 L660.5,75.8 L660.9,75.9 L661.4,76.1 L661.9,76.2 L662.4,76.4 L662.9,76.6 L663.4,76.7 L663.9,76.9 L664.3,77.1 L664.8,77.2 L665.3,77.3 L665.8,77.4 L666.3,77.4 L666.8,77.4 L667.2,77.4" fill="none" stroke="#d60000" stroke-width="1.90" stroke-linejoin="round" stroke-linecap="butt" />
<path d="M570.8,96.1 L571.2,96.1 L571.7,95.9 L572.2,95.5 L572.7,95.0 L573.2,94.4 L573.7,93.6 L574.2,92.7 L574.6,91.7 L575.1,90.7 L575.6,89.6 L576.1,88.5 L576.6,87.4 L577.1,86.3 L577.6,85.2 L578.0,84.2 L578.5,83.2 L579.0,82.3 L579.5,81.5 L580.0,80.8 L580.5,80.2 L580.9,79.6 L581.4,79.2 L581.9,78.8 L582.4,78.5 L582.9,78.3 L583.4,78.2 L583.9,78.2 L584.3,78.2 L584.8,78.3 L585.3,78.4 L585.8,78.6 L586.3,78.9 L586.8,79.2 L587.2,79.6 L587.7,80.0 L588.2,80.4 L588.7,80.9 L589.2,81.4 L589.7,81.9 L590.2,82.5 L590.6,83.2 L591.1,83.9 L591.6,84.6 L592.1,85.3 L592.6,86.2 L593.1,87.0 L593.6,87.9 L594.0,88.9 L594.5,89.9 L595.0,90.9 L595.5,92.0 L596.0,93.2 L596.5,94.4 L596.9,95.7 L597.4,97.0 L597.9,98.4 L598.4,99.9 L598.9,101.4 L599.4,103.0 L599.9,104.7 L600.3,106.4 L600.8,108.3 L601.3,110.1 L601.8,112.1 L602.3,114.1 L602.8,116.2 L603.2,118.4 L603.7,120.6 L604.2,122.9 L604.7,125.3 L605.2,127.7 L605.7,130.2 L606.2,132.7 L606.6,135.2 L607.1,137.8 L607.6,140.5 L608.1,143.1 L608.6,145.8 L609.1,148.5 L609.5,151.2 L610.0,153.8 L610.5,156.5 L611.0,159.1 L611.5,161.6 L612.0,164.1 L612.5,166.5 L612.9,168.8 L613.4,171.0 L613.9,173.1 L614.4,175.1 L614.9,176.9 L615.4,178.6 L615.9,180.1 L616.3,181.4 L616.8,182.5 L617.3,183.5 L617.8,184.3 L618.3,184.8 L618.8,185.1 L619.2,185.3 L619.7,185.2 L620.2,184.9 L620.7,184.4 L621.2,183.7 L621.7,182.7 L622.2,181.6 L622.6,180.3 L623.1,178.9 L623.6,177.2 L624.1,175.4 L624.6,173.5 L625.1,171.4 L625.5,169.2 L626.0,166.9 L626.5,164.5 L627.0,162.1 L627.5,159.5 L628.0,156.9 L628.5,154.3 L628.9,151.7 L629.4,149.0 L629.9,146.3 L630.4,143.6 L630.9,141.0 L631.4,138.3 L631.9,135.7 L632.3,133.2 L632.8,130.6 L633.3,128.1 L633.8,125.7 L634.3,123.3 L634.8,121.0 L635.2,118.8 L635.7,116.6 L636.2,114.5 L636.7,112.5 L637.2,110.5 L637.7,108.6 L638.2,106.8 L638.6,105.0 L639.1,103.3 L639.6,101.7 L640.1,100.2 L640.6,98.7 L641.1,97.3 L641.5,95.9 L642.0,94.6 L642.5,93.4 L643.0,92.2 L643.5,91.1 L644.0,90.0 L644.5,89.0 L644.9,88.1 L645.4,87.2 L645.9,86.3 L646.4,85.5 L646.9,84.7 L647.4,84.0 L647.9,83.3 L648.3,82.6 L648.8,82.0 L649.3,81.4 L649.8,80.8 L650.3,80.3 L650.8,79.8 L651.2,79.4 L651.7,78.9 L652.2,78.5 L652.7,78.2 L653.2,77.8 L653.7,77.5 L654.2,77.2 L654.6,76.9 L655.1,76.7 L655.6,76.5 L656.1,76.3 L656.6,76.2 L657.1,76.1 L657.5,76.0 L658.0,75.9 L658.5,75.9 L659.0,76.0 L659.5,76.0 L660.0,76.1 L660.5,76.2 L660.9,76.3 L661.4,76.5 L661.9,76.7 L662.4,76.8 L662.9,77.0 L663.4,77.2 L663.9,77.4 L664.3,77.5 L664.8,77.7 L665.3,77.8 L665.8,77.9 L666.3,77.9 L666.8,77.9 L667.2,77.9" fill="none" stroke="#800000" stroke-width="1.90" stroke-linejoin="round" stroke-linecap="butt" />
</g>
<rect x="497.50" y="0.50" width="177.00" height="188.50" fill="none" stroke="#222" stroke-width="1.00"/>
<line x1="569.50" y1="0.50" x2="569.50" y2="189.00" stroke="#222" stroke-width="1.00"/>
<line x1="494.00" y1="11.30" x2="497.50" y2="11.30" stroke="#222" stroke-width="1.00"/>
<text x="490.60" y="15.85" font-size="12.30" text-anchor="end" fill="#111" stroke="#111" stroke-width="0.2" textLength="6.00" lengthAdjust="spacingAndGlyphs">2</text>
<line x1="494.00" y1="37.50" x2="497.50" y2="37.50" stroke="#222" stroke-width="1.00"/>
<text x="490.60" y="42.05" font-size="12.30" text-anchor="end" fill="#111" stroke="#111" stroke-width="0.2" textLength="6.00" lengthAdjust="spacingAndGlyphs">1</text>
<line x1="494.00" y1="63.70" x2="497.50" y2="63.70" stroke="#222" stroke-width="1.00"/>
<text x="490.60" y="68.25" font-size="12.30" text-anchor="end" fill="#111" stroke="#111" stroke-width="0.2" textLength="6.00" lengthAdjust="spacingAndGlyphs">0</text>
<line x1="494.00" y1="89.90" x2="497.50" y2="89.90" stroke="#222" stroke-width="1.00"/>
<text x="490.60" y="94.45" font-size="12.30" text-anchor="end" fill="#111" stroke="#111" stroke-width="0.2" textLength="12.10" lengthAdjust="spacingAndGlyphs">&#8722;1</text>
<line x1="494.00" y1="116.10" x2="497.50" y2="116.10" stroke="#222" stroke-width="1.00"/>
<text x="490.60" y="120.65" font-size="12.30" text-anchor="end" fill="#111" stroke="#111" stroke-width="0.2" textLength="12.10" lengthAdjust="spacingAndGlyphs">&#8722;2</text>
<line x1="494.00" y1="142.30" x2="497.50" y2="142.30" stroke="#222" stroke-width="1.00"/>
<text x="490.60" y="146.85" font-size="12.30" text-anchor="end" fill="#111" stroke="#111" stroke-width="0.2" textLength="12.10" lengthAdjust="spacingAndGlyphs">&#8722;3</text>
<line x1="494.00" y1="168.50" x2="497.50" y2="168.50" stroke="#222" stroke-width="1.00"/>
<text x="490.60" y="173.05" font-size="12.30" text-anchor="end" fill="#111" stroke="#111" stroke-width="0.2" textLength="12.10" lengthAdjust="spacingAndGlyphs">&#8722;4</text>
<line x1="508.40" y1="189.00" x2="508.40" y2="192.50" stroke="#222" stroke-width="1.00"/>
<text transform="translate(507.90,205.40) rotate(-15)" x="0" y="4.4" font-size="12.30" text-anchor="middle" fill="#111" stroke="#111" stroke-width="0.2" textLength="25.5" lengthAdjust="spacingAndGlyphs">-0.02</text>
<line x1="591.50" y1="189.00" x2="591.50" y2="192.50" stroke="#222" stroke-width="1.00"/>
<text transform="translate(591.00,205.40) rotate(-15)" x="0" y="4.4" font-size="12.30" text-anchor="middle" fill="#111" stroke="#111" stroke-width="0.2" textLength="25.5" lengthAdjust="spacingAndGlyphs">-0.02</text>
<line x1="537.40" y1="189.00" x2="537.40" y2="192.50" stroke="#222" stroke-width="1.00"/>
<text transform="translate(536.90,205.40) rotate(-15)" x="0" y="4.4" font-size="12.30" text-anchor="middle" fill="#111" stroke="#111" stroke-width="0.2" textLength="21.0" lengthAdjust="spacingAndGlyphs">0.00</text>
<line x1="620.30" y1="189.00" x2="620.30" y2="192.50" stroke="#222" stroke-width="1.00"/>
<text transform="translate(619.80,205.40) rotate(-15)" x="0" y="4.4" font-size="12.30" text-anchor="middle" fill="#111" stroke="#111" stroke-width="0.2" textLength="21.0" lengthAdjust="spacingAndGlyphs">0.00</text>
<line x1="566.40" y1="189.00" x2="566.40" y2="192.50" stroke="#222" stroke-width="1.00"/>
<text transform="translate(565.90,205.40) rotate(-15)" x="0" y="4.4" font-size="12.30" text-anchor="middle" fill="#111" stroke="#111" stroke-width="0.2" textLength="21.0" lengthAdjust="spacingAndGlyphs">0.02</text>
<line x1="649.10" y1="189.00" x2="649.10" y2="192.50" stroke="#222" stroke-width="1.00"/>
<text transform="translate(648.60,205.40) rotate(-15)" x="0" y="4.4" font-size="12.30" text-anchor="middle" fill="#111" stroke="#111" stroke-width="0.2" textLength="21.0" lengthAdjust="spacingAndGlyphs">0.02</text>
<text x="585.30" y="232.00" font-size="14.00" text-anchor="middle" fill="#1a1a1a"  style="">&#916;<tspan font-style="italic">k</tspan><tspan font-size="10.5" dy="2.5">x</tspan><tspan dy="-2.5"> (&#197;</tspan><tspan font-size="9.5" dy="-5">&#8722;1</tspan><tspan dy="5">)</tspan></text>
<text transform="translate(470.8,95) rotate(-90)" font-size="14" text-anchor="middle" fill="#1a1a1a">&#916;<tspan font-style="italic">n</tspan> (10<tspan font-size="9.5" dy="-5">&#8722;3</tspan><tspan dy="5">)</tspan></text>
<text x="459.30" y="14.00" font-size="12.5" text-anchor="start" fill="#111" textLength="12.60" lengthAdjust="spacingAndGlyphs">(c)</text>
<text x="611.00" y="60.50" font-size="8.80" text-anchor="middle" fill="#23238e"  style="">t =15.7 fs</text>
<text x="654.50" y="146.00" font-size="8.80" text-anchor="middle" fill="#8b1a1a"  style="">t =23.1 fs</text>
<rect x="547.5" y="135.2" width="44.5" height="16.2" fill="#999"/>
<text x="569.80" y="146.50" font-size="8.80" text-anchor="middle" fill="#e6e600"  style="">t =20.6 fs</text>
<text x="503.00" y="159.80" font-size="11.50" text-anchor="start" fill="#1a1a1a"  style=""><tspan font-style="italic">k</tspan><tspan font-size="9" dy="2.5">y, z</tspan><tspan dy="-2.5">=</tspan></text>
<text x="503.00" y="180.90" font-size="11.80" text-anchor="start" fill="#1a1a1a"  style=""><tspan font-style="italic">k</tspan><tspan font-size="8.5" dy="3">y, z</tspan><tspan font-size="8.5" dx="-13.5" dy="-9">W1</tspan><tspan dy="6">(0 fs)</tspan></text>
<text x="628.50" y="17.60" font-size="11.80" text-anchor="middle" fill="#1a1a1a"  style=""><tspan font-style="italic">k</tspan><tspan font-size="8.5" dy="2.5">y, z</tspan><tspan dy="-2.5">=</tspan><tspan font-style="italic">k</tspan><tspan font-size="8.5" dy="3">y, z</tspan><tspan font-size="8.5" dx="-13.5" dy="-9">W2</tspan><tspan dy="6">(0 fs)</tspan></text>
<defs><linearGradient id="jetg" x1="0" x2="1" y1="0" y2="0"><stop offset="0.000" stop-color="#000080"/><stop offset="0.031" stop-color="#0000a4"/><stop offset="0.062" stop-color="#0000c8"/><stop offset="0.094" stop-color="#0000ed"/><stop offset="0.125" stop-color="#0000ff"/><stop offset="0.156" stop-color="#0020ff"/><stop offset="0.188" stop-color="#0040ff"/><stop offset="0.219" stop-color="#0060ff"/><stop offset="0.250" stop-color="#0080ff"/><stop offset="0.281" stop-color="#00a0ff"/><stop offset="0.312" stop-color="#00c0ff"/><stop offset="0.344" stop-color="#00e0fb"/><stop offset="0.375" stop-color="#16ffe1"/><stop offset="0.406" stop-color="#30ffc7"/><stop offset="0.438" stop-color="#49ffad"/><stop offset="0.469" stop-color="#63ff94"/><stop offset="0.500" stop-color="#7dff7a"/><stop offset="0.531" stop-color="#97ff60"/><stop offset="0.562" stop-color="#b1ff46"/><stop offset="0.594" stop-color="#caff2c"/><stop offset="0.625" stop-color="#e4ff13"/><stop offset="0.656" stop-color="#feed00"/><stop offset="0.688" stop-color="#ffd000"/><stop offset="0.719" stop-color="#ffb200"/><stop offset="0.750" stop-color="#ff9400"/><stop offset="0.781" stop-color="#ff7700"/><stop offset="0.812" stop-color="#ff5900"/><stop offset="0.844" stop-color="#ff3b00"/><stop offset="0.875" stop-color="#ff1e00"/><stop offset="0.906" stop-color="#e80000"/><stop offset="0.938" stop-color="#c40000"/><stop offset="0.969" stop-color="#9f0000"/><stop offset="1.000" stop-color="#800000"/></linearGradient></defs>
<rect x="497.2" y="239.4" width="178" height="9.6" fill="url(#jetg)" stroke="#222" stroke-width="0.9"/>
<line x1="497.70" y1="249.00" x2="497.70" y2="252.50" stroke="#222" stroke-width="1.00"/>
<line x1="674.70" y1="249.00" x2="674.70" y2="252.50" stroke="#222" stroke-width="1.00"/>
<text x="497.50" y="265.35" font-size="12.30" text-anchor="middle" fill="#111" stroke="#111" stroke-width="0.2" textLength="21.00" lengthAdjust="spacingAndGlyphs">15.7</text>
<text x="674.50" y="265.35" font-size="12.30" text-anchor="middle" fill="#111" stroke="#111" stroke-width="0.2" textLength="21.00" lengthAdjust="spacingAndGlyphs">23.1</text>
<text x="586.30" y="268.50" font-size="11.50" text-anchor="middle" fill="#1a1a1a"  style=""><tspan font-style="italic">t</tspan> (fs)</text>
<line x1="342.40" y1="297.8" x2="496.8" y2="305.5" stroke="#e377c2" stroke-width="1.8"/>
<path d="M342.4,426.7 L343.7,427.5 L345.0,428.4 L346.3,429.2 L347.6,430.0 L348.9,430.8 L350.2,431.5 L351.5,432.3 L352.8,433.0 L354.1,433.7 L355.4,434.4 L356.7,435.0 L358.0,435.7 L359.3,436.3 L360.6,436.8 L361.9,437.4 L363.2,437.9 L364.5,438.5 L365.8,438.9 L367.1,439.4 L368.4,439.9 L369.7,440.3 L371.0,440.7 L372.3,441.0 L373.6,441.4 L374.9,441.7 L376.2,442.0 L377.5,442.2 L378.8,442.4 L380.1,442.7 L381.4,442.8 L382.7,443.0 L384.0,443.1 L385.3,443.2 L386.6,443.2 L387.9,443.3 L389.2,443.3 L390.5,443.2 L391.8,443.2 L393.1,443.1 L394.4,443.0 L395.7,442.8 L397.0,442.6 L398.3,442.4 L399.6,442.2 L400.9,441.9 L402.2,441.6 L403.5,441.2 L404.8,440.8 L406.1,440.4 L407.4,440.0 L408.7,439.5 L410.0,439.0 L411.3,438.4 L412.6,437.8 L413.9,437.2 L415.2,436.5 L416.5,435.8 L417.8,435.1 L419.1,434.3 L420.4,433.5 L421.7,432.6 L423.0,431.7 L424.3,430.8 L425.6,429.8 L426.9,428.8 L428.2,427.7 L429.5,426.7 L430.8,425.5 L432.1,424.3 L433.4,423.1 L434.7,421.9 L436.0,420.5 L437.2,419.2 L438.5,417.8 L439.8,416.4 L441.1,414.9 L442.4,413.4 L443.7,411.9 L445.0,410.4 L446.3,408.8 L447.6,407.2 L448.9,405.6 L450.2,403.9 L451.5,402.2 L452.8,400.6 L454.1,398.9 L455.4,397.1 L456.7,395.4 L458.0,393.7 L459.3,391.9 L460.6,390.2 L461.9,388.4 L463.2,386.7 L464.5,384.9 L465.8,383.1 L467.1,381.4 L468.4,379.6 L469.7,377.8 L471.0,376.0 L472.3,374.2 L473.6,372.4 L474.9,370.5 L476.2,368.7 L477.5,366.9 L478.8,365.0 L480.1,363.1 L481.4,361.3 L482.7,359.4 L484.0,357.5 L485.3,355.6 L486.6,353.7 L487.9,351.8 L489.2,349.9 L490.5,347.9 L491.8,346.0 L493.1,344.0 L494.4,342.1 L495.7,340.1 L497.0,338.1" fill="none" stroke="#17becf" stroke-width="1.80" stroke-linejoin="round" stroke-linecap="butt" />
<line x1="334.50" y1="277.50" x2="600.50" y2="277.50" stroke="#222" stroke-width="1.00"/>
<line x1="334.50" y1="450.00" x2="600.50" y2="450.00" stroke="#222" stroke-width="1.00"/>
<line x1="334.50" y1="277.50" x2="334.50" y2="450.00" stroke="#222" stroke-width="1.00"/>
<line x1="600.50" y1="277.50" x2="600.50" y2="450.00" stroke="#222" stroke-width="1.00"/>
<rect x="331.50" y="322.0" width="6" height="5.2" fill="#fff"/>
<line x1="330.80" y1="325.1" x2="337.60" y2="321.4" stroke="#222" stroke-width="1.1"/>
<line x1="331.40" y1="328.5" x2="338.20" y2="324.8" stroke="#222" stroke-width="1.1"/>
<rect x="597.50" y="322.0" width="6" height="5.2" fill="#fff"/>
<line x1="596.80" y1="325.1" x2="603.60" y2="321.4" stroke="#222" stroke-width="1.1"/>
<line x1="597.40" y1="328.5" x2="604.20" y2="324.8" stroke="#222" stroke-width="1.1"/>
<line x1="342.40" y1="450.00" x2="342.40" y2="453.50" stroke="#222" stroke-width="1.00"/>
<text x="342.40" y="467.55" font-size="12.30" text-anchor="middle" fill="#111" stroke="#111" stroke-width="0.2" textLength="6.00" lengthAdjust="spacingAndGlyphs">0</text>
<line x1="385.27" y1="450.00" x2="385.27" y2="453.50" stroke="#222" stroke-width="1.00"/>
<text x="385.27" y="467.55" font-size="12.30" text-anchor="middle" fill="#111" stroke="#111" stroke-width="0.2" textLength="12.00" lengthAdjust="spacingAndGlyphs">15</text>
<line x1="428.14" y1="450.00" x2="428.14" y2="453.50" stroke="#222" stroke-width="1.00"/>
<text x="428.14" y="467.55" font-size="12.30" text-anchor="middle" fill="#111" stroke="#111" stroke-width="0.2" textLength="12.00" lengthAdjust="spacingAndGlyphs">30</text>
<line x1="471.01" y1="450.00" x2="471.01" y2="453.50" stroke="#222" stroke-width="1.00"/>
<text x="471.01" y="467.55" font-size="12.30" text-anchor="middle" fill="#111" stroke="#111" stroke-width="0.2" textLength="12.00" lengthAdjust="spacingAndGlyphs">45</text>
<line x1="331.00" y1="277.30" x2="334.50" y2="277.30" stroke="#222" stroke-width="1.00"/>
<text x="327.50" y="282.25" font-size="12.30" text-anchor="end" fill="#111" stroke="#111" stroke-width="0.2" textLength="6.00" lengthAdjust="spacingAndGlyphs">2</text>
<line x1="331.00" y1="315.20" x2="334.50" y2="315.20" stroke="#222" stroke-width="1.00"/>
<text x="327.50" y="320.15" font-size="12.30" text-anchor="end" fill="#111" stroke="#111" stroke-width="0.2" textLength="6.00" lengthAdjust="spacingAndGlyphs">1</text>
<line x1="331.00" y1="352.80" x2="334.50" y2="352.80" stroke="#222" stroke-width="1.00"/>
<text x="327.50" y="357.55" font-size="12.30" text-anchor="end" fill="#111" stroke="#111" stroke-width="0.2" textLength="17.20" lengthAdjust="spacingAndGlyphs">-14</text>
<line x1="331.00" y1="390.50" x2="334.50" y2="390.50" stroke="#222" stroke-width="1.00"/>
<text x="327.50" y="395.25" font-size="12.30" text-anchor="end" fill="#111" stroke="#111" stroke-width="0.2" textLength="17.20" lengthAdjust="spacingAndGlyphs">-15</text>
<line x1="331.00" y1="428.20" x2="334.50" y2="428.20" stroke="#222" stroke-width="1.00"/>
<text x="327.50" y="432.95" font-size="12.30" text-anchor="end" fill="#111" stroke="#111" stroke-width="0.2" textLength="17.20" lengthAdjust="spacingAndGlyphs">-16</text>
<text x="467.00" y="482.50" font-size="13.00" text-anchor="middle" fill="#1a1a1a"  style=""><tspan font-style="italic">E</tspan> (meV)</text>
<text transform="translate(305,364.7) rotate(-90)" font-size="13" text-anchor="middle" fill="#1a1a1a">Im (<tspan font-style="italic">&#967;</tspan><tspan font-size="8.5" dy="3">31</tspan><tspan dy="-3">(</tspan><tspan font-style="italic">E</tspan>)) (10<tspan font-size="8.5" dy="-5">&#8722;4</tspan><tspan dy="5">)</tspan></text>
<text x="292.90" y="289.70" font-size="12.5" text-anchor="start" fill="#111" textLength="13.10" lengthAdjust="spacingAndGlyphs">(e)</text>
<rect x="505.5" y="285.5" width="87" height="49" rx="2" fill="#fff" fill-opacity="0.8" stroke="#d8d8d8" stroke-width="0.9"/>
<line x1="509" y1="293.9" x2="530" y2="293.9" stroke="#e377c2" stroke-width="1.8"/>
<line x1="509" y1="318.8" x2="530" y2="318.8" stroke="#17becf" stroke-width="1.8"/>
<text x="537.5" y="297.4" font-size="9.6" fill="#1a1a1a" textLength="50.8" lengthAdjust="spacingAndGlyphs">general <tspan font-weight="bold">k</tspan>, <tspan font-weight="bold">q</tspan></text>
<text x="537.5" y="314.2" font-size="10" fill="#1a1a1a"><tspan font-weight="bold">k</tspan> ~ <tspan font-weight="bold">k</tspan><tspan font-size="7.5" dy="-4.5" font-style="italic">W1</tspan></text>
<text x="537.5" y="327.2" font-size="10" fill="#1a1a1a"><tspan font-weight="bold">k</tspan>+<tspan font-weight="bold">q</tspan> ~ <tspan font-weight="bold">k</tspan><tspan font-size="7.5" dy="-4.5" font-style="italic">W2</tspan></text>
<polygon points="502.6,393.2 586.0,394.6 582.9,409.6 494.4,408.0 486.1,405.9" fill="#d4d4d4" fill-opacity="0.70" stroke="none" stroke-width="0.5"/>
<line x1="507.7" y1="359.2" x2="586.0" y2="360.6" stroke="#222" stroke-width="0.75"/>
<line x1="493.9" y1="369.5" x2="578.7" y2="370.9" stroke="#222" stroke-width="0.75"/>
<line x1="507.7" y1="359.2" x2="493.9" y2="369.5" stroke="#222" stroke-width="0.75"/>
<line x1="586.0" y1="360.6" x2="578.7" y2="370.9" stroke="#222" stroke-width="0.75"/>
<line x1="493.9" y1="369.5" x2="489.2" y2="384.9" stroke="#222" stroke-width="0.75"/>
<line x1="489.2" y1="384.9" x2="486.1" y2="405.9" stroke="#222" stroke-width="0.75"/>
<line x1="486.1" y1="405.9" x2="489.2" y2="426.1" stroke="#222" stroke-width="0.75"/>
<line x1="489.2" y1="426.1" x2="494.4" y2="443.6" stroke="#222" stroke-width="0.75"/>
<line x1="586.0" y1="360.6" x2="590.1" y2="378.8" stroke="#222" stroke-width="0.75"/>
<line x1="590.1" y1="378.8" x2="593.2" y2="396.3" stroke="#222" stroke-width="0.75"/>
<line x1="593.2" y1="396.3" x2="589.0" y2="419.9" stroke="#222" stroke-width="0.75"/>
<line x1="589.0" y1="419.9" x2="578.7" y2="445.7" stroke="#222" stroke-width="0.75"/>
<line x1="494.4" y1="443.6" x2="578.7" y2="445.7" stroke="#222" stroke-width="0.75"/>
<line x1="507.7" y1="427.1" x2="584.9" y2="430.2" stroke="#222" stroke-width="0.75"/>
<line x1="494.4" y1="443.6" x2="507.7" y2="427.1" stroke="#222" stroke-width="0.75"/>
<line x1="578.7" y1="445.7" x2="584.9" y2="430.2" stroke="#222" stroke-width="0.75"/>
<line x1="507.7" y1="359.2" x2="502.6" y2="376.7" stroke="#222" stroke-width="0.75"/>
<line x1="502.6" y1="376.7" x2="502.6" y2="393.2" stroke="#222" stroke-width="0.75"/>
<line x1="578.7" y1="370.9" x2="583.9" y2="393.2" stroke="#222" stroke-width="0.75"/>
<line x1="502.6" y1="393.2" x2="586.0" y2="394.6" stroke="#222" stroke-width="0.75"/>
<line x1="486.1" y1="405.9" x2="502.6" y2="393.2" stroke="#222" stroke-width="0.75"/>
<line x1="586.0" y1="394.6" x2="593.2" y2="396.3" stroke="#222" stroke-width="0.75"/>
<line x1="494.4" y1="408.0" x2="582.9" y2="409.6" stroke="#222" stroke-width="0.75"/>
<line x1="486.1" y1="405.9" x2="494.4" y2="408.0" stroke="#222" stroke-width="0.75"/>
<line x1="582.9" y1="409.6" x2="593.2" y2="396.3" stroke="#222" stroke-width="0.75"/>
<line x1="494.4" y1="408.0" x2="502.6" y2="411.7" stroke="#222" stroke-width="0.75"/>
<line x1="502.6" y1="411.7" x2="507.7" y2="427.1" stroke="#222" stroke-width="0.75"/>
<line x1="582.9" y1="409.6" x2="584.9" y2="430.2" stroke="#222" stroke-width="0.75"/>
<line x1="489.2" y1="384.9" x2="502.6" y2="376.7" stroke="#222" stroke-width="0.75"/>
<line x1="489.2" y1="426.1" x2="502.6" y2="411.7" stroke="#222" stroke-width="0.75"/>
<line x1="541.7" y1="367.4" x2="541.7" y2="433.3" stroke="#c0c0c0" stroke-width="0.60"/>
<rect x="523.2" y="376.9" width="5.5" height="14.2" fill="none" stroke="#e377c2" stroke-width="0.7"/>
<rect x="524.7" y="375.7" width="5.5" height="14.2" fill="none" stroke="#e377c2" stroke-width="0.7"/>
<rect x="532.4" y="376.9" width="5.5" height="14.2" fill="none" stroke="#17becf" stroke-width="0.7"/>
<rect x="533.9" y="375.7" width="5.5" height="14.2" fill="none" stroke="#17becf" stroke-width="0.7"/>
<rect x="523.2" y="401.6" width="5.5" height="15.2" fill="none" stroke="#e377c2" stroke-width="0.7"/>
<rect x="524.7" y="400.4" width="5.5" height="15.2" fill="none" stroke="#e377c2" stroke-width="0.7"/>
<rect x="529.3" y="401.6" width="5.5" height="15.2" fill="none" stroke="#17becf" stroke-width="0.7"/>
<rect x="530.8" y="400.4" width="5.5" height="15.2" fill="none" stroke="#17becf" stroke-width="0.7"/>
<circle cx="516.0" cy="378.8" r="1.25" fill="#ff7f0e"/>
<circle cx="514.9" cy="378.8" r="1.25" fill="#1f77b4"/>
<circle cx="542.7" cy="375.7" r="1.25" fill="#1f77b4"/>
<circle cx="546.2" cy="376.3" r="1.25" fill="#ff7f0e"/>
<circle cx="566.4" cy="379.8" r="1.25" fill="#ff7f0e"/>
<circle cx="535.9" cy="382.9" r="1.25" fill="#ff7f0e"/>
<circle cx="539.6" cy="383.3" r="1.25" fill="#1f77b4"/>
<circle cx="546.2" cy="393.2" r="1.25" fill="#d62728"/>
<circle cx="547.9" cy="393.6" r="1.25" fill="#9467bd"/>
<circle cx="496.4" cy="400.0" r="1.25" fill="#d62728"/>
<circle cx="587.0" cy="401.8" r="1.25" fill="#9467bd"/>
<circle cx="535.9" cy="408.6" r="1.25" fill="#d62728"/>
<circle cx="542.7" cy="417.5" r="1.25" fill="#1f77b4"/>
<circle cx="546.2" cy="417.5" r="1.25" fill="#ff7f0e"/>
<circle cx="516.6" cy="421.6" r="1.25" fill="#ff7f0e"/>
<circle cx="516.0" cy="422.0" r="1.25" fill="#1f77b4"/>
<circle cx="566.4" cy="423.0" r="1.25" fill="#ff7f0e"/>
<circle cx="535.9" cy="427.1" r="1.25" fill="#ff7f0e"/>
<circle cx="539.6" cy="427.1" r="1.25" fill="#1f77b4"/>
<text x="542.5" y="390.3" font-size="13" font-weight="bold" fill="#000" textLength="30" lengthAdjust="spacingAndGlyphs">k + q</text>
<text x="539.4" y="415.9" font-size="13" font-weight="bold" fill="#000">k</text>
</svg>
</body></html>
